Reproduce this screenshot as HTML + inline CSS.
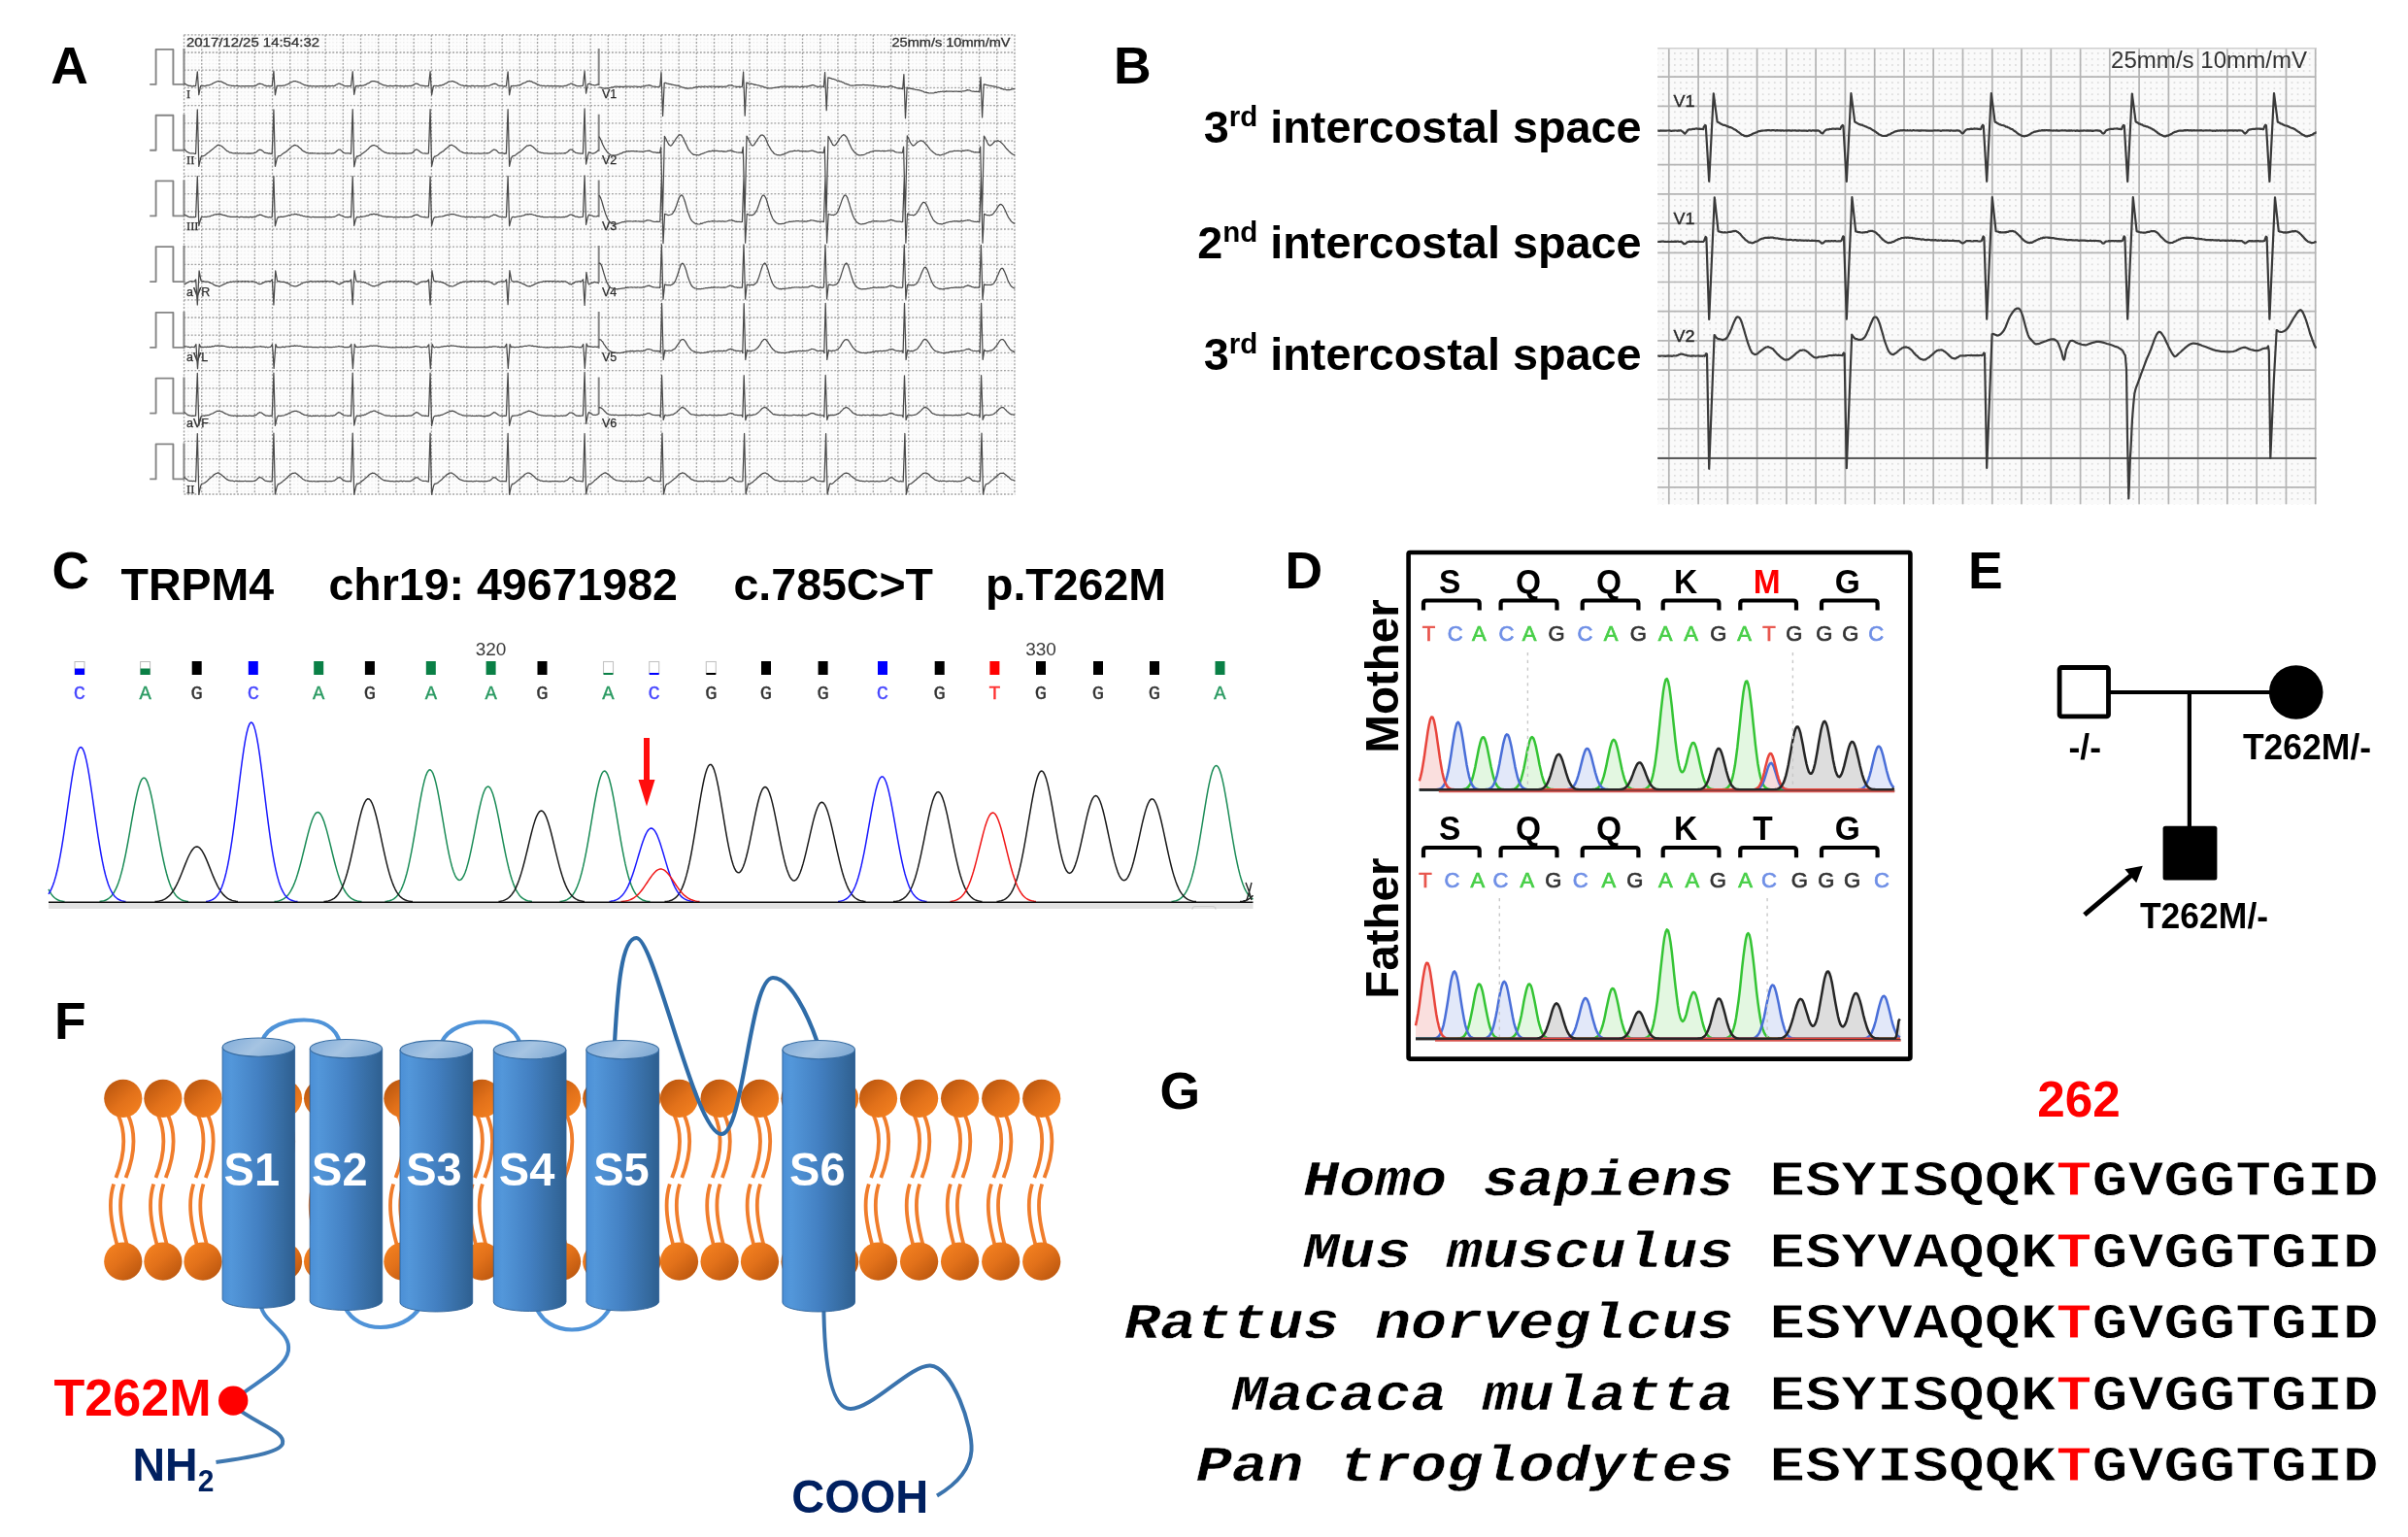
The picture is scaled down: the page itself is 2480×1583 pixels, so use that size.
<!DOCTYPE html>
<html><head><meta charset="utf-8"><title>Figure</title>
<style>
html,body{margin:0;padding:0;background:#fff;}
body{width:2480px;height:1583px;overflow:hidden;font-family:"Liberation Sans",sans-serif;}
svg{display:block;}
text{white-space:pre;}
</style></head><body>
<svg width="2480" height="1583" viewBox="0 0 2480 1583">
<rect width="2480" height="1583" fill="#fff"/>
<defs><filter id="nf" filterUnits="userSpaceOnUse" x="0" y="0" width="2480" height="1583" color-interpolation-filters="sRGB"><feOffset dx="0" dy="0"/></filter></defs>
<g filter="url(#nf)">
<defs>
<pattern id="gAd" x="189.5" y="35.8" width="3.6399999999999997" height="3.6399999999999997" patternUnits="userSpaceOnUse">
<rect x="0" y="0" width="1.3" height="1.3" fill="#ebebeb"/></pattern>
</defs>
<g id="panelA">
<rect x="188.5" y="34.8" width="857.8" height="474.7" fill="#fdfdfd"/>
<rect x="189.5" y="35.8" width="856.8" height="473.7" fill="url(#gAd)"/>
<path d="M189.5 35.8V508.5M207.7 35.8V508.5M225.9 35.8V508.5M244.1 35.8V508.5M262.3 35.8V508.5M280.5 35.8V508.5M298.7 35.8V508.5M316.9 35.8V508.5M335.1 35.8V508.5M353.3 35.8V508.5M371.5 35.8V508.5M389.7 35.8V508.5M407.9 35.8V508.5M426.1 35.8V508.5M444.3 35.8V508.5M462.5 35.8V508.5M480.7 35.8V508.5M498.9 35.8V508.5M517.1 35.8V508.5M535.3 35.8V508.5M553.5 35.8V508.5M571.7 35.8V508.5M589.9 35.8V508.5M608.1 35.8V508.5M626.3 35.8V508.5M644.5 35.8V508.5M662.7 35.8V508.5M680.9 35.8V508.5M699.1 35.8V508.5M717.3 35.8V508.5M735.5 35.8V508.5M753.7 35.8V508.5M771.9 35.8V508.5M790.1 35.8V508.5M808.3 35.8V508.5M826.5 35.8V508.5M844.7 35.8V508.5M862.9 35.8V508.5M881.1 35.8V508.5M899.3 35.8V508.5M917.5 35.8V508.5M935.7 35.8V508.5M953.9 35.8V508.5M972.1 35.8V508.5M990.3 35.8V508.5M1008.5 35.8V508.5M1026.7 35.8V508.5M1044.9 35.8V508.5M189.5 35.8H1045.3M189.5 54H1045.3M189.5 72.2H1045.3M189.5 90.4H1045.3M189.5 108.6H1045.3M189.5 126.8H1045.3M189.5 145H1045.3M189.5 163.2H1045.3M189.5 181.4H1045.3M189.5 199.6H1045.3M189.5 217.8H1045.3M189.5 236H1045.3M189.5 254.2H1045.3M189.5 272.4H1045.3M189.5 290.6H1045.3M189.5 308.8H1045.3M189.5 327H1045.3M189.5 345.2H1045.3M189.5 363.4H1045.3M189.5 381.6H1045.3M189.5 399.8H1045.3M189.5 418H1045.3M189.5 436.2H1045.3M189.5 454.4H1045.3M189.5 472.6H1045.3M189.5 490.8H1045.3M189.5 509H1045.3" stroke="#777" stroke-width="1.3" stroke-dasharray="1.9 1.74" fill="none" opacity="0.66"/>
<path d="M154.2 86.9H160.6V50.9H178.4V86.9H189.5M154.2 154.7H160.6V118.7H178.4V154.7H189.5M154.2 222.4H160.6V186.4H178.4V222.4H189.5M154.2 290.1H160.6V254.1H178.4V290.1H189.5M154.2 357.9H160.6V321.9H178.4V357.9H189.5M154.2 425.6H160.6V389.6H178.4V425.6H189.5M154.2 493.4H160.6V457.4H178.4V493.4H189.5" stroke="#858585" stroke-width="1.9" fill="none" stroke-linejoin="round"/>
<path d="M189.5 49.9V87.9M189.5 117.7V155.7M189.5 185.4V223.4M189.5 253.1V291.1M189.5 320.9V358.9M189.5 388.6V426.6M189.5 456.4V494.4M616.7 49.9V87.9M616.7 117.7V155.7M616.7 185.4V223.4M616.7 253.1V291.1M616.7 320.9V358.9M616.7 388.6V426.6" stroke="#858585" stroke-width="2" fill="none"/>
<text x="192" y="47.6" font-family='"Liberation Sans", sans-serif' font-size="12.5" font-weight="normal" fill="#303030" text-anchor="start" textLength="137" lengthAdjust="spacingAndGlyphs" stroke="#303030" stroke-width="0.3">2017/12/25 14:54:32</text>
<text x="1040.5" y="48.4" font-family='"Liberation Sans", sans-serif' font-size="12.5" font-weight="normal" fill="#303030" text-anchor="end" textLength="122" lengthAdjust="spacingAndGlyphs" stroke="#303030" stroke-width="0.3">25mm/s 10mm/mV</text>
<text x="192" y="101.4" font-family='"Liberation Serif", serif' font-size="12.5" font-weight="normal" fill="#2a2a2a" text-anchor="start" stroke="#2a2a2a" stroke-width="0.25">I</text>
<text x="192" y="169.2" font-family='"Liberation Serif", serif' font-size="12.5" font-weight="normal" fill="#2a2a2a" text-anchor="start" stroke="#2a2a2a" stroke-width="0.25">II</text>
<text x="192" y="236.9" font-family='"Liberation Serif", serif' font-size="12.5" font-weight="normal" fill="#2a2a2a" text-anchor="start" stroke="#2a2a2a" stroke-width="0.25">III</text>
<text x="192" y="304.6" font-family='"Liberation Sans", sans-serif' font-size="12.5" font-weight="normal" fill="#2a2a2a" text-anchor="start" stroke="#2a2a2a" stroke-width="0.25">aVR</text>
<text x="192" y="372.4" font-family='"Liberation Sans", sans-serif' font-size="12.5" font-weight="normal" fill="#2a2a2a" text-anchor="start" stroke="#2a2a2a" stroke-width="0.25">aVL</text>
<text x="192" y="440.1" font-family='"Liberation Sans", sans-serif' font-size="12.5" font-weight="normal" fill="#2a2a2a" text-anchor="start" stroke="#2a2a2a" stroke-width="0.25">aVF</text>
<text x="192" y="507.9" font-family='"Liberation Serif", serif' font-size="12.5" font-weight="normal" fill="#2a2a2a" text-anchor="start" stroke="#2a2a2a" stroke-width="0.25">II</text>
<text x="620" y="101.4" font-family='"Liberation Sans", sans-serif' font-size="12.5" font-weight="normal" fill="#2a2a2a" text-anchor="start" stroke="#2a2a2a" stroke-width="0.25">V1</text>
<text x="620" y="169.2" font-family='"Liberation Sans", sans-serif' font-size="12.5" font-weight="normal" fill="#2a2a2a" text-anchor="start" stroke="#2a2a2a" stroke-width="0.25">V2</text>
<text x="620" y="236.9" font-family='"Liberation Sans", sans-serif' font-size="12.5" font-weight="normal" fill="#2a2a2a" text-anchor="start" stroke="#2a2a2a" stroke-width="0.25">V3</text>
<text x="620" y="304.6" font-family='"Liberation Sans", sans-serif' font-size="12.5" font-weight="normal" fill="#2a2a2a" text-anchor="start" stroke="#2a2a2a" stroke-width="0.25">V4</text>
<text x="620" y="372.4" font-family='"Liberation Sans", sans-serif' font-size="12.5" font-weight="normal" fill="#2a2a2a" text-anchor="start" stroke="#2a2a2a" stroke-width="0.25">V5</text>
<text x="620" y="440.1" font-family='"Liberation Sans", sans-serif' font-size="12.5" font-weight="normal" fill="#2a2a2a" text-anchor="start" stroke="#2a2a2a" stroke-width="0.25">V6</text>
<path d="M189.5 86.3l1 -0.1 1 0.5 1 0.9 1 0.3 1 0.4 1 0.1 1 0 1 0.4 1 0 1 -0.4 1 0.2 1.1 -0.1 1.7 -14.7 1.5 23.8 1.8 -9.1 0.9 0.2 1 -0.4 1 0 1 0.4 1 -0.1 1 -0.4 1 -0.3 1 0 1 -0.2 1 -0.5 1 -0.2 1 -0.6 1 -0.6 1 -0.6 1 -0.4 1 -0.5 1 -0.3 1 -0.3 1 0 1 0.3 1 -0.2 1 0.6 1 0.4 1 0.8 1 0.1 1 0.6 1 0.8 1 0.3 1 0.2 1 0.3 1 0.1 1 0.4 1 -0.1 1 0.1 1 0.2 1 -0.1 1 -0.1 1 0 1 0.2 1 0 1 0.2 1 -0.1 1 -0.2 1 0.1 1 0.2 1 -0.2 1 -0.1 1 0 1 0.2 1 -0.1 1 0 1 -0.1 1 0.1 1 0 1 -0.1 1 0 1 -0.3 1 -0.8 1 -0.7 1 -0.3 1 -0.2 1 0.1 1 0.2 1 0.3 1 0.7 1 0.6 1 0.1 1 0.4 1 0 1 -0.2 1 0.2 1 0 1 0.1 0.7 -0.1 1.7 -15.2 1.5 24.4 1.8 -9.4 1.3 0 1 -0.1 1 0.1 1 -0.1 1 0 1 -0.1 1 -0.1 1 -0.1 1 -0.7 1 -0.3 1 -0.3 1 -0.6 1 -0.6 1 -0.5 1 -0.5 1 -0.5 1 -0.3 1 -0.1 1 0.1 1 0.3 1 0.3 1 0.4 1 0.3 1 0.4 1 0.6 1 0.5 1 0.5 1 0.6 1 0 1 0.4 1 0.4 1 0.2 1 0.1 1 -0.3 1 0.3 1 0.1 1 -0.3 1 0.2 1 0.1 1 0 1 -0.2 1 0.2 1 -0.1 1 -0.2 1 0.1 1 0.1 1 -0.1 1 0.2 1 -0.1 1 -0.1 1 0.2 1 0 1 -0.4 1 0.2 1 0.1 1 -0.2 1 -0.1 1 0.2 1 -0.2 1 -0.5 1 -0.9 1 -0.2 1 -0.7 1 -0.1 1 0.4 1 0.6 1 0.2 1 0.6 1 0.5 1 0.3 1 -0.1 1 0.1 1 0 1 0.1 1 -0.2 1 0.3 1.7 -15.1 1.5 23.7 1.8 -9 1 0.3 1 -0.3 1 0.2 1 -0.4 1 0.1 1 0 1 -0.1 1 -0.1 1 -0.7 1 0 1 -0.8 1 -0.6 1 -0.4 1 -0.3 1 -0.9 1 -0.5 1 -0.2 1 -0.1 1 0.1 1 0.1 1 0.4 1 0.1 1 0.7 1 0.6 1 0.6 1 0.2 1 0.7 1 0.3 1 0.4 1 0 1 0.2 1 0.6 1 0 1 0 1 -0.3 1 0.1 1 0.3 1 0 1 -0.2 1 -0.1 1 0 1 0.3 1 -0.3 1 0.1 1 0.1 1 -0.2 1 0.3 1 -0.2 1 0.3 1 0 1 -0.4 1 0.3 1 -0.2 1 0 1 -0.1 1 0.2 1 -0.2 1 -0.2 1 -0.7 1 -0.5 1 -0.7 1 -0.3 1 0.3 1 0.1 1 0.8 1 0.6 1 0.4 1 -0.1 1 0.2 1 0.1 1 0.3 1 -0.2 1 0 1 0.2 0.9 -0.1 1.7 -14.9 1.5 24.1 1.8 -9.1 1.1 -0.3 1 0.1 1 -0.2 1 0.2 1 0 1 -0.4 1 -0.2 1 0.2 1 -0.7 1 -0.1 1 -0.4 1 -0.9 1 -0.1 1 -0.7 1 -0.9 1 -0.1 1 -0.2 1 -0.2 1 -0.1 1 -0.1 1 0.7 1 0 1 0.7 1 0.3 1 0.6 1 0.8 1 0.5 1 0.3 1 0.5 1 -0.1 1 0.5 1 0.2 1 -0.4 1 0.4 1 -0.1 1 0.1 1 0.1 1 0.1 1 -0.4 1 0 1 0 1 0.4 1 -0.1 1 -0.2 1 -0.1 1 0.2 1 -0.1 1 0 1 0.2 1 -0.1 1 0.1 1 0 1 0.1 1 -0.1 1 -0.4 1 0.2 1 -0.2 1 -0.3 1 -0.6 1 -0.3 1 -0.5 1 -0.3 1 -0.1 1 0.1 1 0.5 1 0.8 1 0.5 1 0.2 1 0.1 1 0.1 1 0.2 1 0.1 1 -0.1 1 0.1 0.9 -0.2 1.7 -14.8 1.5 24 1.8 -9.3 1.1 0.2 1 -0.3 1 0.1 1 -0.2 1 0.2 1 -0.3 1 -0.3 1 0.1 1 -0.7 1 0 1 -0.8 1 -0.6 1 -0.4 1 -0.3 1 -0.4 1 -0.7 1 -0.5 1 0.1 1 -0.3 1 0.5 1 -0.1 1 0.9 1 0.4 1 0.2 1 0.6 1 0.5 1 0.5 1 0.4 1 0.4 1 0.5 1 0 1 0.3 1 -0.2 1 0.1 1 0.3 1 0.1 1 -0.5 1 0.1 1 0.2 1 0 1 -0.2 1 0.2 1 0.1 1 0 1 0 1 0.1 1 -0.3 1 0.1 1 0 1 0.2 1 -0.1 1 0.1 1 0 1 -0.1 1 -0.4 1 0.1 1 -0.3 1 -0.5 1 -0.4 1 -0.4 1 -0.6 1 -0.1 1 0.3 1 0.6 1 0.4 1 0.5 1 0.5 1 0.1 1 0.1 1 0.1 1 -0.1 1 -0.1 1 -0.2 0.9 -0.1 1.7 -15.1 1.5 23.1 1.8 -9.7 1.1 -0.2 1 -0.1 1 0.3 1 0.8 1 0.2 1 0.2 1 0.3 1 -0.3 1 -0.4 1 -0.1 1 -0.6 0.2 -0.1 M189.5 153.8l1 0.4 1 1.2 1 0.9 1 0.4 1 0.6 1 0.4 1 0.3 1 -0.1 1 0.1 1 0 1 0.3 1.1 0 1.7 -45.5 1.5 58.6 1.8 -8.1 0.9 -2.7 1 0.3 1 -0.2 1 -0.5 1 -0.6 1 -0.8 1 -1 1 -0.6 1 -0.7 1 -1 1 -0.6 1 -0.9 1 -0.7 1 -0.9 1 -1 1 -0.7 1 -0.8 1 -0.6 1 0.1 1 0.5 1 0.1 1 0.7 1 0.8 1 0.9 1 1 1 0.8 1 1.1 1 0.4 1 0.5 1 0.9 1 0 1 0.3 1 0.3 1 0.1 1 0.1 1 -0.2 1 0.3 1 -0.2 1 0.3 1 -0.3 1 0 1 0.2 1 0 1 -0.2 1 0.1 1 0.1 1 0.1 1 0 1 -0.2 1 0.3 1 -0.4 1 0.3 1 -0.3 1 0.2 1 -0.4 1 -0.2 1 -0.4 1 -0.7 1 -1 1 -0.8 1 -0.4 1 0.2 1 0.4 1 0.7 1 1 1 1 1 0 1 0.3 1 0 1 0.4 1 -0.2 1 0.4 1 -0.2 0.7 0.3 1.7 -45.5 1.5 58.4 1.8 -7.6 1.3 -2.8 1 -0.2 1 -0.1 1 -0.7 1 -1.1 1 -0.5 1 -0.9 1 -0.3 1 -0.9 1 -0.6 1 -1.1 1 -0.6 1 -1.4 1 -0.4 1 -1.2 1 -0.4 1 -0.6 1 -0.5 1 0.3 1 0.3 1 0.3 1 0.9 1 1 1 0.5 1 1.3 1 1 1 0.6 1 0.5 1 0.5 1 0.7 1 0.2 1 0.3 1 0 1 -0.1 1 0.1 1 -0.1 1 0.1 1 0 1 0.1 1 0.1 1 0.1 1 -0.2 1 0.2 1 0.1 1 -0.2 1 -0.2 1 0.4 1 -0.2 1 0.1 1 -0.1 1 0.2 1 -0.4 1 0.3 1 -0.2 1 0.1 1 0.2 1 -0.4 1 0 1 -0.4 1 -0.6 1 -1 1 -0.8 1 -0.9 1 -0.1 1 0.2 1 0.9 1 0.9 1 1.1 1 0.4 1 0.4 1 0 1 0 1 0 1 0 1 0.3 1 0.1 1.7 -45.6 1.5 59.1 1.8 -8 1 -2.9 1 0.2 1 -0.6 1 -0.4 1 -0.6 1 -0.9 1 -0.7 1 -0.7 1 -0.8 1 -0.7 1 -0.8 1 -1 1 -0.7 1 -1.3 1 -0.9 1 -0.6 1 -0.5 1 -0.3 1 -0.1 1 0.5 1 0.3 1 0.6 1 1 1 1 1 0.5 1 1.1 1 0.8 1 0.5 1 0.7 1 0.6 1 0 1 0.5 1 0.4 1 -0.3 1 0.4 1 -0.1 1 -0.2 1 0.1 1 0.3 1 -0.2 1 0 1 0 1 0.1 1 -0.1 1 0.2 1 -0.1 1 0 1 -0.3 1 0.4 1 -0.3 1 0.3 1 -0.2 1 0 1 0 1 -0.2 1 0.1 1 -0.1 1 -0.4 1 -0.7 1 -1.3 1 -0.8 1 -0.7 1 0.1 1 0.8 1 0.5 1 0.9 1 0.7 1 0.6 1 0.4 1 0.1 1 -0.2 1 0.3 1 -0.1 1 0.1 0.9 -0.1 1.7 -45.4 1.5 58.7 1.8 -7.9 1.1 -2.4 1 0 1 -0.5 1 -0.5 1 -0.8 1 -0.9 1 -0.8 1 -0.6 1 -0.8 1 -0.3 1 -1 1 -1.2 1 -0.5 1 -1 1 -0.7 1 -0.8 1 -0.9 1 -0.4 1 0.1 1 0.6 1 0.4 1 0.7 1 0.6 1 1 1 1 1 0.8 1 1 1 0.5 1 0.4 1 0.5 1 0.6 1 0.1 1 0 1 0.4 1 -0.3 1 0.3 1 -0.1 1 0.1 1 -0.3 1 0.2 1 0.1 1 0.2 1 -0.2 1 0.2 1 -0.2 1 -0.2 1 0.4 1 -0.2 1 0 1 0 1 -0.1 1 -0.1 1 0.1 1 0.1 1 -0.3 1 0.2 1 -0.4 1 -0.4 1 -0.8 1 -0.9 1 -0.6 1 -0.8 1 0.1 1 0.4 1 0.6 1 1.1 1 1.1 1 0.3 1 0.1 1 0 1 0.2 1 0 1 0.4 1 -0.4 0.9 0.2 1.7 -45.4 1.5 58.6 1.8 -8 1.1 -2.2 1 -0.4 1 -0.3 1 -0.3 1 -1 1 -0.7 1 -0.6 1 -1 1 -0.3 1 -1 1 -0.7 1 -0.8 1 -1.1 1 -0.9 1 -0.7 1 -1.1 1 -0.1 1 -0.3 1 -0.3 1 0.1 1 0.6 1 0.7 1 0.9 1 0.9 1 1.1 1 0.9 1 0.7 1 0.9 1 0.5 1 0.1 1 0.6 1 -0.1 1 0.2 1 0.3 1 -0.1 1 0 1 0 1 0.4 1 0 1 -0.1 1 -0.1 1 0.1 1 0.1 1 -0.2 1 -0.2 1 0.3 1 -0.1 1 0.1 1 -0.1 1 -0.2 1 0.3 1 -0.2 1 0.1 1 -0.1 1 -0.3 1 0.2 1 -0.8 1 -0.4 1 -1.1 1 -1 1 -0.5 1 0.1 1 0.3 1 1.2 1 0.6 1 0.9 1 0.4 1 0.1 1 0.2 1 0.1 1 0.2 1 0 1 -0.1 0.9 0.1 1.7 -46.2 1.5 57.2 1.8 -9 1.1 -3.4 1 0.5 1 0.4 1 0.4 1 0.2 1 -0.4 1 -0.2 1 -0.7 1 -0.5 1 -1 1 -0.8 0.2 0 M189.5 221.2l1 0.1 1 0.6 1 0.5 1 0.5 1 0.6 1 0.2 1 -0.3 1 0.3 1 0 1 -0.3 1 0.2 1.1 -0.2 1.7 -41.8 1.5 50.9 1.8 -6.7 0.9 -2.3 1 -0.1 1 0.1 1 -0.2 1 0 1 0.2 1 -0.5 1 0 1 -0.1 1 -0.1 1 -0.7 1 -0.1 1 -0.4 1 -0.4 1 -0.2 1 -0.3 1 0.1 1 -0.3 1 0.1 1 -0.2 1 0.2 1 0.6 1 0.2 1 0.3 1 -0.1 1 0.6 1 0.2 1 0.4 1 0.1 1 0.2 1 0.2 1 0 1 0.1 1 -0.1 1 0.1 1 -0.1 1 0.1 1 -0.1 1 0.2 1 0.3 1 -0.4 1 0 1 0 1 0.2 1 -0.1 1 0.2 1 -0.3 1 0.2 1 0.1 1 0.1 1 -0.4 1 0 1 0.4 1 -0.4 1 0.1 1 0 1 -0.4 1 -0.7 1 -0.6 1 -0.1 1 -0.6 1 0.3 1 0 1 0.8 1 0.3 1 0.3 1 0.6 1 -0.1 1 0.4 1 0.1 1 -0.3 1 0.3 1 0 0.7 -0.2 1.7 -42.1 1.5 51.3 1.8 -7 1.3 -2.4 1 0.2 1 -0.3 1 -0.1 1 0.2 1 -0.1 1 -0.2 1 -0.2 1 -0.2 1 -0.3 1 -0.3 1 -0.4 1 -0.1 1 -0.3 1 -0.4 1 0.1 1 -0.2 1 -0.4 1 0.2 1 0.1 1 0.4 1 0 1 0.2 1 0.6 1 0 1 0.3 1 0.5 1 0 1 0.3 1 0 1 0.3 1 0 1 0 1 0.4 1 0.1 1 -0.3 1 -0.2 1 0.4 1 -0.1 1 -0.1 1 0.2 1 0 1 0 1 0 1 -0.1 1 0.1 1 0 1 -0.2 1 0.3 1 -0.2 1 -0.1 1 0.2 1 0 1 -0.3 1 0.3 1 0 1 -0.2 1 -0.2 1 0 1 -0.5 1 -0.6 1 -0.8 1 -0.2 1 -0.3 1 0.7 1 0.4 1 0.4 1 0.4 1 0.5 1 0.3 1 0.1 1 -0.1 1 0.2 1 -0.4 1 0 1 0.4 1.7 -42.1 1.5 50.7 1.8 -6.9 1 -2.1 1 0.2 1 0.1 1 -0.1 1 -0.4 1 0.2 1 -0.2 1 -0.2 1 -0.2 1 -0.2 1 -0.5 1 0.1 1 -0.3 1 -0.7 1 -0.3 1 -0.3 1 0.2 1 -0.4 1 0 1 0.4 1 -0.1 1 0.2 1 0.3 1 0.4 1 0.4 1 0.2 1 0.4 1 0.3 1 0 1 0.3 1 -0.1 1 0.5 1 -0.4 1 0.2 1 -0.1 1 0.1 1 0 1 0.1 1 0.3 1 -0.3 1 0.3 1 -0.1 1 -0.2 1 0.1 1 0 1 -0.2 1 0.1 1 0.2 1 0 1 -0.3 1 0.2 1 -0.1 1 0.2 1 0 1 -0.2 1 -0.2 1 0.2 1 -0.6 1 -0.5 1 -0.5 1 -0.5 1 0 1 -0.3 1 0.2 1 0.9 1 0.5 1 0.4 1 0.2 1 0.2 1 0.1 1 -0.2 1 0.4 1 0 1 0 0.9 0 1.7 -42 1.5 50.6 1.8 -7 1.1 -1.6 1 -0.3 1 0.1 1 -0.1 1 -0.1 1 -0.2 1 -0.1 1 -0.1 1 -0.1 1 -0.3 1 -0.2 1 -0.5 1 -0.3 1 -0.2 1 -0.1 1 -0.3 1 -0.2 1 -0.2 1 -0.1 1 0.2 1 0 1 0.3 1 0.3 1 0.4 1 0.2 1 0.2 1 0.4 1 0.1 1 0.4 1 0.2 1 0 1 0.1 1 0.3 1 -0.1 1 0.1 1 -0.2 1 0 1 0.2 1 -0.2 1 0 1 0.3 1 -0.1 1 0.2 1 -0.4 1 0.1 1 -0.1 1 0.1 1 0 1 0 1 0.1 1 0.2 1 -0.2 1 0.2 1 0 1 -0.4 1 0.3 1 -0.1 1 -0.3 1 -0.8 1 -0.3 1 -0.4 1 -0.8 1 0.3 1 0 1 0.6 1 0.5 1 0.4 1 0.5 1 0 1 0.5 1 -0.3 1 0.1 1 -0.1 1 0.3 0.9 -0.3 1.7 -42.1 1.5 51.4 1.8 -7.1 1.1 -2.2 1 -0.1 1 0.2 1 0 1 -0.1 1 -0.3 1 -0.2 1 0 1 -0.2 1 -0.2 1 -0.3 1 -0.3 1 -0.1 1 -0.5 1 -0.5 1 0 1 -0.3 1 0.2 1 -0.3 1 0.1 1 0.1 1 0.3 1 0.3 1 0.2 1 0.2 1 0.7 1 0.3 1 -0.1 1 0.1 1 0.4 1 0.2 1 -0.1 1 0.4 1 0 1 0.1 1 -0.2 1 0.2 1 0 1 -0.2 1 -0.1 1 0.3 1 -0.2 1 0.1 1 -0.2 1 0.2 1 0.1 1 0 1 0.1 1 -0.2 1 0.1 1 0.1 1 -0.1 1 0 1 -0.3 1 0.3 1 -0.6 1 0 1 -0.5 1 -0.5 1 -0.7 1 -0.4 1 0.1 1 0.3 1 0.5 1 0.5 1 0.7 1 0.1 1 0 1 0.4 1 0.1 1 0 1 -0.2 1 -0.1 0.9 -0.2 1.7 -42.4 1.5 50.6 1.8 -8 1.1 -2.2 1 0.2 1 0.1 1 0.5 1 0.4 1 0.6 1 -0.2 1 0.2 1 -0.2 1 -0.4 1 0.1 0.2 -0.1 M189.5 292.9l1 -0.2 1 -0.8 1 -0.5 1 -0.6 1 -0.5 1 -0.5 1 -0.1 1 0 1 0.2 1 -0.1 0.6 0.1 1.6 -1.9 1.6 26 1.8 -35.1 1.8 9.7 0.6 1.1 1 0 1 0 1 0.4 1 0 1 0 1 0.1 1 0.1 1 0.3 1 0.8 1 0.2 1 0.4 1 0.7 1 0.7 1 0.4 1 0.6 1 -0.1 1 0.3 1 0.2 1 0 1 -0.6 1 -0.2 1 -0.7 1 -0.5 1 -0.4 1 -0.4 1 -0.6 1 -0.3 1 -0.2 1 -0.4 1 -0.4 1 0.2 1 -0.1 1 -0.4 1 0.2 1 -0.2 1 0 1 0.1 1 -0.3 1 0.4 1 -0.2 1 0.1 1 -0.2 1 0.2 1 0 1 -0.2 1 0.2 1 -0.1 1 -0.2 1 0.4 1 0 1 -0.1 1 -0.2 1 0.1 1 0.3 1 0.1 1 0.5 1 0.4 1 0.9 1 0.3 1 0.3 1 -0.1 1 -0.3 1 -0.8 1 -0.2 1 -0.7 1 -0.6 1 -0.1 1 0.1 1 -0.3 1 0.1 1.2 -0.1 1.6 -1.7 1.6 26.1 1.8 -35.2 1.8 10.2 1 0.9 1 -0.3 1 0.4 1 0.2 1 0.1 1 0.1 1 -0.2 1 0.5 1 0.4 1 0.5 1 0 1 0.8 1 0.6 1 0.7 1 0.5 1 0.3 1 0.1 1 0.4 1 0 1 -0.4 1 -0.2 1 -0.8 1 -0.1 1 -0.7 1 -0.7 1 -0.3 1 -0.8 1 -0.1 1 -0.2 1 -0.3 1 0 1 -0.3 1 0 1 -0.4 1 0 1 0.1 1 0.3 1 -0.2 1 0 1 0 1 0 1 -0.3 1 0.4 1 0 1 -0.4 1 0.2 1 -0.2 1 0.2 1 -0.2 1 0.1 1 0 1 0 1 0.1 1 0.2 1 0 1 -0.3 1 0 1 0.2 1 0.6 1 0.3 1 0.6 1 0.8 1 0.3 1 0.3 1 -0.4 1 -0.7 1 -0.4 1 -0.9 1 -0.5 1 0.3 1 -0.6 1 0 1 0.1 1 0.3 0.5 -0.4 1.6 -1.6 1.6 25.6 1.8 -34.9 1.8 10.3 0.7 1 1 -0.2 1 0.1 1 -0.1 1 0 1 0.5 1 0.3 1 -0.3 1 0.8 1 -0.1 1 0.9 1 0.1 1 0.6 1 0.5 1 0.7 1 0.2 1 0.7 1 0 1 0.2 1 -0.4 1 -0.3 1 -0.2 1 -0.5 1 -0.3 1 -0.6 1 -0.8 1 -0.4 1 -0.6 1 -0.2 1 0 1 -0.3 1 -0.4 1 0.1 1 0.1 1 -0.4 1 0 1 0.3 1 -0.2 1 0.1 1 -0.2 1 0.2 1 0 1 -0.1 1 -0.2 1 0.4 1 0 1 -0.3 1 -0.1 1 0.2 1 0 1 -0.2 1 0.1 1 0.3 1 -0.4 1 0.4 1 0 1 -0.1 1 0.6 1 0.3 1 1 1 0.3 1 0.8 1 0 1 -0.5 1 -0.6 1 -0.7 1 -0.8 1 -0.3 1 0.2 1 -0.3 1 -0.1 1 0 1 -0.1 0.4 0.1 1.6 -1.8 1.6 25.9 1.8 -35.3 1.8 10.3 0.8 0.8 1 -0.1 1 0.2 1 0.1 1 0.1 1 0.3 1 -0.2 1 0.5 1 0.1 1 0.7 1 0.1 1 0.6 1 0.6 1 0.7 1 0.6 1 0.1 1 0.6 1 0 1 0.3 1 -0.2 1 -0.3 1 -0.7 1 -0.2 1 -0.9 1 -0.3 1 -0.6 1 -0.4 1 -0.5 1 -0.1 1 -0.4 1 -0.4 1 0.2 1 -0.3 1 0.1 1 0 1 0.1 1 0 1 -0.5 1 0 1 0.1 1 -0.1 1 0 1 0.4 1 -0.2 1 0 1 0 1 -0.2 1 0.1 1 -0.1 1 0.4 1 -0.3 1 0 1 0 1 0.1 1 -0.1 1 0.3 1 -0.1 1 0.6 1 0.4 1 0.5 1 0.8 1 0.6 1 0.1 1 -0.4 1 -0.8 1 -0.9 1 -0.5 1 -0.1 1 -0.2 1 -0.3 1 0.2 1 -0.1 1 0.2 0.4 0 1.6 -2.2 1.6 25.9 1.8 -35 1.8 10.2 0.8 0.7 1 0.2 1 0.3 1 0.1 1 -0.4 1 0.1 1 0.2 1 0.4 1 0.5 1 0.5 1 0.3 1 0.6 1 0.2 1 0.5 1 0.6 1 0.7 1 0.3 1 0.2 1 -0.3 1 0.2 1 -0.6 1 -0.4 1 -0.4 1 -0.7 1 -0.2 1 -0.7 1 -0.3 1 -0.3 1 -0.3 1 -0.4 1 -0.1 1 -0.1 1 -0.6 1 0.3 1 -0.3 1 0 1 0 1 0 1 -0.1 1 0 1 0.1 1 0.1 1 -0.1 1 0 1 0.1 1 0 1 0.2 1 -0.4 1 0.2 1 0.2 1 0 1 -0.4 1 0.3 1 0 1 -0.1 1 0.1 1 0.6 1 0.5 1 0.7 1 0.8 1 0 1 0.5 1 -0.8 1 -0.3 1 -0.7 1 -0.9 1 -0.3 1 0.1 1 -0.3 1 0 1 -0.1 1 0.3 0.4 -0.3 1.6 -1.9 1.6 26.6 1.8 -34 1.8 11.1 0.8 1.4 1 -0.4 1 -0.5 1 -0.6 1 -0.2 1 -0.6 1 -0.3 1 0.5 1 0 1 0.3 1 0.6 0.2 0.4 M189.5 356.7l1 0.1 1 0.1 1 0.1 1 0.3 1 0 1 0.5 1 -0.2 1 -0.2 1 0.1 1 -0.1 0.6 0.4 1.8 -3.2 1.6 25.1 1.8 -25.1 1.4 3 0.8 0.2 1 -0.1 1 0 1 -0.4 1 0.1 1 0.2 1 -0.4 1 0.3 1 -0.4 1 0.2 1 -0.1 1 -0.6 1 0.2 1 -0.1 1 -0.6 1 0 1 0.2 1 -0.4 1 0.2 1 -0.1 1 0.3 1 -0.2 1 0.2 1 0 1 0.2 1 0.5 1 0.1 1 0.2 1 0.1 1 0.2 1 -0.1 1 -0.1 1 0.4 1 -0.3 1 0.1 1 0.1 1 -0.3 1 0.2 1 0.1 1 -0.1 1 -0.1 1 0.3 1 -0.4 1 0.4 1 -0.3 1 -0.1 1 0.4 1 -0.3 1 0.2 1 -0.1 1 0.2 1 0 1 0 1 -0.4 1 0.3 1 -0.3 1 -0.2 1 -0.2 1 0.2 1 -0.2 1 -0.2 1 -0.1 1 0.4 1 -0.1 1 0.1 1 0.2 1 0.5 1 -0.5 1 0.5 1 -0.1 1 -0.2 1.2 -0.1 1.8 -2.7 1.6 24.7 1.8 -24.8 1.4 3.1 1.2 0 1 0 1 0.1 1 -0.1 1 -0.3 1 -0.2 1 0.3 1 0 1 -0.6 1 0.1 1 -0.1 1 0 1 -0.3 1 -0.3 1 0 1 0 1 0.1 1 -0.5 1 0.4 1 -0.1 1 -0.1 1 0.4 1 -0.1 1 0 1 0.3 1 0.1 1 0.5 1 -0.1 1 0.3 1 -0.3 1 0.3 1 0 1 -0.2 1 0.1 1 -0.1 1 0.3 1 0 1 -0.1 1 0.1 1 0.1 1 -0.1 1 0.2 1 -0.1 1 -0.3 1 0 1 0.1 1 0.1 1 0.1 1 0.1 1 -0.1 1 -0.2 1 -0.1 1 0.3 1 -0.2 1 0 1 0 1 0 1 -0.1 1 0.1 1 -0.3 1 0 1 -0.2 1 -0.3 1 0 1 0.3 1 -0.2 1 0.4 1 0.2 1 0.3 1 -0.2 1 0.2 1 -0.2 1 0.1 1 -0.2 0.5 0.1 1.8 -3 1.6 25.2 1.8 -25.2 1.4 3 0.9 -0.1 1 0.2 1 -0.2 1 -0.1 1 0.1 1 -0.2 1 -0.1 1 0.2 1 -0.1 1 0 1 -0.4 1 -0.2 1 0.1 1 -0.3 1 -0.2 1 -0.1 1 0.2 1 -0.3 1 0.1 1 0 1 0.1 1 0 1 0.1 1 0.2 1 0.1 1 0.5 1 0.1 1 0 1 0 1 0.3 1 -0.2 1 0.1 1 0.3 1 -0.1 1 0.1 1 0.1 1 0 1 -0.1 1 0.1 1 0 1 0 1 -0.2 1 0.1 1 -0.2 1 0.1 1 0.1 1 -0.3 1 0.4 1 -0.2 1 0.1 1 -0.1 1 0.2 1 -0.4 1 0.3 1 0.1 1 -0.3 1 0.2 1 -0.3 1 0 1 -0.3 1 -0.4 1 0 1 0.1 1 0 1 0.2 1 0.3 1 0.3 1 -0.1 1 0 1 -0.1 1 0 1 0.1 1 0.2 0.4 -0.3 1.8 -2.6 1.6 25 1.8 -25.2 1.4 2.9 1 0.3 1 -0.3 1 -0.1 1 0.2 1 -0.1 1 0.1 1 -0.1 1 -0.5 1 0.2 1 -0.4 1 -0.1 1 0 1 0 1 -0.5 1 0.1 1 0 1 -0.1 1 -0.3 1 0.2 1 0.1 1 0 1 0.3 1 -0.1 1 0.2 1 0.3 1 -0.1 1 0.1 1 0.5 1 -0.2 1 0.3 1 -0.3 1 0.1 1 0.3 1 0.1 1 0 1 -0.4 1 0.4 1 -0.2 1 0.1 1 -0.1 1 0 1 0 1 0.3 1 -0.3 1 0.2 1 -0.1 1 0.1 1 0 1 -0.1 1 0 1 0.1 1 -0.2 1 0.1 1 0.2 1 -0.1 1 -0.1 1 -0.3 1 -0.1 1 0.1 1 0.1 1 -0.6 1 0.1 1 -0.1 1 0 1 0.2 1 0.3 1 -0.1 1 0.4 1 0 1 -0.2 1 0.3 1 0 1 -0.3 0.4 0.4 1.8 -3.4 1.6 25.1 1.8 -24.9 1.4 3.1 1 -0.3 1 0 1 0.3 1 -0.2 1 0 1 -0.1 1 0.1 1 0 1 -0.4 1 -0.2 1 0.2 1 -0.2 1 -0.4 1 -0.2 1 0 1 0.2 1 -0.5 1 -0.1 1 0 1 0.1 1 0.4 1 -0.2 1 0.4 1 -0.1 1 0 1 0.3 1 0.4 1 0.1 1 -0.2 1 0.4 1 -0.1 1 0.1 1 0.2 1 -0.2 1 0.3 1 0 1 -0.2 1 0.2 1 0 1 -0.2 1 -0.1 1 -0.1 1 0.4 1 -0.2 1 0.1 1 -0.2 1 0.1 1 -0.2 1 0.3 1 0.1 1 -0.3 1 0.3 1 -0.3 1 0.1 1 -0.2 1 0.1 1 -0.1 1 0 1 -0.3 1 0 1 -0.4 1 0.1 1 0.3 1 0.1 1 0.1 1 0 1 0.4 1 -0.2 1 0 1 0.3 1 -0.3 1 0.3 0.4 0 1.8 -3.3 1.6 25 1.8 -25.6 1.4 3 1 0 1 -0.2 1 0.5 1 -0.2 1 0.5 1 0 1 -0.4 1 0.1 1 0.1 1 0 1 -0.6 0.2 0.1 M189.5 424.7l1 0.3 1 0.9 1 0.9 1 0.8 1 0.1 1 0.4 1 0 1 0.2 1 -0.1 1 0.2 1 -0.3 1.1 0.1 1.7 -43.9 1.5 54 1.8 -8.1 0.9 -1.8 1 -0.2 1 -0.1 1 0.2 1 -0.4 1 0 1 -0.3 1 0.1 1 -0.2 1 -0.7 1 -0.5 1 -0.3 1 -0.4 1 -0.6 1 -0.7 1 -0.3 1 -0.7 1 0 1 0.2 1 -0.2 1 0.5 1 0.1 1 0.5 1 0.7 1 0.5 1 0.5 1 0.4 1 0.3 1 0.8 1 0.1 1 0.1 1 0.3 1 0 1 0.3 1 -0.4 1 0.2 1 0.3 1 -0.3 1 0.2 1 0 1 -0.1 1 0.2 1 -0.1 1 -0.3 1 0.1 1 0.3 1 -0.3 1 0.3 1 -0.1 1 -0.3 1 0.1 1 0.2 1 -0.1 1 0 1 0 1 -0.7 1 0.1 1 -0.8 1 -1 1 -0.6 1 -0.7 1 0.4 1 0.2 1 0.8 1 0.9 1 0.5 1 0.6 1 0 1 0.1 1 0.2 1 0 1 -0.1 1 0.1 0.7 0.2 1.7 -44.3 1.5 54.2 1.8 -8.1 1.3 -2.2 1 0.3 1 0 1 -0.1 1 -0.3 1 0 1 -0.2 1 -0.3 1 -0.6 1 0 1 -0.6 1 -0.7 1 -0.4 1 -0.4 1 -0.6 1 -0.4 1 -0.2 1 -0.2 1 0 1 0 1 0.5 1 0.3 1 0.3 1 0.6 1 0.8 1 0.4 1 0.6 1 0.4 1 0.2 1 0.1 1 0.1 1 0.5 1 0.2 1 -0.2 1 0.3 1 0 1 -0.4 1 0.4 1 -0.3 1 0.2 1 -0.3 1 0 1 0.4 1 0 1 -0.4 1 0.1 1 0.1 1 -0.1 1 -0.1 1 0.2 1 0 1 0.2 1 -0.1 1 0.1 1 -0.3 1 0 1 0.2 1 -0.5 1 -0.1 1 -0.6 1 -1 1 -0.7 1 -0.8 1 0.1 1 0.3 1 1 1 0.5 1 1 1 0.2 1 0.1 1 0.1 1 0.1 1 0.2 1 -0.1 1 0 1 0.3 1.7 -44.4 1.5 54 1.8 -7.8 1 -2.2 1 0.2 1 0 1 -0.2 1 0.2 1 -0.5 1 -0.3 1 0.2 1 -0.7 1 0.1 1 -0.9 1 -0.2 1 -0.9 1 -0.2 1 -0.8 1 0 1 -0.4 1 -0.5 1 0 1 0.2 1 0.6 1 0.3 1 0.4 1 0.7 1 0.1 1 0.6 1 0.4 1 0.5 1 0.5 1 0.4 1 -0.1 1 0.4 1 -0.1 1 0.1 1 0 1 0.3 1 0 1 -0.2 1 0.2 1 -0.2 1 0.2 1 -0.1 1 0.1 1 -0.2 1 0.1 1 0 1 0 1 -0.1 1 -0.2 1 0.2 1 0.2 1 -0.1 1 0 1 -0.2 1 -0.1 1 0 1 0 1 -0.4 1 -0.7 1 -0.8 1 -0.7 1 -0.9 1 0.2 1 0.4 1 0.7 1 0.8 1 0.6 1 0.7 1 0 1 0 1 0.4 1 -0.2 1 0.2 1 0.1 0.9 0 1.7 -44.3 1.5 54.3 1.8 -8.3 1.1 -1.7 1 -0.2 1 0.1 1 -0.3 1 -0.2 1 0.2 1 -0.4 1 -0.4 1 0 1 -0.5 1 -0.5 1 -0.6 1 -0.2 1 -0.8 1 -0.2 1 -0.5 1 -0.7 1 0.3 1 -0.5 1 0.2 1 0.4 1 0.4 1 0.5 1 0.7 1 0.5 1 0.6 1 0.2 1 0.4 1 0.3 1 0.6 1 0 1 0.3 1 -0.2 1 0.1 1 -0.1 1 0.2 1 0 1 0 1 0.3 1 -0.3 1 0.3 1 -0.1 1 0.1 1 -0.4 1 0.4 1 -0.4 1 0 1 0.2 1 -0.2 1 0.4 1 0 1 0 1 0 1 0 1 -0.4 1 0.3 1 -0.5 1 -0.2 1 -0.6 1 -0.9 1 -0.6 1 -0.9 1 0.2 1 0.3 1 0.8 1 0.7 1 0.8 1 0.5 1 0.3 1 -0.3 1 0.4 1 -0.1 1 -0.2 1 0.2 0.9 -0.2 1.7 -44 1.5 54.2 1.8 -7.8 1.1 -2.3 1 0.1 1 -0.3 1 0.1 1 -0.1 1 -0.2 1 0 1 -0.5 1 -0.3 1 0 1 -0.8 1 -0.5 1 -0.6 1 -0.2 1 -0.5 1 -0.4 1 -0.4 1 -0.4 1 0.2 1 0.3 1 0.2 1 0.5 1 0.2 1 0.5 1 0.4 1 1 1 0.3 1 0.5 1 0 1 0.2 1 0.4 1 -0.1 1 0.3 1 0 1 0.1 1 0.1 1 -0.3 1 0.1 1 0.1 1 -0.1 1 0.1 1 0 1 0.3 1 0 1 0 1 -0.3 1 0 1 0.3 1 -0.2 1 0.2 1 -0.3 1 0 1 0.3 1 -0.5 1 0.1 1 0 1 -0.5 1 -0.5 1 -1 1 -0.9 1 -0.1 1 -0.1 1 0.2 1 0.6 1 0.9 1 0.8 1 0.6 1 0 1 0.2 1 -0.2 1 0.2 1 -0.1 1 -0.2 0.9 0 1.7 -44.7 1.5 53.2 1.8 -9.2 1.1 -2.7 1 0.6 1 0.2 1 1 1 0.8 1 0.3 1 -0.1 1 0.1 1 -0.4 1 -0.1 1 -0.8 0.2 0.1 M616.7 89.8l1 0.2 1 0.1 1 0.5 1 0.2 1 0.1 1 0.3 1 -0.1 1 -0.2 1 -0.2 1 0.2 1 -0.3 1 -0.1 1 -0.6 1 -0.1 1 0.1 1 -0.6 1 -0.1 1 0 1 0 1 0.2 1 0 1 -0.3 1 0.2 1 0 1 0 1 0.1 1 -0.2 1 0 1 -0.2 1 0.2 1 -0.1 1 0.1 1 -0.1 1 0.1 1 0.1 1 -0.3 1 0 1 0.1 1 0 1 0.2 1 0.1 1 -0.1 1 0.2 1 -0.4 1 0.1 1 -0.3 1 0 1 -0.5 1 -0.3 1 0.1 1 -0.3 1 -0.3 1 0.5 1 0.1 1 0.6 1 0.4 1 -0.1 1 0 1 0.3 1 0.1 1 -0.1 1 -0.3 1.1 0.1 1.2 -14.7 1.6 44.9 1.6 -33.9 0.5 0 1 -0.1 1 0.6 1 0.1 1 0.2 1 0.4 1 -0.1 1 0.5 1 0 1 0.4 1 0.1 1 0.3 1 0.3 1 -0.1 1 0.3 1 0.6 1 0 1 0.7 1 0.2 1 0.1 1 0.4 1 0.5 1 -0.2 1 0.5 1 0 1 -0.3 1 0.1 1 -0.1 1 -0.1 1 -0.2 1 -0.5 1 0 1 -0.4 1 0 1 -0.2 1 -0.4 1 0.2 1 -0.1 1 -0.2 1 0.3 1 0 1 -0.4 1 0.1 1 0.3 1 0 1 -0.3 1 -0.1 1 0.4 1 -0.4 1 0.1 1 0.1 1 0.1 1 0.2 1 0 1 -0.4 1 0.4 1 -0.3 1 0.3 1 -0.3 1 0.1 1 0.1 1 0.1 1 -0.4 1 0.2 1 -0.3 1 -0.5 1 -0.5 1 -0.1 1 0.1 1 -0.2 1 0.6 1 0.5 1 0.2 1 0.1 1 0.3 1 0 1 -0.1 1 -0.1 1 0.3 1 -0.1 0.7 -0.3 1.2 -15.1 1.6 45.2 1.6 -34 0.9 0.2 1 0.5 1 0.3 1 0.2 1 -0.2 1 0.3 1 0.1 1 0.7 1 -0.1 1 0.2 1 0.1 1 0.5 1 -0.1 1 0.7 1 0.1 1 0.2 1 0.3 1 0.4 1 0.3 1 0.3 1 0.2 1 0.5 1 0 1 0 1 0 1 0.1 1 -0.3 1 -0.2 1 0 1 -0.3 1 -0.1 1 -0.3 1 -0.2 1 0.1 1 -0.4 1 -0.2 1 -0.1 1 0.1 1 0.1 1 -0.2 1 0.1 1 0 1 -0.1 1 0.3 1 -0.3 1 0.4 1 -0.3 1 0.1 1 0.1 1 -0.2 1 0.1 1 -0.1 1 -0.1 1 0.3 1 0.2 1 -0.2 1 -0.2 1 0.3 1 0 1 -0.4 1 0.1 1 0.1 1 -0.4 1 0.1 1 -0.5 1 -0.1 1 -0.4 1 -0.3 1 0.1 1 0.3 1 0.6 1 0.2 1 0.4 1 0.2 1 -0.2 1 -0.1 1 0 1 0.1 1 -0.1 0.7 0.3 1.2 -14.9 1.6 39.1 1.6 -33.7 0.9 0.2 1 0.3 1 0.3 1 0.4 1 0.4 1 0 1 0.3 1 0.5 1 0.5 1 0.3 1 -0.1 1 0.8 1 0 1 0.4 1 0.6 1 0.1 1 0.9 1 0.3 1 0.3 1 0.6 1 0 1 0.6 1 0.3 1 0.2 1 -0.1 1 0.1 1 -0.1 1 -0.1 1 -0.2 1 -0.2 1 0.1 1 0.1 1 -0.2 1 0.1 1 0 1 -0.2 1 -0.1 1 0.3 1 0 1 0.1 1 -0.1 1 0.2 1 0 1 0.1 1 0.3 1 -0.1 1 0 1 0.5 1 -0.3 1 0.2 1 0.4 1 0 1 0 1 0 1 0.3 1 0.1 1 -0.1 1 0.1 1 0 1 0.2 1 -0.2 1 0.1 1 -0.5 1 -0.3 1 0.1 1 0.1 1 0.6 1 0.1 1 0.4 1 0.3 1 0.5 1 0.1 1 0.3 1 -0.2 1 0.2 1 0.3 1 0.3 1.2 -15.1 1.6 45.1 1.6 -31.5 0.6 0.2 1 0.5 1 -0.2 1 0.6 1 -0.1 1 0.5 1 0.1 1 0 1 0.5 1 0.2 1 0.1 1 0.1 1 0.2 1 0.3 1 0.2 1 0.5 1 0.1 1 0.8 1 0.3 1 0.1 1 0.4 1 0 1 0.3 1 0.1 1 -0.1 1 0.1 1 0 1 -0.2 1 -0.4 1 -0.2 1 0.1 1 -0.5 1 -0.3 1 0.1 1 -0.2 1 0.1 1 -0.3 1 0 1 -0.1 1 0.3 1 -0.5 1 0.2 1 0.1 1 -0.2 1 0.1 1 0 1 0 1 0.3 1 -0.2 1 0 1 -0.2 1 0 1 0.3 1 -0.1 1 0.2 1 -0.2 1 -0.2 1 -0.2 1 0.1 1 -0.2 1 -0.3 1 -0.5 1 -0.3 1 0.4 1 -0.1 1 0.7 1 0.3 1 0.2 1 -0.1 1 0.3 1 0 1 -0.1 1 0.3 1 -0.3 1.1 0.3 1.2 -15.2 1.6 41.6 1.6 -34 0.5 -0.1 1 0.3 1 0.3 1 0.2 1 0.2 1 0.4 1 0.2 1 0 1 0.2 1 0.2 1 0.1 1 0.3 1 0.2 1 0.5 1 0.1 1 0.2 1 0.3 1 0.6 1 0.4 1 0 1 0.6 1 -0.1 1 0.2 1 0.5 1 0 1 -0.3 1 0.2 1 -0.1 1 -0.6 1 0 1 -0.4 1 0.1 0.6 -0.2 M616.7 140.6l1 1.3 1 1.9 1 2.5 1 2.4 1 2 1 2.1 1 1.4 1 1.5 1 1.3 1 0.9 1 0.7 1 0.9 1 0.3 1 0.4 1 -0.3 1 0.5 1 -0.5 1 0.1 1 -0.6 1 -0.2 1 -0.4 1 -0.7 1 0 1 -0.4 1 -0.9 1 -0.1 1 -0.1 1 -0.7 1 -0.2 1 0.3 1 -0.3 1 0.1 1 -0.2 1 -0.1 1 0.2 1 -0.2 1 0.4 1 0 1 -0.3 1 0.3 1 0.1 1 0 1 0.1 1 0.1 1 0.2 1 -0.4 1 -0.2 1 -0.2 1 -0.1 1 -0.1 1 -0.1 1 -0.1 1 0.3 1 0.7 1 0.3 1 0.3 1 0.1 1 0 1 0.2 1 0.3 1 -0.3 1 0.2 0.9 0 1.1 -5.7 1.7 72.3 2 -83.6 1.3 2.2 1 2.4 1 1.8 1 2 1 0.8 1 0.7 1 -0.7 1 -1.2 1 -1.7 1 -1.3 1 -1.8 1 -1.4 1 -1.3 1 -1.1 1 -0.9 1 0.1 1 0.3 1 1.6 1 1.3 1 2.4 1 2.4 1 2 1 2.1 1 2.3 1 1.5 1 1 1 1.3 1 1 1 0.8 1 0.5 1 0 1 0.1 1 0 1 0.2 1 0.1 1 -0.4 1 -0.5 1 -0.4 1 -0.4 1 -0.2 1 -0.6 1 -0.3 1 -0.5 1 -0.1 1 -0.6 1 -0.2 1 0.2 1 -0.2 1 -0.4 1 0.3 1 -0.4 1 0.3 1 -0.1 1 0.1 1 0.3 1 0 1 0.1 1 -0.1 1 0 1 0.4 1 -0.3 1 0.3 1 0.1 1 -0.3 1 -0.5 1 -0.1 1 -0.2 1 -0.2 1 0.2 1 0.5 1 0.5 1 0.3 1 0.1 1 0.3 1 0.2 1 0.2 1 0 1 -0.1 1 0.1 0.5 0.4 1.1 -6.3 1.7 72.4 2 -83.6 0.7 1.1 1 2 1 2.3 1 1.8 1 1.8 1 0.9 1 -0.1 1 -0.8 1 -1.7 1 -1.5 1 -1.5 1 -1.6 1 -1.2 1 -1.4 1 -1 1 -0.2 1 0.2 1 0.7 1 1.4 1 1.7 1 2.5 1 2.4 1 2.1 1 1.8 1 1.8 1 1.5 1 1.1 1 1.3 1 1 1 0.3 1 0.5 1 0.4 1 0 1 0.2 1 -0.1 1 -0.2 1 -0.6 1 0.1 1 -0.6 1 -0.4 1 -0.3 1 -0.6 1 -0.3 1 -0.7 1 0 1 -0.4 1 0.1 1 -0.3 1 -0.2 1 -0.2 1 0.3 1 -0.1 1 -0.2 1 0 1 0.4 1 -0.1 1 0 1 0.2 1 0 1 0.1 1 -0.1 1 0.2 1 -0.1 1 0.1 1 -0.4 1 -0.1 1 -0.3 1 0.1 1 0.2 1 0.4 1 0.4 1 0.2 1 0.4 1 0.3 1 -0.3 1 0.4 1 -0.3 1 0.2 1 0.2 0.5 -0.2 1.1 -5.9 1.7 72.7 2 -83.5 0.7 0.9 1 1.9 1 2.2 1 1.9 1 1.8 1 0.6 1 0.2 1 -0.9 1 -1.3 1 -1.6 1 -1.7 1 -1.8 1 -1 1 -1.3 1 -0.9 1 -0.7 1 0.3 1 1 1 1 1 1.9 1 2.3 1 2.5 1 2.1 1 2.2 1 1.9 1 1.1 1 1.3 1 1.3 1 0.4 1 1.1 1 0.3 1 0.4 1 0.1 1 0 1 -0.3 1 0 1 -0.2 1 -0.4 1 -0.5 1 -0.7 1 -0.3 1 -0.1 1 -0.7 1 -0.3 1 -0.2 1 -0.3 1 -0.3 1 -0.2 1 0 1 -0.1 1 0.1 1 -0.1 1 0.1 1 0.1 1 0 1 -0.1 1 0.3 1 -0.3 1 0.3 1 -0.2 1 -0.1 1 -0.3 1 -0.1 1 0 1 0 1 0 1 0.2 1 0.4 1 0.7 1 0.4 1 0.2 1 0.1 1 0.1 1 0.1 1 0 1 0.1 0.8 -0.2 1.1 -5.9 1.7 72.3 2 -83.7 0.4 0.8 1 1.8 1 2.6 1 2 1 1.4 1 1.3 1 0.4 1 -0.7 1 -0.7 1 -1.2 1 -0.9 1 -0.7 1 -0.4 1 -0.5 1 -0.1 1 0.3 1 0.5 1 0.6 1 1.2 1 1.1 1 0.8 1 1.4 1 1.3 1 1.5 1 1 1 1 1 0.8 1 0.8 1 0.7 1 0.9 1 0.4 1 0.1 1 0.1 1 0.4 1 0 1 -0.3 1 -0.3 1 -0.2 1 -0.3 1 -0.5 1 -0.6 1 -0.1 1 -0.6 1 -0.6 1 -0.2 1 0 1 -0.3 1 0 1 -0.5 1 0 1 0.2 1 -0.2 1 0 1 0 1 0.2 1 0.1 1 0 1 -0.4 1 0.2 1 -0.3 1 -0.2 1 -0.1 1 -0.2 1 0.3 1 0.2 1 0.4 1 0.6 1 0 1 0.5 1 0.2 1 -0.1 1 0.2 1 0 1 0 0.9 0.4 1.1 -6.2 1.7 72.7 2 -83.7 1.3 2.1 1 2 1 2.3 1 2 1 1 1 0.5 1 -0.6 1 -0.6 1 -1.1 1 -1.2 1 -0.8 1 -0.5 1 -0.1 1 -0.3 1 0.5 1 0.2 1 1 1 0.8 1 1.1 1 1 1 1.2 1 1.5 1 1.1 1 1 1 1.2 1 0.9 1 0.9 1 0.7 1 0.8 1 0.5 1 0.5 0.6 -0.3 M616.7 201.3l1 0.8 1 2 1 2.8 1 3.6 1 3.5 1 3.4 1 3 1 2.4 1 2.5 1 1.5 1 1.4 1 1 1 0.6 1 0.3 1 0.5 1 0.5 1 -0.1 1 -0.1 1 -0.5 1 -0.3 1 -0.3 1 -0.3 1 -0.3 1 -0.5 1 -0.2 1 0.1 1 -0.5 1 0 1 -0.2 1 0 1 0 1 0 1 0 1 0.1 1 0.1 1 -0.3 1 0 1 -0.1 1 0.2 1 0.1 1 -0.1 1 0.3 1 -0.2 1 0.1 1 0.1 1 -0.1 1 -0.3 1 -0.2 1 -0.4 1 -0.3 1 -0.1 1 0.2 1 0.1 1 0.4 1 0.4 1 0.3 1 0.1 1 0.2 1 -0.2 1 -0.2 1 0.3 1 -0.1 1.1 -0.1 1.6 -45.6 1.6 68 1.6 -30.3 1.1 0.3 1 0.4 1 0.5 1 0 1 -0.2 1 -0.3 1 -0.4 1 -0.6 1 -1.7 1 -1.6 1 -2.5 1 -2.5 1 -3.3 1 -2.7 1 -2.5 1 -1.4 1 -0.9 1 0.5 1 1.5 1 2.6 1 3 1 3.6 1 3.5 1 3.3 1 2.6 1 2.7 1 1.9 1 1.5 1 0.9 1 0.9 1 0.6 1 0.7 1 0 1 0.2 1 0.1 1 -0.1 1 -0.8 1 0.2 1 -0.4 1 -0.4 1 -0.5 1 0 1 -0.5 1 -0.1 1 -0.4 1 0.3 1 -0.3 1 -0.1 1 -0.3 1 0.2 1 0.1 1 -0.1 1 0.2 1 0.1 1 -0.2 1 -0.1 1 0.1 1 0.2 1 -0.2 1 0 1 0.3 1 -0.2 1 0 1 -0.2 1 -0.3 1 -0.3 1 -0.3 1 0.1 1 -0.1 1 0.5 1 0 1 0.4 1 0.5 1 -0.2 1 0.4 1 -0.2 1 0 1 0.2 1 0 0.7 -0.1 1.6 -45.8 1.6 67.6 1.6 -29.6 0.5 -0.2 1 0.6 1 0.3 1 0.1 1 0.3 1 -0.1 1 -0.5 1 -0.6 1 -1.3 1 -1.6 1 -1.6 1 -2.8 1 -2.6 1 -3.3 1 -2.5 1 -2.4 1 -1.2 1 0 1 1 1 1.8 1 2.5 1 3.6 1 3.4 1 3.4 1 3.1 1 2.5 1 2.5 1 1.5 1 1.3 1 0.9 1 1 1 0.3 1 0.6 1 0.1 1 0 1 -0.1 1 -0.3 1 0.2 1 -0.4 1 -0.5 1 -0.5 1 -0.1 1 -0.2 1 -0.6 1 0.1 1 0 1 -0.1 1 -0.1 1 -0.3 1 0.2 1 -0.3 1 0 1 -0.1 1 0.1 1 0.3 1 -0.1 1 -0.1 1 0.1 1 0.2 1 -0.2 1 0.3 1 -0.1 1 -0.5 1 0.1 1 -0.2 1 -0.6 1 -0.1 1 0.2 1 0.1 1 0.2 1 0.3 1 0 1 0.6 1 -0.2 1 0.1 1 0.3 1 -0.3 1 0.1 1 0.2 0.7 0.1 1.6 -46.1 1.6 67.8 1.6 -29.8 0.5 0.3 1 0.3 1 0.2 1 0.3 1 -0.1 1 0.2 1 -0.7 1 -0.3 1 -1 1 -1.8 1 -2 1 -2.8 1 -2.6 1 -3 1 -2.8 1 -1.9 1 -1.6 1 -0.1 1 1 1 1.6 1 3.3 1 2.9 1 3.8 1 3.1 1 3.4 1 2.7 1 2 1 1.6 1 1.6 1 1 1 0.6 1 0.8 1 0.2 1 0.4 1 -0.2 1 -0.2 1 0 1 -0.2 1 -0.2 1 -0.7 1 -0.2 1 -0.5 1 -0.2 1 0 1 -0.6 1 -0.1 1 -0.1 1 -0.1 1 0.1 1 -0.1 1 0.1 1 0 1 0.2 1 0.1 1 -0.3 1 0.1 1 0.3 1 -0.3 1 0 1 -0.1 1 -0.3 1 -0.3 1 -0.1 1 -0.5 1 0.1 1 0 1 0.4 1 0.1 1 0.6 1 0 1 0.4 1 0 1 -0.1 1 0.1 1 0.2 1 0.2 1 -0.2 1.6 -46 1.6 67.8 1.6 -30 1.2 0.4 1 0.5 1 0.3 1 0.1 1 0 1 0.3 1 -0.4 1 -0.5 1 -1 1 -1.3 1 -1.9 1 -1.5 1 -2.4 1 -1.6 1 -1.5 1 -1.4 1 0.1 1 0.4 1 1.2 1 1.9 1 2.2 1 2.6 1 2.6 1 2.4 1 1.8 1 2.1 1 1.4 1 1 1 0.7 1 0.9 1 0.5 1 0.3 1 0.2 1 0 1 0.3 1 -0.1 1 -0.5 1 -0.2 1 -0.4 1 -0.5 1 0 1 -0.5 1 -0.2 1 -0.2 1 0 1 -0.2 1 -0.2 1 -0.1 1 -0.2 1 0.4 1 -0.3 1 0.4 1 -0.3 1 0.3 1 -0.4 1 0 1 0.2 1 -0.4 1 0 1 -0.3 1 -0.2 1 -0.3 1 0.2 1 -0.1 1 0.5 1 0.4 1 0.1 1 0.4 1 0.1 1 0 1 0.2 1 -0.4 1 0.4 1.1 0 1.6 -46.3 1.6 68 1.6 -29.8 1.1 0.4 1 0.5 1 0.3 1 -0.1 1 0.3 1 0 1 -0.5 1 0 1 -0.9 1 -1.2 1 -1.3 1 -1.3 1 -1.9 1 -1.6 1 -1.4 1 -1 1 -0.3 1 0.5 1 0.9 1 1.7 1 2 1 2.1 1 2.3 1 2.2 1 2.1 1 1.2 1 1.6 1 1.1 1 0.9 1 0.6 1 0.6 0.6 0 M616.7 271.6l1 -0.6 1 1 1 1.9 1 3.3 1 3.5 1 3.2 1 3.3 1 2.9 1 2 1 1.8 1 1.1 1 1.2 1 0.5 1 0.1 1 0.6 1 0.2 1 -0.1 1 0.1 1 0.3 1 -0.3 1 -0.2 1 0.1 1 -0.4 1 0.1 1 -0.3 1 0 1 -0.3 1 -0.5 1 0.2 1 -0.4 1 0.2 1 -0.1 1 -0.1 1 0 1 0.3 1 -0.2 1 -0.1 1 0.3 1 0 1 -0.4 1 0.2 1 0.2 1 -0.1 1 0.1 1 -0.4 1 0 1 0 1 -0.8 1 -0.1 1 -0.5 1 0 1 -0.3 1 0.6 1 0.2 1 0.7 1 0.1 1 0.2 1 0.1 1 0.1 1 0 1 0.1 1 -0.1 1.1 0.2 1.6 -44.1 1.6 56.1 1.6 -15.3 1.1 0.1 1 0.6 1 0 1 -0.2 1 0.1 1 0.2 1 -0.6 1 -0.6 1 -0.6 1 -1.3 1 -2 1 -2.6 1 -2.6 1 -3.3 1 -3.1 1 -3.1 1 -2 1 -0.8 1 0.3 1 1.7 1 2.4 1 2.9 1 3.7 1 3.6 1 2.6 1 2.8 1 2 1 1.6 1 0.9 1 0.7 1 0.5 1 0.1 1 0.5 1 0.2 1 -0.1 1 -0.1 1 0.2 1 -0.3 1 0.1 1 -0.3 1 -0.2 1 -0.3 1 -0.1 1 0 1 -0.3 1 0.1 1 -0.1 1 -0.4 1 0.2 1 -0.2 1 0.2 1 -0.3 1 0.2 1 0.1 1 -0.3 1 0.2 1 0.1 1 0.1 1 0 1 0 1 -0.3 1 0.2 1 -0.2 1 -0.4 1 -0.5 1 -0.4 1 -0.5 1 0.1 1 0.1 1 0.4 1 0.6 1 0.4 1 0.3 1 -0.1 1 0.4 1 -0.3 1 0.3 1 -0.2 1 0 0.7 0.1 1.6 -44.3 1.6 56.2 1.6 -15 0.5 0.4 1 -0.1 1 0.2 1 0 1 -0.2 1 0 1 0.3 1 -0.6 1 -0.8 1 -0.8 1 -1.3 1 -2.5 1 -2.5 1 -3.3 1 -3.3 1 -3.1 1 -2.6 1 -1.2 1 -0.8 1 1.1 1 2.1 1 2.8 1 3.2 1 3.8 1 3 1 2.7 1 2.4 1 1.7 1 1.4 1 0.5 1 1 1 0.3 1 0.3 1 0.5 1 -0.3 1 0.4 1 -0.4 1 0 1 -0.1 1 -0.1 1 0 1 -0.2 1 -0.1 1 -0.5 1 0.3 1 -0.1 1 -0.6 1 0 1 0 1 -0.2 1 0.2 1 -0.1 1 0.1 1 -0.2 1 0.4 1 -0.2 1 0 1 -0.1 1 0.2 1 -0.2 1 -0.1 1 0.1 1 0 1 -0.2 1 -0.9 1 -0.2 1 -0.3 1 -0.2 1 0.4 1 0.3 1 0.5 1 0.4 1 -0.1 1 0.5 1 0.2 1 -0.4 1 0.2 1 0.3 1 -0.3 0.7 -0.1 1.6 -43.9 1.6 55.9 1.6 -14.8 0.5 0.2 1 -0.2 1 0.2 1 0.1 1 0.3 1 -0.1 1 -0.3 1 -0.2 1 -0.7 1 -1 1 -1.7 1 -1.9 1 -2.7 1 -3.3 1 -3 1 -3.1 1 -2.8 1 -1.3 1 -0.8 1 1.1 1 1.7 1 3.1 1 3.5 1 3.4 1 3.1 1 2.9 1 2.2 1 1.9 1 0.9 1 1.3 1 0.4 1 0.8 1 0.1 1 0.4 1 0.1 1 -0.2 1 -0.1 1 0.2 1 -0.1 1 -0.2 1 -0.3 1 0 1 -0.2 1 -0.4 1 0 1 -0.1 1 -0.3 1 -0.2 1 0.2 1 0.2 1 -0.2 1 -0.3 1 0.4 1 0 1 -0.3 1 0.3 1 -0.4 1 0.3 1 -0.1 1 -0.3 1 0 1 -0.7 1 -0.3 1 -0.6 1 -0.1 1 0.4 1 0 1 0.4 1 0.7 1 0.2 1 0.4 1 -0.1 1 0 1 0.2 1 -0.1 1 0.2 1 -0.3 1.6 -43.9 1.6 55.9 1.6 -14.6 1.2 -0.2 1 0.5 1 -0.2 1 0.3 1 -0.3 1 0.3 1 -0.4 1 -0.4 1 -0.7 1 -0.9 1 -1.9 1 -2.2 1 -2.1 1 -2.9 1 -2.4 1 -2.2 1 -1.7 1 -0.9 1 0.5 1 1.5 1 2.5 1 2.5 1 3.1 1 2.7 1 2.3 1 2.1 1 1.7 1 1 1 0.7 1 0.5 1 0.5 1 0.5 1 0.4 1 -0.2 1 0.3 1 0.1 1 -0.3 1 0 1 -0.3 1 -0.1 1 -0.3 1 0.3 1 -0.6 1 0 1 -0.2 1 0.1 1 -0.1 1 -0.1 1 0 1 -0.4 1 0.4 1 -0.1 1 -0.2 1 0.2 1 0 1 -0.1 1 -0.1 1 -0.1 1 -0.8 1 -0.4 1 -0.2 1 -0.5 1 0.2 1 0.5 1 0.1 1 0.8 1 0.1 1 0.2 1 0.5 1 -0.4 1 0.2 1 0 1 -0.2 1.1 0.3 1.6 -43.9 1.6 56.1 1.6 -15.5 1.1 0.4 1 0 1 0.2 1 -0.1 1 0.1 1 -0.1 1 0.1 1 -0.6 1 -0.3 1 -1 1 -1.7 1 -1.5 1 -2.8 1 -2.2 1 -2.5 1 -2.2 1 -1.6 1 -0.8 1 0.1 1 1.7 1 1.9 1 2.6 1 2.4 1 2.9 1 2.4 1 1.7 1 1.8 1 1.2 1 0.8 1 0.7 1 0.3 0.6 0.4 M616.7 349.5l1 0.3 1 0 1 1.3 1 0.9 1 2.1 1 1.2 1 1.7 1 1.3 1 1.1 1 1.3 1 0.6 1 0.4 1 0.7 1 0.3 1 0.3 1 -0.1 1 0.2 1 0.2 1 0.3 1 -0.3 1 0.2 1 0 1 -0.2 1 -0.2 1 0 1 -0.5 1 -0.1 1 -0.2 1 -0.4 1 0 1 0 1 -0.3 1 -0.2 1 0.2 1 -0.2 1 0.4 1 -0.1 1 0 1 -0.4 1 0.1 1 0 1 0.2 1 -0.1 1 -0.2 1 0.3 1 -0.2 1 -0.2 1 -0.6 1 -0.6 1 -0.3 1 -0.1 1 0 1 0.4 1 0.1 1 0.7 1 0.4 1 0.2 1 -0.1 1 0.3 1 -0.3 1 0.3 1 -0.1 0.7 0.2 0.8 1.6 1.4 -50.9 1.6 58.1 1.6 -9.8 0.9 0.8 1 0 1 -0.2 1 -0.1 1 0 1 0.1 1 -0.1 1 -0.8 1 -0.5 1 -0.4 1 -1.2 1 -1.3 1 -1.7 1 -1.2 1 -1.5 1 -1.8 1 -0.8 1 -0.4 1 -0.1 1 0.8 1 1.1 1 1.7 1 1.8 1 1.6 1 1.4 1 1.1 1 1.2 1 0.8 1 0.5 1 0.4 1 0.5 1 0.4 1 0 1 0.2 1 0.1 1 0.2 1 0.4 1 -0.3 1 0.1 1 -0.1 1 -0.3 1 0 1 -0.2 1 -0.6 1 0.2 1 -0.5 1 -0.1 1 0.1 1 -0.1 1 -0.2 1 -0.2 1 0.2 1 0.1 1 -0.1 1 -0.4 1 0.1 1 0.3 1 -0.4 1 0.2 1 0.1 1 -0.4 1 0.3 1 -0.1 1 -0.5 1 -0.6 1 -0.4 1 -0.3 1 -0.3 1 0.4 1 0.2 1 0.9 1 0 1 0.6 1 -0.1 1 0 1 0.1 1 0.1 1 0 1.3 -0.1 0.8 2.2 1.4 -51 1.6 57.9 1.6 -10 1.3 1.2 1 -0.2 1 0 1 0.1 1 -0.4 1 -0.2 1 -0.1 1 -0.6 1 -0.7 1 -0.8 1 -1 1 -1.3 1 -1.4 1 -1.7 1 -1.9 1 -0.8 1 -1.2 1 -0.1 1 0.3 1 1.3 1 1 1 1.8 1 1.4 1 1.6 1 1.4 1 1.3 1 0.8 1 1 1 0.6 1 0.1 1 0.8 1 0.1 1 0.2 1 0 1 0.4 1 -0.1 1 0.1 1 0 1 -0.1 1 -0.1 1 -0.3 1 -0.1 1 -0.2 1 -0.4 1 -0.2 1 0.2 1 -0.5 1 0.3 1 -0.3 1 -0.3 1 0.3 1 -0.3 1 -0.2 1 0.2 1 0 1 0.2 1 -0.2 1 0 1 -0.2 1 0.2 1 -0.3 1 0 1 -0.4 1 -0.5 1 -0.2 1 -0.7 1 0.1 1 0.2 1 0.1 1 0.7 1 0.4 1 0.5 1 0.1 1 -0.2 1 0.2 1 -0.1 1 0 1.3 0 0.8 2.2 1.4 -51.3 1.6 58.2 1.6 -9.8 1.3 0.6 1 0 1 0.3 1 -0.4 1 0 1 0.1 1 -0.5 1 -0.6 1 -0.2 1 -1.1 1 -1 1 -1.3 1 -2 1 -1.6 1 -1.3 1 -1.3 1 -0.6 1 -0.2 1 0.2 1 0.8 1 1.4 1 1.7 1 1.6 1 1.7 1 1.2 1 1.1 1 1 1 1 1 0.5 1 0.2 1 0.6 1 0.2 1 0.5 1 0.1 1 0.1 1 -0.1 1 0.2 1 -0.2 1 0.2 1 -0.4 1 -0.2 1 0 1 -0.2 1 -0.2 1 -0.3 1 0 1 -0.2 1 -0.4 1 -0.2 1 0.4 1 -0.3 1 -0.1 1 -0.2 1 0.2 1 0 1 -0.1 1 -0.1 1 0 1 -0.1 1 -0.4 1 0 1 -0.8 1 -0.2 1 -0.2 1 0 1 0.3 1 0.4 1 0.5 1 0.4 1 0.2 1 0 1 -0.1 1 0.3 1 0.1 1 -0.4 0.6 0 0.8 2 1.4 -50.9 1.6 58.1 1.6 -9.8 1 0.6 1 0.2 1 0.1 1 -0.2 1 0.2 1 -0.3 1 -0.4 1 -0.5 1 -0.3 1 -0.7 1 -1.2 1 -1.5 1 -1.1 1 -1.7 1 -1.6 1 -1.7 1 -0.9 1 -0.4 1 0.6 1 0.6 1 1.3 1 1.3 1 1.6 1 1.8 1 1.3 1 1.3 1 1.1 1 0.9 1 0.6 1 0.3 1 0.2 1 0.3 1 0.3 1 0.2 1 0.3 1 0.2 1 0.2 1 -0.4 1 0.3 1 -0.5 1 -0.1 1 0.1 1 -0.5 1 -0.2 1 -0.2 1 0.2 1 -0.3 1 0 1 -0.5 1 0.2 1 -0.1 1 -0.2 1 0.1 1 -0.1 1 -0.1 1 0.1 1 -0.5 1 -0.1 1 -0.4 1 -0.5 1 -0.3 1 0 1 -0.3 1 0.3 1 0.8 1 0.3 1 0.5 1 0.2 1 -0.1 1 0.1 1 0.2 1 -0.2 1 -0.1 0.7 0.3 0.8 1.7 1.4 -51 1.6 57.9 1.6 -10.1 0.9 1.1 1 0.2 1 0.2 1 -0.2 1 0 1 -0.5 1 0.1 1 -0.5 1 -0.6 1 -0.7 1 -1.3 1 -1.1 1 -1.4 1 -1.4 1 -1.6 1 -1.6 1 -0.9 1 -0.5 1 0 1 0.8 1 1.1 1 1.7 1 1.8 1 1.5 1 1.2 1 1.6 1 1.1 1 0.8 1 0.2 1 0.9 1 0.4 0.6 0.1 M616.7 419.8l1 -0.2 1 0.3 1 0.6 1 0.9 1 0.9 1 1.3 1 0.8 1 1.2 1 0.6 1 0.5 1 0.5 1 -0.1 1 0.4 1 -0.2 1 0 1 0.4 1 -0.3 1 0 1 0.1 1 0.3 1 -0.2 1 -0.1 1 0.2 1 0 1 0 1 0 1 -0.2 1 0.2 1 -0.1 1 -0.1 1 -0.1 1 0.3 1 0.1 1 -0.4 1 0 1 0.1 1 0.1 1 0.1 1 0.1 1 -0.1 1 -0.1 1 0.2 1 -0.3 1 -0.1 1 0.3 1 -0.5 1 -0.1 1 -0.6 1 -0.2 1 -0.6 1 -0.1 1 0 1 0.4 1 0.7 1 0.4 1 0.2 1 0.2 1 0.1 1 0 1 -0.1 1 0.1 1 0.1 0.7 -0.1 0.8 1.8 1.4 -42.9 1.6 46 1.6 -5.1 0.9 0.3 1 0.1 1 0 1 -0.1 1 0 1 -0.4 1 -0.3 1 0.2 1 -0.6 1 -0.7 1 -0.6 1 -0.5 1 -1.3 1 -0.8 1 -1.1 1 -0.8 1 -0.9 1 -0.5 1 0.5 1 0.4 1 0.7 1 1.1 1 0.9 1 0.9 1 1.1 1 1 1 0.6 1 0.4 1 0 1 0.1 1 0.3 1 0.3 1 0 1 -0.1 1 0.2 1 0 1 -0.2 1 -0.2 1 0.3 1 -0.3 1 0 1 0.2 1 0.1 1 0.1 1 -0.3 1 -0.1 1 0 1 0.3 1 -0.1 1 0.2 1 -0.1 1 0 1 0.1 1 0 1 -0.4 1 0.3 1 -0.1 1 0 1 0 1 -0.1 1 0 1 0 1 0 1 -0.6 1 -0.5 1 -0.4 1 -0.2 1 -0.2 1 0 1 0.4 1 0.8 1 0.3 1 0.4 1 -0.1 1 0.2 1 0 1 0.1 1 -0.1 1.3 -0.1 0.8 2 1.4 -42.8 1.6 46 1.6 -5.2 1.3 0.3 1 -0.4 1 0.4 1 -0.3 1 0.1 1 -0.5 1 0 1 -0.1 1 -0.5 1 -0.8 1 -0.7 1 -0.9 1 -1 1 -1.1 1 -1.1 1 -0.6 1 -0.6 1 -0.2 1 0.3 1 0.8 1 0.6 1 1.2 1 0.9 1 1 1 0.8 1 1.1 1 0.6 1 -0.1 1 0.4 1 0 1 0.2 1 0 1 0.4 1 0 1 -0.2 1 0 1 0.3 1 -0.4 1 0.3 1 0 1 -0.1 1 0.2 1 0 1 0 1 0 1 0 1 -0.3 1 0 1 0 1 0.1 1 -0.1 1 0.3 1 -0.4 1 0.2 1 0.2 1 -0.1 1 0.1 1 -0.3 1 0.1 1 0.2 1 -0.2 1 -0.1 1 -0.8 1 -0.1 1 -0.7 1 -0.2 1 -0.1 1 0.1 1 0.4 1 0.7 1 0 1 0.6 1 0 1 0.2 1 -0.2 1 0.4 1 0 1.3 0 0.8 1.8 1.4 -43.2 1.6 46.2 1.6 -5.2 1.3 0.4 1 -0.4 1 0.3 1 -0.4 1 0.3 1 -0.3 1 -0.2 1 -0.4 1 -0.2 1 -0.8 1 -0.3 1 -1.4 1 -0.8 1 -1.1 1 -1.2 1 -0.5 1 -0.7 1 -0.1 1 0.3 1 0.7 1 0.7 1 1.1 1 0.9 1 1.2 1 1 1 0.4 1 0.5 1 0.5 1 0.4 1 0.2 1 -0.2 1 0.3 1 -0.1 1 0.3 1 -0.4 1 0 1 0.3 1 0 1 -0.2 1 -0.1 1 0.1 1 0.3 1 0 1 -0.4 1 0.2 1 -0.2 1 0.2 1 -0.2 1 0.3 1 -0.3 1 0.2 1 0.2 1 0 1 0 1 -0.2 1 -0.2 1 -0.1 1 0 1 0.1 1 -0.5 1 -0.4 1 -0.5 1 -0.4 1 -0.2 1 0.2 1 0.5 1 0.5 1 0.4 1 0.3 1 0 1 0.4 1 0 1 -0.2 1 0.3 1 0 0.6 0 0.8 2 1.4 -43 1.6 45.7 1.6 -4.8 1 0.1 1 -0.2 1 0 1 0.2 1 -0.1 1 -0.2 1 -0.2 1 -0.1 1 -0.5 1 -0.6 1 -0.9 1 -0.8 1 -0.8 1 -1 1 -1.1 1 -0.9 1 -0.9 1 -0.3 1 0.5 1 0.2 1 0.8 1 0.9 1 1.1 1 1.1 1 1.3 1 0.6 1 0.3 1 0.4 1 0.4 1 0.4 1 -0.1 1 0.1 1 0.2 1 0.1 1 -0.1 1 0 1 0.2 1 0 1 -0.4 1 0.2 1 0 1 0 1 0 1 -0.1 1 0.1 1 0.2 1 0 1 -0.1 1 0 1 -0.3 1 0.2 1 0.2 1 -0.4 1 0.3 1 -0.1 1 -0.2 1 -0.2 1 0 1 -0.5 1 -0.2 1 -0.9 1 -0.2 1 0.1 1 0.6 1 0.3 1 0.5 1 0.5 1 0.2 1 -0.3 1 0.2 1 0 1 0.3 1 -0.2 0.7 -0.2 0.8 2.3 1.4 -43 1.6 45.7 1.6 -4.7 0.9 -0.1 1 -0.2 1 0.1 1 0.1 1 0 1 -0.1 1 0 1 -0.5 1 -0.2 1 -0.5 1 -1 1 -0.5 1 -1 1 -1 1 -1.4 1 -0.7 1 -0.7 1 -0.4 1 0 1 0.3 1 1.2 1 0.9 1 1.2 1 0.9 1 0.8 1 0.9 1 0.6 1 0.5 1 0 1 0.3 1 0.1 0.6 0.1 M189.5 491.6l1 0.5 1 0.9 1 0.6 1 1.1 1 0.5 1 0.2 1 0 1 -0.1 1 0.3 1 -0.2 1 0.1 1.1 0.5 1.7 -49.4 1.5 62.7 1.8 -8.4 0.9 -2.5 1 -0.2 1 -0.3 1 -0.4 1 -0.8 1 -0.6 1 -0.8 1 -1.2 1 -0.8 1 -0.9 1 -0.8 1 -1 1 -0.9 1 -1 1 -0.4 1 -0.8 1 -0.2 1 -0.4 1 0.2 1 0.8 1 0.7 1 0.8 1 0.9 1 0.7 1 1 1 0.7 1 0.9 1 0.5 1 0.6 1 0.1 1 0.3 1 0 1 0.1 1 0.3 1 0.3 1 -0.5 1 0.1 1 0.2 1 0 1 -0.2 1 0.3 1 0 1 -0.2 1 0 1 0 1 -0.1 1 0.2 1 0 1 0.1 1 0 1 0 1 -0.1 1 -0.1 1 0 1 -0.1 1 -0.2 1 -0.6 1 -0.6 1 -1.2 1 -0.7 1 -0.6 1 0.3 1 0.5 1 0.8 1 0.7 1 0.9 1 0.6 1 0 1 0.4 1 0 1 0.2 1 -0.3 1 0.3 0.7 0 1.7 -49.7 1.5 62.8 1.8 -7.7 1.3 -2.8 1 0.1 1 -0.8 1 -0.6 1 -1 1 -0.5 1 -1.2 1 -0.4 1 -1.2 1 -0.6 1 -0.8 1 -1.4 1 -0.8 1 -0.6 1 -0.9 1 -0.4 1 -0.1 1 -0.1 1 0 1 0.9 1 0.5 1 0.9 1 0.9 1 1 1 0.7 1 1.1 1 0.6 1 0.5 1 0.6 1 0.1 1 0.1 1 0.2 1 0.3 1 0 1 0 1 0.2 1 -0.1 1 -0.2 1 0.3 1 0 1 0 1 -0.2 1 0.2 1 -0.3 1 0.1 1 -0.1 1 0 1 0 1 0.1 1 0.1 1 -0.1 1 0.2 1 -0.1 1 -0.2 1 0 1 0.2 1 -0.2 1 -0.3 1 -0.2 1 -0.9 1 -0.7 1 -0.9 1 -0.7 1 -0.1 1 0.3 1 0.9 1 1 1 0.5 1 0.5 1 0.4 1 0.4 1 0 1 0.1 1 -0.3 1 0.2 1 0.3 1.7 -49.9 1.5 63.2 1.8 -8 1 -3.1 1 0.3 1 -0.6 1 -0.5 1 -0.6 1 -1 1 -1 1 -0.4 1 -1.2 1 -0.7 1 -0.9 1 -0.9 1 -1.1 1 -0.8 1 -0.7 1 -0.4 1 -0.6 1 0.2 1 0 1 0.8 1 0.6 1 0.6 1 1.1 1 0.7 1 0.9 1 1 1 0.5 1 0.7 1 0.6 1 -0.1 1 0.4 1 0 1 0.3 1 0 1 0.3 1 -0.2 1 0.1 1 0.1 1 0.1 1 0 1 0 1 -0.3 1 0.1 1 0.2 1 -0.2 1 -0.2 1 0 1 0.4 1 -0.3 1 0 1 0.1 1 0.1 1 -0.1 1 0.1 1 -0.1 1 0 1 -0.5 1 -0.5 1 -0.8 1 -0.6 1 -0.8 1 -0.6 1 0.1 1 0.2 1 1.1 1 0.7 1 0.6 1 0.5 1 0.3 1 0.1 1 0.1 1 -0.1 1 0.2 1 0.3 0.9 0.2 1.7 -50 1.5 63.2 1.8 -8.2 1.1 -2.8 1 0 1 -0.4 1 -0.3 1 -0.8 1 -1.1 1 -0.6 1 -0.9 1 -0.8 1 -1.2 1 -0.9 1 -0.9 1 -1 1 -0.8 1 -0.4 1 -1 1 0 1 -0.2 1 0.2 1 0.8 1 0.4 1 1 1 0.9 1 1 1 0.7 1 1.1 1 0.6 1 0.4 1 0.3 1 0.5 1 0.2 1 0.4 1 -0.1 1 0.2 1 0 1 0 1 0 1 0.1 1 -0.2 1 0.3 1 0 1 -0.3 1 0.1 1 -0.2 1 0.1 1 0.1 1 0 1 0.2 1 -0.3 1 0.1 1 0.2 1 0 1 0 1 -0.1 1 -0.1 1 -0.2 1 -0.4 1 0 1 -0.8 1 -0.8 1 -1.1 1 -0.6 1 0.2 1 0.3 1 0.9 1 1 1 0.6 1 0.6 1 0.3 1 0 1 0.1 1 -0.1 1 0.1 1 -0.1 0.9 0.3 1.7 -49.5 1.5 62.9 1.8 -8.4 1.1 -2.6 1 0.3 1 -0.7 1 -0.6 1 -0.9 1 -0.9 1 -0.8 1 -0.8 1 -0.6 1 -0.9 1 -0.9 1 -1 1 -0.8 1 -1.2 1 -0.5 1 -0.5 1 -0.5 1 0.1 1 0.3 1 0.5 1 0.6 1 1.1 1 0.6 1 1.2 1 1 1 0.7 1 0.6 1 0.4 1 0.3 1 0.8 1 -0.2 1 0.3 1 0.3 1 -0.1 1 0.2 1 -0.4 1 0.3 1 0.2 1 0 1 -0.1 1 0.1 1 -0.2 1 0 1 -0.1 1 0.1 1 0.1 1 -0.1 1 0 1 0.2 1 0 1 0 1 -0.3 1 0 1 0.3 1 -0.2 1 -0.6 1 -0.4 1 -0.3 1 -1.1 1 -1.1 1 -0.5 1 0.1 1 0.3 1 0.9 1 0.8 1 0.8 1 0.8 1 0.1 1 0 1 0 1 0.1 1 0 1 0.4 0.9 0 1.7 -49.4 1.5 62.4 1.8 -8 1.1 -2.4 1 0 1 -0.3 1 -0.6 1 -0.8 1 -0.9 1 -1.3 1 -0.6 1 -0.6 1 -1.2 1 -0.5 1 -1.4 1 -0.5 1 -1 1 -0.6 1 -0.7 1 -0.4 1 -0.2 1 0.4 1 0.8 1 0.5 1 0.6 1 1.1 1 1.2 1 0.4 1 1.3 1 0.2 1 0.7 1 0.6 1 0.1 1 0.2 1 0.2 1 0 1 0.2 1 -0.1 1 0.4 1 0.1 1 -0.3 1 0 1 -0.1 1 0.3 1 -0.3 1 0.1 1 0.3 1 -0.4 1 0.2 1 0 1 -0.1 1 0.3 1 -0.2 1 0.1 1 -0.3 1 0 1 0.2 1 -0.2 1 0.1 1 -0.2 1 -0.6 1 -0.6 1 -1.2 1 -0.8 1 -0.6 1 0 1 0.5 1 1.3 1 0.7 1 0.8 1 0.6 1 -0.1 1 0.2 1 -0.1 1 0.3 1 -0.2 1 0.2 0.8 0 1.7 -49.6 1.5 62.9 1.8 -8 1.2 -2.4 1 -0.3 1 -0.4 1 -0.8 1 -0.7 1 -0.8 1 -1 1 -0.6 1 -1.1 1 -0.4 1 -0.9 1 -1.1 1 -1.1 1 -0.6 1 -1.1 1 0 1 -0.8 1 0.2 1 0.3 1 0.5 1 0.7 1 1.2 1 0.6 1 0.8 1 1 1 1 1 0.7 1 0.3 1 0.4 1 0.5 1 0 1 0.3 1 0.3 1 -0.1 1 0 1 0.1 1 0 1 0 1 0.1 1 -0.4 1 0.1 1 -0.1 1 0.2 1 -0.2 1 0 1 0.1 1 0.3 1 -0.2 1 0.2 1 0 1 0 1 -0.1 1 -0.3 1 0.4 1 -0.4 1 0.4 1 -0.3 1 0.2 1 -0.4 1 0.4 1 -0.4 1 -0.2 1 -0.6 1 -1 1 -0.9 1 -0.8 1 -0.2 1 0.3 1 0.5 1 0.9 1 1.2 1 0.6 1 0.3 1 0.2 1 0.2 1 0 1 0 1 0.1 1 -0.3 0.4 0 1.7 -49.1 1.5 62.4 1.8 -8 0.6 -2.7 1 0.5 1 -0.6 1 -0.5 1 -0.6 1 -0.6 1 -1.1 1 -0.9 1 -0.7 1 -1 1 -0.9 1 -0.6 1 -1.2 1 -1 1 -0.6 1 -0.8 1 -0.3 1 -0.3 1 0 1 0.8 1 0.2 1 0.9 1 1.2 1 0.7 1 0.8 1 0.9 1 0.7 1 0.7 1 0.7 1 0 1 0.3 1 0.2 1 0.5 1 -0.1 1 0 1 0 1 -0.1 1 0.3 1 0.1 1 -0.1 1 0 1 -0.3 1 0.1 1 0.1 1 -0.1 1 0.2 1 -0.2 1 0.1 1 -0.2 1 0.1 1 0.1 1 0.2 1 0 1 -0.1 1 -0.1 1 0.2 1 -0.1 1 0 1 0 1 -0.3 1 0 1 -0.6 1 -0.5 1 -0.6 1 -0.9 1 -0.8 1 -0.5 1 0.2 1 0.7 1 0.9 1 0.9 1 0.8 1 0.3 1 0.1 1 0.1 1 0.1 1 0.2 1 -0.2 1 0.3 0.4 0.1 1.7 -49.4 1.5 62.5 1.8 -7.8 0.6 -2.9 1 -0.2 1 0.3 1 -0.5 1 -0.9 1 -1 1 -0.8 1 -1.1 1 -0.5 1 -0.9 1 -0.7 1 -1.2 1 -0.9 1 -0.7 1 -1.1 1 -0.5 1 -0.4 1 -0.2 1 0.2 1 0.3 1 0.7 1 0.8 1 1 1 0.9 1 0.7 1 0.7 1 0.7 1 0.9 1 0.3 1 0.3 1 0.3 1 0.4 1 0 1 0 1 0.3 1 -0.1 1 0.3 1 -0.1 1 -0.3 1 0.1 1 0.3 1 0 1 -0.1 1 -0.1 1 0.1 1 -0.2 1 0.3 1 0 1 -0.2 1 0.1 1 0.1 1 0 1 0 1 -0.1 1 -0.3 1 0 1 0.1 1 0.1 1 -0.5 1 -0.5 1 -0.5 1 -1.3 1 -0.6 1 -0.5 1 0.2 1 0.3 1 1.1 1 0.6 1 0.8 1 0.4 1 0.3 1 0.4 1 0 1 -0.4 1 0.4 1 0 0.7 0.2 1.7 -49.5 1.5 62.7 1.8 -8.3 1.3 -2.4 1 -0.1 1 -0.3 1 -0.8 1 -0.7 1 -1.1 1 -0.8 1 -0.6 1 -1.1 1 -0.9 1 -0.6 1 -1.1 1 -0.9 1 -0.9 1 -0.9 1 -0.4 1 -0.1 1 -0.2 1 0.4 1 0.4 1 0.7 1 1 1 1.1 1 0.9 1 0.6 1 0.8 1 0.9 1 0.7 1 0.1 1 0.4 1 0.4 1 0.2 1 -0.4 1 0.5 1 -0.3 1 0 1 0 1 0.1 1 0.3 1 -0.1 1 0 1 -0.3 1 0.1 1 0.2 1 -0.2 1 -0.1 1 0.4 1 -0.1 1 0 1 0.1 1 0 1 -0.1 1 -0.1 1 0.1 1 -0.4 1 -0.3 1 -0.3 1 -0.6 1 -1 1 -0.8 1 -0.5 1 0 1 0.6 1 0.5 1 1.1 1 0.9 1 0.5 1 -0.2 1 0.2 1 0.1 1 0.3 1 0.1 1 -0.2 0.8 0 1.7 -49.5 1.5 63 1.8 -8 1.2 -2.7 1 -0.1 1 -0.2 1 -1 1 -0.5 1 -1.3 1 -0.6 1 -0.7 1 -1 1 -0.8 1 -0.8 1 -1.3 1 -0.8 1 -0.6 1 -0.9 1 -0.6 1 0.1 1 0 1 -0.2 1 0.8 1 0.9 1 0.6 1 1.1 1 0.5 1 0.9 1 1.2 1 0.6 1 0.4 1 0.3 1 0.3 0.8 0.1" stroke="#4a4a4a" stroke-width="1.25" fill="none" stroke-linejoin="round"/>
</g>
<defs>
<pattern id="gBd" x="1717.9" y="78.2" width="6.054" height="6.04" patternUnits="userSpaceOnUse">
<rect x="0" y="0" width="1.8" height="1.8" fill="#dedede"/></pattern>
</defs>
<g id="panelB">
<rect x="1707.2" y="49.2" width="678.4" height="470.1" fill="#fafafa"/>
<rect x="1707.2" y="49.2" width="678.4" height="470.1" fill="url(#gBd)"/>
<path d="M1718.8 49.2V519.3M1749.1 49.2V519.3M1779.3 49.2V519.3M1809.6 49.2V519.3M1839.9 49.2V519.3M1870.1 49.2V519.3M1900.4 49.2V519.3M1930.7 49.2V519.3M1961 49.2V519.3M1991.2 49.2V519.3M2021.5 49.2V519.3M2051.8 49.2V519.3M2082 49.2V519.3M2112.3 49.2V519.3M2142.6 49.2V519.3M2172.8 49.2V519.3M2203.1 49.2V519.3M2233.4 49.2V519.3M2263.7 49.2V519.3M2293.9 49.2V519.3M2324.2 49.2V519.3M2354.5 49.2V519.3M2384.7 49.2V519.3M1707.2 79.1H2385.6M1707.2 109.3H2385.6M1707.2 139.5H2385.6M1707.2 169.7H2385.6M1707.2 199.9H2385.6M1707.2 230.1H2385.6M1707.2 260.3H2385.6M1707.2 290.5H2385.6M1707.2 320.7H2385.6M1707.2 350.9H2385.6M1707.2 381.1H2385.6M1707.2 411.3H2385.6M1707.2 441.5H2385.6M1707.2 471.7H2385.6M1707.2 501.9H2385.6" stroke="#b4b4b4" stroke-width="1.7" fill="none"/>
<path d="M1707.2 49.7H2385.6" stroke="#cfcfcf" stroke-width="1.4" fill="none"/>
<path d="M1707.2 472H2385.6" stroke="#5a5a5a" stroke-width="2"/>
<text x="2376" y="69.8" font-family='"Liberation Sans", sans-serif' font-size="23" font-weight="normal" fill="#333" text-anchor="end" textLength="202" lengthAdjust="spacingAndGlyphs">25mm/s 10mm/mV</text>
<text x="1723.5" y="109.5" font-family='"Liberation Sans", sans-serif' font-size="16.5" font-weight="normal" fill="#2a2a2a" text-anchor="start" textLength="22" lengthAdjust="spacingAndGlyphs" stroke="#2a2a2a" stroke-width="0.4">V1</text>
<text x="1723.5" y="230.5" font-family='"Liberation Sans", sans-serif' font-size="16.5" font-weight="normal" fill="#2a2a2a" text-anchor="start" textLength="22" lengthAdjust="spacingAndGlyphs" stroke="#2a2a2a" stroke-width="0.4">V1</text>
<text x="1723.5" y="351.5" font-family='"Liberation Sans", sans-serif' font-size="16.5" font-weight="normal" fill="#2a2a2a" text-anchor="start" textLength="22" lengthAdjust="spacingAndGlyphs" stroke="#2a2a2a" stroke-width="0.4">V2</text>
<path d="M1707.2 134.7l1 0 1 0.1 1 -0.4 1 0.2 1 -0.1 1 0.1 1 0.1 1 -0.2 1 0.1 1 -0.1 1 0 1 -0.1 1 0.2 1 0.2 1 0 1 -0.3 1 0.2 1 -0.2 1 0 1 0.3 1 -0.4 1 0.3 1 -0.4 1 0.1 1 0.7 1 0.6 1 1.2 1 0.9 1 -1.1 1 -1.1 1 -1.5 1 -0.5 1 -0.4 1 0.3 1 -0.3 1 -0.3 1 -0.1 1 0.1 1 -0.4 1 -0.1 1 0.3 1 0.1 1 -0.2 1 0.2 1 0 1 0.2 1 0.1 0.5 -2.2 1.3 -1.9 0.8 0.5 3.4 57.3 4.6 -90.4 3.8 29 0.6 0.4 1 0.4 1 0.6 1 0.7 1 0.5 1 0.5 1 0.4 1 0 1 0.3 1 0.5 1 0.6 1 0.1 1 0.7 1 0 1 0.5 1 0.4 1 0.6 1 0.7 1 0.3 1 0.6 1 1.1 1 0.6 1 0.6 1 0.8 1 0.8 1 0.7 1 0.2 1 0.8 1 0.4 1 -0.1 1 0.2 1 -0.4 1 0 1 -0.7 1 -0.2 1 -0.7 1 -0.5 1 -0.5 1 -0.3 1 -0.5 1 -0.3 1 -0.5 1 -0.6 1 0.1 1 -0.3 1 -0.3 1 0.1 1 -0.2 1 0 1 -0.3 1 0.3 1 -0.5 1 0.2 1 0 1 0.1 1 0 1 -0.2 1 0.1 1 0 1 0.4 1 -0.2 1 -0.2 1 0.2 1 0 1 0 1 0.2 1 -0.3 1 0 1 0.4 1 -0.2 1 -0.1 1 0.2 1 -0.2 1 -0.1 1 0 1 0.3 1 0.1 1 -0.3 1 0.1 1 -0.1 1 0 1 0.3 1 -0.2 1 0.1 1 -0.2 1 0.1 1 0.2 1 -0.1 1 -0.1 1 0.2 1 0 1 -0.1 1 0.2 1 -0.2 1 -0.3 1 0.1 1 0.4 1 -0.4 1 0 1 0 1 0.3 1 -0.3 1 0.2 1 -0.3 1 0.4 1 0.6 1 1.2 1 0.7 1 0.3 1 -1.4 1 -1.2 1 -0.7 1 -0.7 1 -0.2 1 0.1 1 -0.5 1 0.1 1 0 1 -0.4 1 -0.1 1 0.2 1 0.1 1 -0.2 1 0 1 0.1 1 0.2 1 0.1 1.1 -2.5 1.3 -1.5 0.8 0.6 3.4 57.4 4.6 -90.8 3.8 29.2 1 0.5 1 0.8 1 0.3 1 0.8 1 0.3 1 0.5 1 0.1 1 0.2 1 0.6 1 0.3 1 0.5 1 0.2 1 0.7 1 0.3 1 0.4 1 0.3 1 0.8 1 0.6 1 0.7 1 0.3 1 1 1 0.4 1 1 1 0.5 1 1 1 0.3 1 0.4 1 0.5 1 0.3 1 0 1 0 1 -0.2 1 0 1 -0.7 1 -0.5 1 -0.3 1 -0.4 1 -0.9 1 -0.3 1 -0.5 1 -0.6 1 -0.2 1 -0.2 1 -0.4 1 -0.1 1 0 1 -0.4 1 -0.1 1 0.3 1 -0.4 1 0.1 1 0.1 1 0.2 1 -0.3 1 0.2 1 0.1 1 -0.3 1 0.3 1 0.1 1 -0.4 1 0 1 0.3 1 0 1 -0.1 1 -0.1 1 0.4 1 -0.3 1 0.2 1 -0.3 1 0.2 1 -0.2 1 0.2 1 -0.1 1 0.3 1 0 1 -0.1 1 0 1 0.1 1 -0.1 1 0.1 1 -0.2 1 -0.2 1 0.1 1 0.1 1 -0.2 1 0.1 1 0.1 1 0.1 1 0.2 1 -0.4 1 0 1 0 1 0.1 1 -0.1 1 -0.1 1 0 1 0.1 1 0.4 1 -0.5 1 0.2 1 0.1 1 0 1 0 1 0.1 1 -0.3 1 0 1 0.3 1 0 1 0.9 1 1.3 1 0.6 1 -0.6 1 -1.5 1 -1.1 1 -0.8 1 -0.3 1 -0.2 1 0.1 1 -0.2 1 -0.2 1 0.1 1 0 1 -0.4 1 0.3 1 0 1 0 1 0.2 1 -0.1 1 0.3 1 -0.2 0.5 -2 1.3 -2.2 0.8 0.9 3.4 57.2 4.6 -90.6 3.8 29.1 0.6 0.7 1 0.2 1 0.9 1 0.4 1 0.6 1 0.2 1 0.6 1 0.1 1 0.2 1 0.4 1 0.5 1 0.6 1 -0.1 1 0.7 1 0.2 1 0.8 1 0.5 1 0.2 1 0.7 1 0.9 1 0.6 1 0.7 1 0.9 1 0.7 1 0.8 1 0.4 1 0.6 1 0.5 1 0.2 1 0.3 1 0 1 -0.4 1 0.1 1 -0.4 1 -0.6 1 -0.4 1 -0.7 1 -0.7 1 -0.6 1 -0.4 1 -0.5 1 0 1 -0.4 1 -0.1 1 -0.3 1 -0.2 1 -0.1 1 -0.1 1 -0.4 1 0.2 1 -0.2 1 0.2 1 -0.1 1 0 1 0.1 1 -0.2 1 0.2 1 0.1 1 0.1 1 0.1 1 -0.2 1 0.1 1 0.1 1 -0.4 1 0.5 1 -0.2 1 0.1 1 -0.1 1 -0.2 1 0 1 0.2 1 -0.1 1 -0.1 1 0.3 1 0 1 0 1 -0.2 1 0.2 1 -0.3 1 0.4 1 -0.2 1 0 1 0.3 1 -0.2 1 -0.2 1 0.2 1 0.2 1 -0.2 1 -0.1 1 0.1 1 0 1 -0.2 1 0.1 1 0.1 1 0 1 -0.2 1 0.3 1 -0.1 1 -0.2 1 0.4 1 -0.1 1 0.1 1 -0.3 1 -0.1 1 0 1 0 1 0.3 1 -0.1 1 0.3 1 1 1 1.3 1 0.4 1 -0.6 1 -1.4 1 -1.4 1 -0.3 1 -0.5 1 -0.1 1 -0.4 1 -0.1 1 0.1 1 0.1 1 -0.4 1 -0.1 1 0 1 -0.1 1 0.3 1 0.1 1 0 1 0.3 1 -0.1 0.5 -2.2 1.3 -2 0.8 0.6 3.4 57.5 4.6 -90.4 3.8 28.9 0.6 0.2 1 0.6 1 0.6 1 0.8 1 0.1 1 0.7 1 0 1 0.9 1 0.4 1 0.1 1 0.5 1 0 1 0.4 1 0.7 1 0.1 1 0.7 1 0.3 1 0.9 1 0.2 1 0.9 1 0.8 1 0.6 1 1 1 0.7 1 0.5 1 0.6 1 0.3 1 0.7 1 0.4 1 0.2 1 0.1 1 -0.5 1 -0.2 1 -0.1 1 -0.7 1 -0.5 1 -0.5 1 -0.5 1 -0.7 1 -0.5 1 -0.4 1 -0.1 1 -0.5 1 -0.3 1 -0.4 1 0.1 1 -0.1 1 0.1 1 0 1 -0.2 1 -0.2 1 0.2 1 -0.2 1 0 1 0.2 1 -0.1 1 -0.1 1 0.4 1 -0.3 1 0 1 -0.1 1 0.3 1 -0.1 1 -0.1 1 0.2 1 -0.2 1 0 1 -0.1 1 0.3 1 0.2 1 -0.2 1 -0.1 1 -0.1 1 0.1 1 0.1 1 -0.2 1 0 1 0.2 1 0.1 1 0.2 1 -0.3 1 0.3 1 -0.2 1 -0.3 1 0.4 1 -0.2 1 -0.1 1 0.3 1 -0.2 1 -0.1 1 0.1 1 0.2 1 -0.4 1 0.2 1 0.2 1 -0.3 1 0 1 0 1 0 1 0 1 0.2 1 -0.2 1 0 1 0 1 0.3 1 -0.4 1 0.1 1 -0.1 1 0.2 1 0.2 1 0.9 1 1.3 1 0.7 1 -0.7 1 -1.1 1 -1.5 1 -0.6 1 -0.4 1 0 1 -0.3 1 -0.1 1 0 1 0.1 1 -0.4 1 -0.1 1 0.1 1 0.1 1 -0.1 1 0.3 1 -0.2 1 0.4 1 0.1 0.7 -2.3 1.3 -2.3 0.8 0.7 3.4 57.6 4.6 -90.8 3.8 29.6 1.4 0.5 1 0.6 1 0.7 1 0.2 1 0.7 1 0.3 1 0.5 1 0.3 1 0 1 0.6 1 0.3 1 0.6 1 0.4 1 0.4 1 0.2 1 0.5 1 0.5 1 0.7 1 0.8 1 0.6 1 0.7 1 0.5 1 0.8 1 0.7 1 0.7 1 0.4 1 0.6 1 0.7 1 0.2 1 0 1 -0.5 1 0.1 1 -0.5 1 -0.5 1 -0.3 1 -0.5 1 -0.9 1 -0.2 1 -0.8 0.4 0 M1707.2 248.7l1 0.3 1 -0.1 1 0 1 -0.2 1 0 1 -0.1 1 0.4 1 -0.2 1 0.2 1 -0.1 1 -0.1 1 0.2 1 0 1 -0.3 1 0.1 1 0.1 1 -0.1 1 -0.2 1 0.4 1 -0.4 1 0.1 1 0.2 1 0.1 1 -0.3 1 0.6 1 0.8 1 1 1 0 1 -0.3 1 -1 1 -0.7 1 -0.2 1 -0.3 1 0.3 1 -0.1 1 -0.2 1 0.1 1 -0.1 1 0.2 1 -0.1 1 0.3 1 -0.1 1 0 1 0.1 1 -0.1 1 0.1 1 -0.1 0.8 -0.7 1.6 -4.3 0.8 1 2.8 84 5.6 -125.5 3.8 34.7 0.6 0.3 1 0.2 1 0.5 1 -0.1 1 0.4 1 0.1 1 -0.3 1 0.2 1 0.1 1 -0.2 1 -0.3 1 -0.2 1 0.1 1 -0.2 1 -0.4 1 -0.2 1 0 1 -0.3 1 0.3 1 0.7 1 0.5 1 0.9 1 0.7 1 1.3 1 1.2 1 1.1 1 0.9 1 1.2 1 0.8 1 0.6 1 0.9 1 0.7 1 -0.1 1 0.5 1 0.3 1 -0.1 1 -0.3 1 -0.6 1 -0.5 1 -0.2 1 -0.4 1 -0.6 1 -0.9 1 -0.2 1 -0.6 1 -0.4 1 0.1 1 -0.6 1 -0.2 1 0 1 0 1 -0.2 1 0.2 1 -0.1 1 0 1 -0.1 1 0.1 1 0.5 1 0 1 0.3 1 -0.2 1 0.2 1 0.4 1 0 1 0.1 1 0.4 1 -0.2 1 0.3 1 0 1 0.2 1 0.3 1 0 1 0.2 1 -0.4 1 0.1 1 0.1 1 0.3 1 0.2 1 -0.4 1 0 1 0.5 1 -0.2 1 0.3 1 -0.3 1 0 1 0.3 1 -0.1 1 0 1 0.2 1 -0.3 1 0.2 1 0.2 1 -0.2 1 0 1 0.3 1 -0.1 1 -0.3 1 0.2 1 0.1 1 0 1 0.2 1 0 1 0 1 0.1 1 0.6 1 0.9 1 0.9 1 -0.2 1 -0.5 1 -1.2 1 -0.5 1 0.2 1 -0.1 1 -0.2 1 0.2 1 0.1 1 -0.4 1 0.2 1 0.1 1 -0.2 1 0 1 0.4 1 0 1 -0.1 1 0 1 0 1.4 -0.7 1.6 -4.4 0.8 0.8 2.8 84.5 5.6 -125.6 3.8 35.4 1 0 1 0.5 1 0.2 1 0.1 1 0.2 1 0.1 1 0.1 1 -0.3 1 0.2 1 -0.4 1 0 1 0 1 -0.7 1 -0.2 1 -0.3 1 -0.1 1 0 1 0.5 1 0.2 1 0.6 1 0.6 1 1.1 1 0.8 1 0.7 1 1.5 1 0.9 1 1.2 1 1 1 0.6 1 0.8 1 0.8 1 0.4 1 0.6 1 0 1 -0.3 1 0 1 -0.2 1 -0.5 1 -0.1 1 -0.7 1 -0.5 1 -0.7 1 -0.1 1 -0.9 1 0 1 -0.4 1 -0.5 1 -0.2 1 0 1 -0.1 1 -0.4 1 0.3 1 -0.2 1 0 1 0.2 1 0 1 0.2 1 -0.1 1 0.5 1 -0.1 1 0.4 1 0.1 1 0 1 0.3 1 0.1 1 0 1 0.4 1 0 1 -0.2 1 0.1 1 0.5 1 0.1 1 0 1 -0.3 1 0.1 1 0.1 1 0.3 1 0.1 1 -0.2 1 0.1 1 0 1 -0.1 1 0.2 1 0.4 1 -0.4 1 0.3 1 -0.2 1 -0.1 1 0.4 1 0.1 1 0 1 -0.2 1 0.2 1 -0.2 1 0 1 0.3 1 -0.2 1 0.2 1 -0.1 1 -0.2 1 0.1 1 0.4 1 -0.2 1 0.1 1 0.2 1 -0.3 1 0.4 1 1 1 0.6 1 0.6 1 -0.4 1 -0.6 1 -0.8 1 -0.7 1 -0.1 1 0.2 1 -0.1 1 0.1 1 0.2 1 0.1 1 -0.1 1 -0.3 1 0.1 1 -0.1 1 0 1 0.4 1 0 1 0.1 1 -0.4 0.8 -0.5 1.6 -4.2 0.8 0.9 2.8 84.2 5.6 -125.5 3.8 35 0.6 0.1 1 0.3 1 0.2 1 0.6 1 -0.2 1 0.4 1 -0.2 1 0.1 1 -0.1 1 -0.1 1 0.1 1 -0.5 1 0.1 1 -0.6 1 -0.3 1 0.2 1 -0.4 1 0.3 1 0.3 1 0.2 1 0.9 1 0.9 1 0.9 1 0.9 1 0.9 1 1 1 1.5 1 0.8 1 1.1 1 0.5 1 0.9 1 0.3 1 0.8 1 -0.2 1 0.4 1 -0.5 1 0.2 1 -0.3 1 -0.6 1 -0.6 1 -0.3 1 -0.7 1 -0.4 1 -0.4 1 -0.5 1 -0.3 1 -0.5 1 0.1 1 -0.7 1 0.1 1 -0.2 1 -0.1 1 0 1 0.2 1 0.2 1 -0.2 1 0.3 1 0.1 1 -0.1 1 0.2 1 0.4 1 0.1 1 0.1 1 0.2 1 0.2 1 0.2 1 0 1 -0.1 1 0.2 1 0 1 0.2 1 0.3 1 -0.1 1 0.4 1 -0.1 1 0 1 0 1 0 1 0.1 1 0.1 1 0.1 1 -0.1 1 -0.1 1 0 1 0.4 1 0.1 1 -0.2 1 0 1 0.1 1 -0.2 1 0.1 1 0.1 1 0.2 1 0 1 0.2 1 -0.1 1 -0.1 1 -0.2 1 0.4 1 -0.1 1 -0.1 1 0.2 1 -0.2 1 0.1 1 0.2 1 -0.2 1 0.4 1 0 1 0.7 1 1.3 1 0.3 1 -0.3 1 -1.3 1 -0.5 1 -0.1 1 -0.1 1 -0.3 1 0.2 1 -0.2 1 0.1 1 -0.2 1 0.3 1 -0.2 1 0 1 0.2 1 -0.1 1 0.2 1 -0.2 1 0.2 1 -0.2 0.8 -0.4 1.6 -4.4 0.8 1.1 2.8 84.1 5.6 -125.4 3.8 35 0.6 0.2 1 0.2 1 0.4 1 0.3 1 0.1 1 0.1 1 0.1 1 -0.1 1 0.2 1 -0.2 1 -0.4 1 -0.2 1 0 1 -0.4 1 -0.3 1 -0.1 1 0 1 0 1 0 1 0.6 1 0.6 1 0.7 1 1 1 1.2 1 1.3 1 0.9 1 0.9 1 1 1 0.9 1 1.1 1 0.5 1 0.6 1 0.3 1 0.4 1 0.1 1 -0.2 1 0 1 -0.5 1 -0.6 1 -0.3 1 -0.4 1 -0.7 1 -0.3 1 -0.7 1 -0.2 1 -0.5 1 -0.4 1 0 1 -0.5 1 0.1 1 -0.3 1 0.2 1 -0.2 1 0.1 1 0 1 -0.1 1 0.3 1 -0.1 1 0.1 1 0.5 1 0.2 1 0.2 1 -0.1 1 -0.1 1 0.5 1 0 1 0 1 0.2 1 0.1 1 0 1 0.4 1 0.2 1 0 1 0.1 1 -0.2 1 0.1 1 0.3 1 -0.2 1 0 1 0.3 1 -0.2 1 0 1 0.4 1 -0.4 1 0 1 0.5 1 0 1 -0.1 1 -0.1 1 -0.1 1 0.3 1 -0.2 1 0.4 1 -0.3 1 0 1 0.3 1 -0.3 1 0 1 0.2 1 0.2 1 -0.4 1 0.1 1 0.3 1 -0.1 1 0.1 1 -0.1 1 0.2 1 -0.2 1 0.3 1 1 1 0.5 1 0.8 1 -0.4 1 -0.8 1 -0.6 1 -0.6 1 -0.2 1 0.4 1 -0.3 1 0.2 1 0 1 0 1 -0.1 1 0.2 1 -0.2 1 0 1 0.4 1 -0.4 1 0.3 1 -0.1 1 -0.1 1 -0.3 1.6 -4.3 0.8 0.6 2.8 84.3 5.6 -125.2 3.8 34.7 1.4 0.6 1 0 1 0.3 1 0.3 1 0.3 1 -0.4 1 0.5 1 -0.3 1 0 1 -0.3 1 -0.2 1 -0.2 1 -0.2 1 -0.4 1 0.2 1 -0.2 1 -0.2 1 0.4 1 0.3 1 0.7 1 0.7 1 1 1 0.8 1 1.3 1 0.9 1 1.4 1 1 1 1 1 0.8 1 0.8 1 0.3 1 0.3 1 0.5 1 0.1 1 -0.2 1 -0.3 1 -0.5 1 -0.1 0.4 -0.1 M1707.2 366.8l1 -0.3 1 0.3 1 -0.2 1 -0.1 1 0 1 0.1 1 0 1 0.2 1 -0.2 1 0.1 1 -0.3 1 0.2 1 -0.1 1 0.1 1 0.2 1 -0.4 1 0 1 0.1 1 0 1 -0.4 1 -0.3 1 -0.5 1 -0.4 1 -0.2 1 -0.1 1 0.2 1 0.4 1 0.4 1 0 1 0.3 1 0.5 1 -0.1 1 0.2 1 0.3 1 -0.4 1 0.2 1 -0.2 1 0.1 1 0.3 1 -0.3 1 0 1 -0.1 1 0.3 1 -0.1 1 -0.1 1 0.3 1 -0.4 1 0.1 0.5 0.3 1.5 -2.7 0.8 0.6 2.2 118.1 5.4 -137.8 2.1 2.8 0.5 0.5 1 0.6 1 0.2 1 0.2 1 0.2 1 0.3 1 0.4 1 -0.6 1 -0.2 1 -0.3 1 -1 1 -1.2 1 -1.9 1 -1.7 1 -2.5 1 -2.2 1 -2.8 1 -2.5 1 -2.2 1 -2 1 -2 1 -0.8 1 0.3 1 0.4 1 1.3 1 2.2 1 2.7 1 3.4 1 3.2 1 3.6 1 3.3 1 3.5 1 3.1 1 2.9 1 2.7 1 2 1 2 1 1.1 1 0.4 1 0.7 1 -0.2 1 -0.3 1 -0.4 1 -0.9 1 -1 1 -0.6 1 -0.9 1 -0.7 1 -0.7 1 -0.9 1 -0.5 1 -0.5 1 -0.1 1 -0.2 1 0.5 1 0.4 1 0.4 1 0.6 1 0.5 1 1.4 1 0.9 1 1.2 1 1.2 1 0.8 1 1 1 1.1 1 0.7 1 0.8 1 0.6 1 0.7 1 0.5 1 0.2 1 -0.4 1 0.1 1 -0.3 1 -0.9 1 -0.4 1 -1 1 -0.6 1 -1 1 -0.7 1 -1.1 1 -0.8 1 -0.8 1 -0.6 1 -0.8 1 -0.6 1 0 1 -0.1 1 -0.2 1 0 1 0.5 1 0.4 1 0.9 1 0.4 1 1.2 1 0.9 1 0.7 1 1 1 0.7 1 0.8 1 0.2 1 0.3 1 -0.2 1 -0.2 1 -0.5 1 -0.1 1 0 1 -0.2 1 0.1 1 -0.1 1 -0.1 1 -0.2 1 -0.1 1 -0.5 1 -0.1 1 -0.3 1 0 1 0.2 1 -0.1 1 -0.4 1 0.1 1 -0.1 1 0 1 0.3 1 -0.3 1 0.2 1 -0.1 1 0.2 1.1 0.1 1.5 -2.6 0.8 0.5 2.2 118.2 5.4 -137.5 2.1 2.9 0.9 1 1 0.5 1 0 1 0.5 1 0.3 1 -0.1 1 0 1 -0.1 1 -0.3 1 -1 1 -0.8 1 -1.5 1 -1.7 1 -2.3 1 -2 1 -2.7 1 -2.6 1 -2.3 1 -2.3 1 -2.2 1 -1.2 1 -0.3 1 0.2 1 0.7 1 1.9 1 2.3 1 2.8 1 3.5 1 3.4 1 3.3 1 3.9 1 3.2 1 2.8 1 2.7 1 2.6 1 2.1 1 1.1 1 1.3 1 0.4 1 0.5 1 -0.1 1 -0.8 1 -0.5 1 -0.7 1 -0.9 1 -0.9 1 -0.8 1 -0.9 1 -0.4 1 -0.9 1 -0.3 1 -0.5 1 0.1 1 -0.2 1 0.4 1 0.2 1 0.6 1 0.8 1 0.8 1 0.8 1 1.3 1 1.3 1 1 1 1.2 1 0.6 1 1 1 1.2 1 0.5 1 0.8 1 0.1 1 0.5 1 0.2 1 -0.4 1 0 1 -0.8 1 -0.6 1 -0.6 1 -0.6 1 -1.1 1 -0.6 1 -0.9 1 -1 1 -0.7 1 -1.2 1 -0.5 1 -0.7 1 -0.3 1 0 1 -0.2 1 -0.1 1 0.2 1 0.4 1 0.8 1 0.4 1 1 1 0.8 1 0.9 1 1 1 1 1 0.8 1 0.9 1 0.4 1 0.1 1 0.2 1 0 1 -0.9 1 -0.3 1 -0.6 1 -0.8 1 -0.4 1 0.2 1 -0.2 1 0 1 0.2 1 -0.3 1 0.1 1 -0.3 1 0 1 0 1 0.1 1 -0.3 1 0.3 1 -0.1 1 0.1 1 0 1 0.1 1 -0.3 1 0.3 1 0 1 -0.2 1 -0.1 1 0.3 0.5 -0.2 1.5 -2.5 0.8 0.4 2.2 118 5.4 -137.5 1.5 -0.5 1.2 0.5 1.3 0.6 1.2 0.6 1.2 -0.1 1.5 -0.7 1.5 -1.1 1.5 -1.6 1.5 -2.1 1.5 -3 1.5 -3.8 1.5 -3.9 1.5 -3.3 1.8 -2.8 1.7 -2.5 1.7 -1.9 1.8 -1.1 1.2 -0.2 1.3 0.4 1.3 1.5 1.2 2.6 1.6 4.7 1.6 6.3 1.7 6.4 1.6 4.9 1.1 2.8 1.2 1.7 1.1 1.1 1.1 1.1 1 1.2 1 1.1 1 0.7 1 0.4 2 -0.2 2 -0.6 2 -0.8 2 -0.8 2.2 -0.8 2.2 -0.9 2.2 -0.7 2.2 -0.3 1.3 0.1 1.3 0.5 1.3 0.8 1.3 1.3 1 2 1 2.6 1 2.8 1 2.6 0.7 2.7 0.6 2.8 0.7 2.2 0.7 0.8 0.6 -1.3 0.5 -2.9 0.6 -3.3 0.6 -3 1.1 -2.6 1.1 -2.7 1.1 -2.3 1.1 -1.4 1.9 -0.2 1.9 0.8 1.9 1.1 1.9 0.8 1.9 0.6 1.9 0.6 2 0.5 1.9 0.1 1.8 -0.3 1.8 -0.7 1.9 -0.7 1.8 -0.6 1.6 -0.4 1.5 -0.4 1.5 -0.3 1.6 0 2.2 0.3 2.2 0.4 2.2 0.7 2.2 0.7 2.9 0.8 2.9 1 2.8 1.1 2.9 0.9 1.1 0.8 1.2 0.7 1.1 0.8 1.1 0.9 0.7 1.2 0.7 1.5 0.7 1.4 0.7 0.9 1.2 14 1 70 1.3 63.4 1.7 -43.4 0.5 -7.1 0.5 -10.2 0.5 -11.1 0.5 -9.6 0.6 -7.9 0.6 -7.2 0.6 -6.4 0.6 -5.3 0.9 -3.9 0.9 -2.8 0.9 -2.2 0.9 -2.3 0.8 -2.3 0.8 -2.1 0.8 -2.2 0.8 -2.5 1.2 -3 1.2 -3.2 1.2 -3.4 1.2 -3.3 1.3 -3.2 1.4 -3.1 1.3 -3.1 1.3 -3.1 1.2 -3.3 1.2 -3.4 1.1 -3.2 1.2 -2.6 0.9 -2.1 1 -1.6 1 -1.1 0.9 -0.5 1.1 0.3 1 1 1 1.4 1.1 1.6 1.1 1.8 1 2.2 1 2.3 1.1 2.1 0.9 2 1 2 1 1.9 0.9 1.7 0.9 1.6 1 1.6 1 1.3 0.9 0.6 1.1 -0.2 1 -0.7 1 -1.1 1.1 -1.1 1.3 -1 1.3 -1.2 1.2 -1.2 1.3 -1.1 1.2 -1.1 1.3 -1.1 1.2 -1 1.2 -0.8 1.3 -0.7 1.4 -0.7 1.3 -0.4 1.3 -0.1 2.2 0.2 2.2 0.6 2.1 0.7 2.2 0.9 3.8 1.2 3.7 1.5 3.7 1.4 3.8 1.1 4.2 0.6 4.2 0.4 4.3 0.1 4.2 -0.3 2.8 -0.8 2.7 -1.4 2.8 -1.3 2.7 -0.7 1.8 0.1 1.7 0.7 1.8 0.8 1.8 0.6 1.8 0.4 1.8 0.5 1.8 0.3 1.8 0 1.4 -0.4 1.5 -0.6 1.5 -0.7 1.4 -0.5 0.9 -0.2 0.9 -0.1 0.9 -0.1 0.9 0 1.4 -2.1 0.8 5.5 1.5 110 3.5 -80 2.9 -52 0.6 0.3 0.5 0.4 0.6 0.5 0.6 0.3 0.9 0.2 0.9 0.2 0.9 0.1 0.9 -0.3 1.3 -0.5 1.4 -0.7 1.4 -1 1.3 -1.5 1.5 -2.1 1.5 -2.6 1.5 -2.7 1.5 -2.6 1.8 -2.7 1.8 -2.8 1.8 -2.3 1.8 -1 1.2 0.6 1.2 1.7 1.2 2.6 1.2 2.9 1.2 3.4 1.3 4.1 1.3 4.3 1.2 4.2 1.6 4.3 1.6 4.5 1.5 4 1.6 2.8" stroke="#3a3a3a" stroke-width="2.2" fill="none" stroke-linejoin="round"/>
<text x="1690.6" y="147.1" font-family='"Liberation Sans", sans-serif' font-size="46.8" font-weight="bold" text-anchor="end">3<tspan font-size="29.5" dy="-16.8">rd</tspan><tspan dy="16.8"> intercostal space</tspan></text>
<text x="1690.6" y="265.5" font-family='"Liberation Sans", sans-serif' font-size="46.8" font-weight="bold" text-anchor="end">2<tspan font-size="29.5" dy="-16.8">nd</tspan><tspan dy="16.8"> intercostal space</tspan></text>
<text x="1690.6" y="380.7" font-family='"Liberation Sans", sans-serif' font-size="46.8" font-weight="bold" text-anchor="end">3<tspan font-size="29.5" dy="-16.8">rd</tspan><tspan dy="16.8"> intercostal space</tspan></text>
</g>
<g id="panelC">
<text x="124.5" y="617.5" font-family='"Liberation Sans", sans-serif' font-size="46.5" font-weight="bold" fill="#000" text-anchor="start" >TRPM4</text>
<text x="338.5" y="617.5" font-family='"Liberation Sans", sans-serif' font-size="46.5" font-weight="bold" fill="#000" text-anchor="start" >chr19: 49671982</text>
<text x="755.5" y="617.5" font-family='"Liberation Sans", sans-serif' font-size="46.5" font-weight="bold" fill="#000" text-anchor="start" >c.785C&gt;T</text>
<text x="1015" y="617.5" font-family='"Liberation Sans", sans-serif' font-size="46.5" font-weight="bold" fill="#000" text-anchor="start" >p.T262M</text>
<rect x="50" y="930" width="1240.5" height="6" fill="#e2e2e2"/>
<path d="M50 915.8l1.5 2.9 1.5 2.4 1.5 1.9 1.5 1.5 1.5 1.1 1.5 0.9 1.5 0.7 1.5 0.5 1.5 0.4 1.5 0.3 1.5 0.2 M102.5 928.5l1.5 -0.2 1.5 -0.2 1.5 -0.4 1.5 -0.5 1.5 -0.7 1.5 -0.9 1.5 -1.1 1.5 -1.4 1.5 -1.9 1.5 -2.2 1.5 -2.8 1.5 -3.3 1.5 -3.9 1.5 -4.6 1.5 -5.3 1.5 -5.9 1.5 -6.7 1.5 -7.2 1.5 -7.8 1.5 -8.2 1.5 -8.5 1.5 -8.6 1.5 -8.4 1.5 -8.1 1.5 -7.4 1.5 -6.7 1.5 -5.6 1.5 -4.3 1.5 -3 1.5 -1.5 1.5 0 1.5 1.6 1.5 3.1 1.5 4.5 1.5 5.6 1.5 6.7 1.5 7.6 1.5 8.1 1.5 8.4 1.5 8.6 1.5 8.4 1.5 8.2 1.5 7.8 1.5 7.2 1.5 6.6 1.5 5.9 1.5 5.2 1.5 4.6 1.5 3.9 1.5 3.2 1.5 2.7 1.5 2.3 1.5 1.8 1.5 1.4 1.5 1.1 1.5 0.9 1.5 0.6 1.5 0.5 1.5 0.4 1.5 0.3 1.5 0.2 M282.5 928.6l1.5 -0.2 1.5 -0.2 1.5 -0.3 1.5 -0.5 1.5 -0.6 1.5 -0.7 1.5 -0.9 1.5 -1.2 1.5 -1.5 1.5 -1.9 1.5 -2.2 1.5 -2.7 1.5 -3.1 1.5 -3.6 1.5 -4.1 1.5 -4.6 1.5 -5.1 1.5 -5.5 1.5 -5.8 1.5 -6.1 1.5 -6.1 1.5 -6.2 1.5 -5.9 1.5 -5.6 1.5 -5.1 1.5 -4.4 1.5 -3.5 1.5 -2.6 1.5 -1.5 1.5 -0.4 1.5 0.7 1.5 1.8 1.5 2.9 1.5 3.7 1.5 4.6 1.5 5.2 1.5 5.7 1.5 6 1.5 6.2 1.5 6.2 1.5 6 1.5 5.7 1.5 5.4 1.5 5 1.5 4.4 1.5 4 1.5 3.5 1.5 3 1.5 2.5 1.5 2.1 1.5 1.8 1.5 1.4 1.5 1.1 1.5 0.9 1.5 0.7 1.5 0.5 1.5 0.4 1.5 0.3 1.5 0.3 1.5 0.1 M396.5 928.6l1.5 -0.2 1.5 -0.3 1.5 -0.3 1.5 -0.5 1.5 -0.7 1.5 -0.8 1.5 -1.1 1.5 -1.5 1.5 -1.8 1.5 -2.2 1.5 -2.7 1.5 -3.4 1.5 -3.9 1.5 -4.7 1.5 -5.3 1.5 -6.1 1.5 -6.9 1.5 -7.5 1.5 -8.1 1.5 -8.6 1.5 -8.9 1.5 -9.1 1.5 -9.1 1.5 -8.7 1.5 -8.2 1.5 -7.4 1.5 -6.3 1.5 -5.2 1.5 -3.6 1.5 -2.2 1.5 -0.5 1.5 1.2 1.5 2.7 1.5 4.3 1.5 5.6 1.5 6.8 1.5 7.7 1.5 8.4 1.5 8.8 1.5 8.9 1.5 8.9 1.5 8.6 1.5 8.1 1.5 7.5 1.5 6.6 1.5 5.8 1.5 4.8 1.5 3.8 1.5 2.8 1.5 1.7 1.5 0.7 1.5 -0.4 1.5 -1.5 1.5 -2.4 1.5 -3.5 1.5 -4.3 1.5 -5.3 1.5 -6 1.5 -6.7 1.5 -7.2 1.5 -7.6 1.5 -7.8 1.5 -7.8 1.5 -7.5 1.5 -7 1.5 -6.4 1.5 -5.5 1.5 -4.3 1.5 -3.2 1.5 -1.7 1.5 -0.3 1.5 1.1 1.5 2.5 1.5 3.8 1.5 5 1.5 6 1.5 6.8 1.5 7.4 1.5 7.8 1.5 7.9 1.5 7.9 1.5 7.7 1.5 7.3 1.5 6.9 1.5 6.3 1.5 5.7 1.5 5 1.5 4.4 1.5 3.8 1.5 3.2 1.5 2.6 1.5 2.2 1.5 1.8 1.5 1.4 1.5 1.1 1.5 0.8 1.5 0.7 1.5 0.5 1.5 0.4 1.5 0.2 1.5 0.2 M576.5 928.6l1.5 -0.2 1.5 -0.3 1.5 -0.4 1.5 -0.4 1.5 -0.7 1.5 -0.9 1.5 -1.1 1.5 -1.4 1.5 -1.8 1.5 -2.3 1.5 -2.7 1.5 -3.4 1.5 -3.9 1.5 -4.7 1.5 -5.4 1.5 -6.1 1.5 -6.8 1.5 -7.5 1.5 -8 1.5 -8.6 1.5 -8.9 1.5 -9 1.5 -8.9 1.5 -8.7 1.5 -8 1.5 -7.3 1.5 -6.2 1.5 -5 1.5 -3.6 1.5 -2 1.5 -0.3 1.5 1.2 1.5 2.9 1.5 4.3 1.5 5.7 1.5 6.8 1.5 7.7 1.5 8.4 1.5 8.8 1.5 9 1.5 9 1.5 8.7 1.5 8.3 1.5 7.8 1.5 7.2 1.5 6.4 1.5 5.7 1.5 5 1.5 4.3 1.5 3.6 1.5 3 1.5 2.5 1.5 2 1.5 1.6 1.5 1.2 1.5 1 1.5 0.8 1.5 0.5 1.5 0.5 1.5 0.3 1.5 0.2 1.5 0.1 M1206.5 928.6l1.5 -0.2 1.5 -0.3 1.5 -0.4 1.5 -0.5 1.5 -0.7 1.5 -0.9 1.5 -1.2 1.5 -1.5 1.5 -1.8 1.5 -2.4 1.5 -2.9 1.5 -3.4 1.5 -4.2 1.5 -4.8 1.5 -5.6 1.5 -6.3 1.5 -7.1 1.5 -7.8 1.5 -8.5 1.5 -8.9 1.5 -9.2 1.5 -9.4 1.5 -9.3 1.5 -9 1.5 -8.4 1.5 -7.6 1.5 -6.5 1.5 -5.2 1.5 -3.7 1.5 -2 1.5 -0.4 1.5 1.3 1.5 2.9 1.5 4.5 1.5 5.9 1.5 7.1 1.5 8.1 1.5 8.7 1.5 9.2 1.5 9.4 1.5 9.3 1.5 9.1 1.5 8.7 1.5 8.1 1.5 7.4 1.5 6.7 1.5 6 1.5 5.2 1.5 4.4 1.5 3.8 1.5 3.1 1.5 2.6 1.5 2.1 1.5 1.7 1.5 1.3 1.5 1" stroke="#1b8c57" stroke-width="1.5" fill="none" stroke-linejoin="round"/>
<path d="M159.5 928.6l1.5 -0.1 1.5 -0.2 1.5 -0.3 1.5 -0.4 1.5 -0.4 1.5 -0.6 1.5 -0.8 1.5 -0.9 1.5 -1.2 1.5 -1.3 1.5 -1.7 1.5 -1.9 1.5 -2.3 1.5 -2.5 1.5 -2.9 1.5 -3.1 1.5 -3.4 1.5 -3.6 1.5 -3.8 1.5 -3.8 1.5 -3.8 1.5 -3.6 1.5 -3.5 1.5 -3 1.5 -2.7 1.5 -2.1 1.5 -1.6 1.5 -0.9 1.5 -0.2 1.5 0.5 1.5 1.2 1.5 1.7 1.5 2.4 1.5 2.8 1.5 3.3 1.5 3.5 1.5 3.7 1.5 3.8 1.5 3.8 1.5 3.7 1.5 3.5 1.5 3.3 1.5 3.1 1.5 2.7 1.5 2.4 1.5 2.2 1.5 1.8 1.5 1.5 1.5 1.3 1.5 1.1 1.5 0.9 1.5 0.6 1.5 0.6 1.5 0.4 1.5 0.3 1.5 0.3 1.5 0.1 M333.5 928.6l1.5 -0.1 1.5 -0.3 1.5 -0.3 1.5 -0.4 1.5 -0.6 1.5 -0.7 1.5 -0.9 1.5 -1.2 1.5 -1.5 1.5 -1.9 1.5 -2.3 1.5 -2.8 1.5 -3.2 1.5 -3.8 1.5 -4.4 1.5 -5 1.5 -5.5 1.5 -6 1.5 -6.5 1.5 -6.8 1.5 -7 1.5 -7.1 1.5 -7 1.5 -6.7 1.5 -6.2 1.5 -5.6 1.5 -4.6 1.5 -3.6 1.5 -2.5 1.5 -1.3 1.5 0.1 1.5 1.3 1.5 2.6 1.5 3.7 1.5 4.7 1.5 5.6 1.5 6.2 1.5 6.7 1.5 7 1.5 7.1 1.5 7.1 1.5 6.8 1.5 6.4 1.5 6 1.5 5.5 1.5 4.9 1.5 4.3 1.5 3.8 1.5 3.2 1.5 2.8 1.5 2.2 1.5 1.9 1.5 1.5 1.5 1.1 1.5 1 1.5 0.7 1.5 0.5 1.5 0.4 1.5 0.3 1.5 0.3 1.5 0.1 M513.5 928.5l1.5 -0.2 1.5 -0.3 1.5 -0.4 1.5 -0.5 1.5 -0.7 1.5 -0.8 1.5 -1.1 1.5 -1.4 1.5 -1.7 1.5 -2.1 1.5 -2.5 1.5 -2.9 1.5 -3.5 1.5 -3.9 1.5 -4.4 1.5 -5 1.5 -5.4 1.5 -5.7 1.5 -6.1 1.5 -6.2 1.5 -6.3 1.5 -6.2 1.5 -5.8 1.5 -5.5 1.5 -4.8 1.5 -4 1.5 -3 1.5 -2.1 1.5 -0.9 1.5 0.2 1.5 1.3 1.5 2.4 1.5 3.4 1.5 4.3 1.5 5 1.5 5.6 1.5 6 1.5 6.2 1.5 6.3 1.5 6.1 1.5 6 1.5 5.7 1.5 5.2 1.5 4.8 1.5 4.3 1.5 3.7 1.5 3.3 1.5 2.8 1.5 2.4 1.5 1.9 1.5 1.6 1.5 1.3 1.5 1 1.5 0.8 1.5 0.6 1.5 0.5 1.5 0.3 1.5 0.3 1.5 0.2 M684.5 928.6l1.5 -0.1 1.5 -0.2 1.5 -0.3 1.5 -0.5 1.5 -0.5 1.5 -0.8 1.5 -1 1.5 -1.3 1.5 -1.6 1.5 -2 1.5 -2.6 1.5 -3.1 1.5 -3.7 1.5 -4.4 1.5 -5.1 1.5 -5.9 1.5 -6.6 1.5 -7.4 1.5 -8.1 1.5 -8.7 1.5 -9.1 1.5 -9.4 1.5 -9.5 1.5 -9.3 1.5 -8.9 1.5 -8.2 1.5 -7.3 1.5 -6.1 1.5 -4.7 1.5 -3.2 1.5 -1.6 1.5 0.2 1.5 1.8 1.5 3.5 1.5 5 1.5 6.4 1.5 7.4 1.5 8.2 1.5 8.9 1.5 9.1 1.5 9.2 1.5 9 1.5 8.5 1.5 7.8 1.5 7 1.5 6.1 1.5 5 1.5 3.9 1.5 2.7 1.5 1.4 1.5 0.3 1.5 -1 1.5 -2.1 1.5 -3.2 1.5 -4.3 1.5 -5.2 1.5 -6 1.5 -6.7 1.5 -7.2 1.5 -7.5 1.5 -7.6 1.5 -7.4 1.5 -7.1 1.5 -6.5 1.5 -5.7 1.5 -4.6 1.5 -3.4 1.5 -2.1 1.5 -0.7 1.5 0.7 1.5 2.1 1.5 3.5 1.5 4.6 1.5 5.7 1.5 6.6 1.5 7.1 1.5 7.6 1.5 7.8 1.5 7.7 1.5 7.4 1.5 7.1 1.5 6.5 1.5 5.8 1.5 5 1.5 4.1 1.5 3.3 1.5 2.2 1.5 1.4 1.5 0.3 1.5 -0.6 1.5 -1.6 1.5 -2.5 1.5 -3.3 1.5 -4.2 1.5 -4.9 1.5 -5.5 1.5 -6 1.5 -6.5 1.5 -6.6 1.5 -6.7 1.5 -6.5 1.5 -6.2 1.5 -5.6 1.5 -4.8 1.5 -4 1.5 -2.9 1.5 -1.8 1.5 -0.5 1.5 0.7 1.5 1.9 1.5 3.1 1.5 4.1 1.5 5 1.5 5.8 1.5 6.3 1.5 6.7 1.5 6.8 1.5 6.9 1.5 6.6 1.5 6.4 1.5 6 1.5 5.6 1.5 5 1.5 4.4 1.5 3.9 1.5 3.4 1.5 2.8 1.5 2.4 1.5 2 1.5 1.6 1.5 1.3 1.5 1 1.5 0.8 1.5 0.6 1.5 0.4 1.5 0.3 1.5 0.3 1.5 0.2 M920 928.6l1.5 -0.1 1.5 -0.2 1.5 -0.3 1.5 -0.4 1.5 -0.6 1.5 -0.7 1.5 -0.9 1.5 -1.2 1.5 -1.5 1.5 -1.9 1.5 -2.2 1.5 -2.8 1.5 -3.3 1.5 -3.9 1.5 -4.4 1.5 -5.1 1.5 -5.7 1.5 -6.3 1.5 -6.7 1.5 -7.2 1.5 -7.4 1.5 -7.6 1.5 -7.5 1.5 -7.3 1.5 -6.8 1.5 -6.2 1.5 -5.3 1.5 -4.2 1.5 -3.1 1.5 -1.8 1.5 -0.4 1.5 1 1.5 2.3 1.5 3.5 1.5 4.7 1.5 5.7 1.5 6.4 1.5 7.1 1.5 7.4 1.5 7.5 1.5 7.6 1.5 7.3 1.5 7 1.5 6.6 1.5 6 1.5 5.5 1.5 4.8 1.5 4.2 1.5 3.7 1.5 3.1 1.5 2.5 1.5 2.1 1.5 1.7 1.5 1.4 1.5 1.1 1.5 0.8 1.5 0.7 1.5 0.4 1.5 0.4 1.5 0.3 1.5 0.2 M1026.5 928.6l1.5 -0.2 1.5 -0.3 1.5 -0.3 1.5 -0.5 1.5 -0.7 1.5 -0.8 1.5 -1.1 1.5 -1.4 1.5 -1.8 1.5 -2.2 1.5 -2.7 1.5 -3.3 1.5 -4 1.5 -4.6 1.5 -5.3 1.5 -6 1.5 -6.8 1.5 -7.4 1.5 -8.1 1.5 -8.5 1.5 -8.9 1.5 -9 1.5 -8.9 1.5 -8.7 1.5 -8.1 1.5 -7.3 1.5 -6.3 1.5 -5.1 1.5 -3.7 1.5 -2.1 1.5 -0.5 1.5 1.1 1.5 2.8 1.5 4.2 1.5 5.5 1.5 6.7 1.5 7.5 1.5 8.2 1.5 8.7 1.5 8.7 1.5 8.6 1.5 8.3 1.5 7.7 1.5 6.9 1.5 6.1 1.5 5.1 1.5 4.1 1.5 2.9 1.5 1.7 1.5 0.6 1.5 -0.6 1.5 -1.6 1.5 -2.8 1.5 -3.8 1.5 -4.6 1.5 -5.4 1.5 -6.1 1.5 -6.6 1.5 -6.9 1.5 -6.9 1.5 -6.9 1.5 -6.5 1.5 -6 1.5 -5.2 1.5 -4.3 1.5 -3.1 1.5 -2 1.5 -0.6 1.5 0.6 1.5 2 1.5 3.2 1.5 4.3 1.5 5.2 1.5 6.1 1.5 6.6 1.5 7 1.5 7.1 1.5 7.1 1.5 6.8 1.5 6.5 1.5 5.9 1.5 5.2 1.5 4.5 1.5 3.7 1.5 2.7 1.5 1.8 1.5 0.9 1.5 -0.1 1.5 -1 1.5 -2 1.5 -2.9 1.5 -3.7 1.5 -4.5 1.5 -5.3 1.5 -5.9 1.5 -6.4 1.5 -6.7 1.5 -6.9 1.5 -6.9 1.5 -6.7 1.5 -6.2 1.5 -5.6 1.5 -4.8 1.5 -3.8 1.5 -2.7 1.5 -1.5 1.5 -0.2 1.5 1 1.5 2.4 1.5 3.4 1.5 4.6 1.5 5.4 1.5 6.1 1.5 6.6 1.5 7 1.5 7.1 1.5 7 1.5 6.9 1.5 6.5 1.5 6.1 1.5 5.6 1.5 5 1.5 4.4 1.5 3.9 1.5 3.4 1.5 2.8 1.5 2.3 1.5 1.9 1.5 1.6 1.5 1.2 1.5 1 1.5 0.8 1.5 0.5 1.5 0.5 1.5 0.3 1.5 0.2 1.5 0.2 M1277 928.6l1.5 -0.2 1.5 -0.2 1.5 -0.4 1.5 -0.4 1.5 -0.6 1.5 -0.8 1.5 -1 1.5 -1.3 1.5 -1.5" stroke="#1a1a1a" stroke-width="1.5" fill="none" stroke-linejoin="round"/>
<path d="M50 920.9l1.5 -2.4 1.5 -3.1 1.5 -3.6 1.5 -4.4 1.5 -5.2 1.5 -5.9 1.5 -6.9 1.5 -7.7 1.5 -8.6 1.5 -9.2 1.5 -9.9 1.5 -10.4 1.5 -10.6 1.5 -10.7 1.5 -10.3 1.5 -9.9 1.5 -9 1.5 -7.9 1.5 -6.5 1.5 -4.8 1.5 -3.2 1.5 -1.2 1.5 0.7 1.5 2.6 1.5 4.5 1.5 6.1 1.5 7.5 1.5 8.7 1.5 9.7 1.5 10.2 1.5 10.6 1.5 10.7 1.5 10.4 1.5 10.1 1.5 9.4 1.5 8.8 1.5 7.9 1.5 7.1 1.5 6.2 1.5 5.4 1.5 4.6 1.5 3.8 1.5 3.2 1.5 2.6 1.5 2.1 1.5 1.6 1.5 1.3 1.5 1 1.5 0.7 1.5 0.6 1.5 0.4 1.5 0.3 1.5 0.2 M212 928.5l1.5 -0.2 1.5 -0.3 1.5 -0.5 1.5 -0.6 1.5 -0.7 1.5 -1.1 1.5 -1.4 1.5 -1.7 1.5 -2.2 1.5 -2.8 1.5 -3.5 1.5 -4.2 1.5 -5 1.5 -5.9 1.5 -6.9 1.5 -7.9 1.5 -8.9 1.5 -9.8 1.5 -10.7 1.5 -11.5 1.5 -12 1.5 -12.3 1.5 -12.3 1.5 -12.1 1.5 -11.4 1.5 -10.5 1.5 -9.3 1.5 -7.6 1.5 -5.8 1.5 -3.8 1.5 -1.6 1.5 0.7 1.5 2.9 1.5 5 1.5 7 1.5 8.6 1.5 10 1.5 11.2 1.5 11.8 1.5 12.3 1.5 12.3 1.5 12.2 1.5 11.7 1.5 11 1.5 10.2 1.5 9.3 1.5 8.3 1.5 7.3 1.5 6.3 1.5 5.3 1.5 4.6 1.5 3.7 1.5 3 1.5 2.5 1.5 1.9 1.5 1.5 1.5 1.2 1.5 0.9 1.5 0.6 1.5 0.5 1.5 0.4 1.5 0.2 1.5 0.2 M627.5 928.5l1.5 -0.2 1.5 -0.3 1.5 -0.3 1.5 -0.5 1.5 -0.6 1.5 -0.8 1.5 -1 1.5 -1.3 1.5 -1.5 1.5 -1.9 1.5 -2.2 1.5 -2.6 1.5 -2.9 1.5 -3.5 1.5 -3.8 1.5 -4.2 1.5 -4.5 1.5 -4.8 1.5 -5 1.5 -5.1 1.5 -5 1.5 -4.9 1.5 -4.5 1.5 -4.2 1.5 -3.5 1.5 -2.9 1.5 -2 1.5 -1.2 1.5 -0.3 1.5 0.7 1.5 1.5 1.5 2.4 1.5 3.1 1.5 3.8 1.5 4.3 1.5 4.8 1.5 4.9 1.5 5.1 1.5 5 1.5 5 1.5 4.7 1.5 4.4 1.5 4 1.5 3.7 1.5 3.2 1.5 2.8 1.5 2.5 1.5 2 1.5 1.7 1.5 1.5 1.5 1.1 1.5 0.9 1.5 0.7 1.5 0.6 1.5 0.4 1.5 0.4 1.5 0.2 1.5 0.2 M863 928.5l1.5 -0.2 1.5 -0.3 1.5 -0.4 1.5 -0.5 1.5 -0.7 1.5 -0.9 1.5 -1.2 1.5 -1.5 1.5 -1.9 1.5 -2.4 1.5 -2.8 1.5 -3.4 1.5 -4.1 1.5 -4.7 1.5 -5.4 1.5 -6.1 1.5 -6.8 1.5 -7.4 1.5 -8 1.5 -8.3 1.5 -8.6 1.5 -8.6 1.5 -8.5 1.5 -8 1.5 -7.5 1.5 -6.6 1.5 -5.5 1.5 -4.2 1.5 -2.8 1.5 -1.3 1.5 0.2 1.5 1.9 1.5 3.3 1.5 4.6 1.5 5.9 1.5 6.9 1.5 7.7 1.5 8.2 1.5 8.6 1.5 8.6 1.5 8.5 1.5 8.2 1.5 7.8 1.5 7.2 1.5 6.6 1.5 5.9 1.5 5.1 1.5 4.5 1.5 3.9 1.5 3.2 1.5 2.7 1.5 2.2 1.5 1.7 1.5 1.4 1.5 1.1 1.5 0.9 1.5 0.6 1.5 0.5 1.5 0.3 1.5 0.3 1.5 0.2" stroke="#1a1aff" stroke-width="1.5" fill="none" stroke-linejoin="round"/>
<path d="M639.5 928.6l1.5 -0.1 1.5 -0.2 1.5 -0.2 1.5 -0.3 1.5 -0.4 1.5 -0.5 1.5 -0.7 1.5 -0.7 1.5 -0.9 1.5 -1.1 1.5 -1.2 1.5 -1.4 1.5 -1.6 1.5 -1.8 1.5 -2 1.5 -2.1 1.5 -2.2 1.5 -2.2 1.5 -2.3 1.5 -2.2 1.5 -2.1 1.5 -2 1.5 -1.7 1.5 -1.5 1.5 -1.1 1.5 -0.7 1.5 -0.4 1.5 0.1 1.5 0.5 1.5 0.8 1.5 1.3 1.5 1.5 1.5 1.8 1.5 2.1 1.5 2.1 1.5 2.3 1.5 2.2 1.5 2.3 1.5 2.1 1.5 2.1 1.5 1.9 1.5 1.7 1.5 1.6 1.5 1.3 1.5 1.2 1.5 1 1.5 0.9 1.5 0.7 1.5 0.5 1.5 0.5 1.5 0.4 1.5 0.3 1.5 0.2 1.5 0.2 M978.5 928.5l1.5 -0.2 1.5 -0.3 1.5 -0.4 1.5 -0.5 1.5 -0.6 1.5 -0.9 1.5 -1 1.5 -1.4 1.5 -1.6 1.5 -2.1 1.5 -2.4 1.5 -2.9 1.5 -3.4 1.5 -3.8 1.5 -4.4 1.5 -4.8 1.5 -5.3 1.5 -5.6 1.5 -6 1.5 -6.1 1.5 -6.1 1.5 -6 1.5 -5.8 1.5 -5.3 1.5 -4.7 1.5 -3.9 1.5 -3 1.5 -2 1.5 -0.9 1.5 0.1 1.5 1.3 1.5 2.4 1.5 3.3 1.5 4.2 1.5 4.9 1.5 5.5 1.5 5.9 1.5 6 1.5 6.2 1.5 6 1.5 5.9 1.5 5.5 1.5 5.2 1.5 4.6 1.5 4.2 1.5 3.7 1.5 3.2 1.5 2.8 1.5 2.2 1.5 2 1.5 1.5 1.5 1.3 1.5 1 1.5 0.7 1.5 0.6 1.5 0.5 1.5 0.3 1.5 0.3 1.5 0.2" stroke="#f01818" stroke-width="1.5" fill="none" stroke-linejoin="round"/>
<path d="M1281 929l3-2 3-10 2-8 M1283 909l3 8 3 10" stroke="#222" stroke-width="1.4" fill="none"/>
<path d="M50 929.3H1290.5" stroke="#111" stroke-width="1.6"/>
<path d="M1228 936.5q0 -3 3 -3h18q3 0 3 3" stroke="#ccc" stroke-width="1.2" fill="none"/>
<rect x="77" y="681.5" width="10" height="13" fill="#fff" stroke="#bbb" stroke-width="1"/>
<rect x="77" y="688.5" width="10" height="6.5" fill="#0000ff"/>
<text x="82" y="719.6" font-family='"Liberation Mono", monospace' font-size="20.5" font-weight="normal" fill="#4848ff" text-anchor="middle" stroke="#4848ff" stroke-width="0.35">C</text>
<rect x="144.6" y="681.5" width="10" height="13" fill="#fff" stroke="#bbb" stroke-width="1"/>
<rect x="144.6" y="688.5" width="10" height="6.5" fill="#0a8046"/>
<text x="149.6" y="719.6" font-family='"Liberation Mono", monospace' font-size="20.5" font-weight="normal" fill="#2a9a62" text-anchor="middle" stroke="#2a9a62" stroke-width="0.35">A</text>
<rect x="197.7" y="681" width="10" height="14" fill="#000"/>
<text x="202.7" y="719.6" font-family='"Liberation Mono", monospace' font-size="20.5" font-weight="normal" fill="#333" text-anchor="middle" stroke="#333" stroke-width="0.35">G</text>
<rect x="255.8" y="681" width="10" height="14" fill="#0000ff"/>
<text x="260.8" y="719.6" font-family='"Liberation Mono", monospace' font-size="20.5" font-weight="normal" fill="#4848ff" text-anchor="middle" stroke="#4848ff" stroke-width="0.35">C</text>
<rect x="323.2" y="681" width="10" height="14" fill="#0a8046"/>
<text x="328.2" y="719.6" font-family='"Liberation Mono", monospace' font-size="20.5" font-weight="normal" fill="#2a9a62" text-anchor="middle" stroke="#2a9a62" stroke-width="0.35">A</text>
<rect x="375.9" y="681" width="10" height="14" fill="#000"/>
<text x="380.9" y="719.6" font-family='"Liberation Mono", monospace' font-size="20.5" font-weight="normal" fill="#333" text-anchor="middle" stroke="#333" stroke-width="0.35">G</text>
<rect x="438.8" y="681" width="10" height="14" fill="#0a8046"/>
<text x="443.8" y="719.6" font-family='"Liberation Mono", monospace' font-size="20.5" font-weight="normal" fill="#2a9a62" text-anchor="middle" stroke="#2a9a62" stroke-width="0.35">A</text>
<rect x="500.6" y="681" width="10" height="14" fill="#0a8046"/>
<text x="505.6" y="719.6" font-family='"Liberation Mono", monospace' font-size="20.5" font-weight="normal" fill="#2a9a62" text-anchor="middle" stroke="#2a9a62" stroke-width="0.35">A</text>
<rect x="553.5" y="681" width="10" height="14" fill="#000"/>
<text x="558.5" y="719.6" font-family='"Liberation Mono", monospace' font-size="20.5" font-weight="normal" fill="#333" text-anchor="middle" stroke="#333" stroke-width="0.35">G</text>
<rect x="621.5" y="681.5" width="10" height="12" fill="#fff" stroke="#c4c4c4" stroke-width="1.1"/>
<rect x="621.5" y="693" width="10" height="2" fill="#0a8046"/>
<text x="626.5" y="719.6" font-family='"Liberation Mono", monospace' font-size="20.5" font-weight="normal" fill="#2a9a62" text-anchor="middle" stroke="#2a9a62" stroke-width="0.35">A</text>
<rect x="668.7" y="681.5" width="10" height="12" fill="#fff" stroke="#c4c4c4" stroke-width="1.1"/>
<rect x="668.7" y="693" width="10" height="2" fill="#0000ff"/>
<text x="673.7" y="719.6" font-family='"Liberation Mono", monospace' font-size="20.5" font-weight="normal" fill="#4848ff" text-anchor="middle" stroke="#4848ff" stroke-width="0.35">C</text>
<rect x="727.3" y="681.5" width="10" height="12" fill="#fff" stroke="#c4c4c4" stroke-width="1.1"/>
<rect x="727.3" y="693" width="10" height="2" fill="#000"/>
<text x="732.3" y="719.6" font-family='"Liberation Mono", monospace' font-size="20.5" font-weight="normal" fill="#333" text-anchor="middle" stroke="#333" stroke-width="0.35">G</text>
<rect x="784" y="681" width="10" height="14" fill="#000"/>
<text x="789" y="719.6" font-family='"Liberation Mono", monospace' font-size="20.5" font-weight="normal" fill="#333" text-anchor="middle" stroke="#333" stroke-width="0.35">G</text>
<rect x="842.6" y="681" width="10" height="14" fill="#000"/>
<text x="847.6" y="719.6" font-family='"Liberation Mono", monospace' font-size="20.5" font-weight="normal" fill="#333" text-anchor="middle" stroke="#333" stroke-width="0.35">G</text>
<rect x="904" y="681" width="10" height="14" fill="#0000ff"/>
<text x="909" y="719.6" font-family='"Liberation Mono", monospace' font-size="20.5" font-weight="normal" fill="#4848ff" text-anchor="middle" stroke="#4848ff" stroke-width="0.35">C</text>
<rect x="962.7" y="681" width="10" height="14" fill="#000"/>
<text x="967.7" y="719.6" font-family='"Liberation Mono", monospace' font-size="20.5" font-weight="normal" fill="#333" text-anchor="middle" stroke="#333" stroke-width="0.35">G</text>
<rect x="1019.4" y="681" width="10" height="14" fill="#ff0000"/>
<text x="1024.4" y="719.6" font-family='"Liberation Mono", monospace' font-size="20.5" font-weight="normal" fill="#ff3030" text-anchor="middle" stroke="#ff3030" stroke-width="0.35">T</text>
<rect x="1067" y="681" width="10" height="14" fill="#000"/>
<text x="1072" y="719.6" font-family='"Liberation Mono", monospace' font-size="20.5" font-weight="normal" fill="#333" text-anchor="middle" stroke="#333" stroke-width="0.35">G</text>
<rect x="1126" y="681" width="10" height="14" fill="#000"/>
<text x="1131" y="719.6" font-family='"Liberation Mono", monospace' font-size="20.5" font-weight="normal" fill="#333" text-anchor="middle" stroke="#333" stroke-width="0.35">G</text>
<rect x="1184" y="681" width="10" height="14" fill="#000"/>
<text x="1189" y="719.6" font-family='"Liberation Mono", monospace' font-size="20.5" font-weight="normal" fill="#333" text-anchor="middle" stroke="#333" stroke-width="0.35">G</text>
<rect x="1251.5" y="681" width="10" height="14" fill="#0a8046"/>
<text x="1256.5" y="719.6" font-family='"Liberation Mono", monospace' font-size="20.5" font-weight="normal" fill="#2a9a62" text-anchor="middle" stroke="#2a9a62" stroke-width="0.35">A</text>
<text x="505.6" y="674.8" font-family='"Liberation Sans", sans-serif' font-size="19" font-weight="normal" fill="#3a3a3a" text-anchor="middle" >320</text>
<text x="1072" y="674.8" font-family='"Liberation Sans", sans-serif' font-size="19" font-weight="normal" fill="#3a3a3a" text-anchor="middle" >330</text>
<path d="M663 760h6v43h5.5l-8.5 27.5-8.5-27.5h5.5z" fill="#ff0d0d"/>
</g>
<g id="panelD">
<rect x="1450.6" y="569" width="516.8" height="521.6" fill="#fff" stroke="#000" stroke-width="4.6" rx="1.5"/>
<path d="M1461.8 814.5l0 -1.2 1.2 0 1.3 0 1.2 0 1.3 0 1.2 0 1.3 0 1.2 0 1.3 0 1.2 0 1.3 0 1.2 0 1.3 0 1.2 0 1.3 0 1.2 0 1.3 0 1.2 0 1.3 0 1.2 0 1.3 0 1.2 0 1.3 0 1.2 0 1.3 0 1.2 0 1.3 0 1.2 0 1.3 0 1.2 0 1.3 0 1.2 0 1.3 0 1.2 0 1.3 -0.1 1.2 0 1.3 -0.1 1.2 -0.3 1.3 -0.3 1.2 -0.7 1.3 -0.9 1.2 -1.5 1.3 -2.1 1.2 -3 1.3 -3.8 1.2 -4.8 1.3 -5.6 1.2 -6.3 1.3 -6.5 1.2 -6.2 1.3 -5.4 1.2 -4.1 1.3 -2.2 1.2 -0.1 1.3 2 1.2 3.8 1.3 5.3 1.2 6.1 1.3 6.5 1.2 6.3 1.3 5.8 1.2 4.9 1.3 3.9 1.2 3.1 1.3 2.2 1.2 1.5 1.3 1.1 1.2 0.6 1.3 0.4 1.2 0.2 1.3 0.2 1.2 0 1.3 0.1 1.2 0 1.3 -0.1 1.2 0 1.3 -0.1 1.2 -0.2 1.3 -0.3 1.2 -0.5 1.3 -0.9 1.2 -1.3 1.3 -1.9 1.2 -2.6 1.3 -3.6 1.2 -4.5 1.3 -5.3 1.2 -6.1 1.3 -6.5 1.2 -6.4 1.3 -5.7 1.2 -4.6 1.3 -2.8 1.2 -0.8 1.3 1.3 1.2 3.3 1.3 4.9 1.2 5.9 1.3 6.4 1.2 6.5 1.3 5.9 1.2 5.2 1.3 4.3 1.2 3.3 1.3 2.4 1.2 1.8 1.3 1.2 1.2 0.7 1.3 0.5 1.2 0.3 1.3 0.1 1.2 0.1 1.3 0.1 1.2 0 1.3 0 1.2 0 1.3 0 1.2 0 1.3 0 1.2 0 1.3 0 1.2 0 1.3 0 1.2 0 1.3 0 1.2 0 1.3 0 1.2 0 1.3 0 1.2 0 1.3 0 1.2 0 1.3 0 1.2 0 1.3 0 1.2 0 1.3 0 1.2 0 1.3 0 1.2 0 1.3 0 1.2 0 1.3 -0.1 1.2 -0.1 1.3 -0.1 1.2 -0.3 1.3 -0.4 1.2 -0.7 1.3 -1.1 1.2 -1.6 1.3 -2.4 1.2 -3.1 1.3 -4 1.2 -4.9 1.3 -5.6 1.2 -6.1 1.3 -6.1 1.2 -5.7 1.3 -4.7 1.2 -3.2 1.3 -1.3 1.2 0.7 1.3 2.6 1.2 4.3 1.3 5.4 1.2 6 1.3 6.2 1.2 5.8 1.3 5.1 1.2 4.3 1.3 3.4 1.2 2.6 1.3 1.8 1.2 1.3 1.3 0.8 1.2 0.5 1.3 0.3 1.2 0.2 1.3 0.1 1.2 0 1.3 0.1 1.2 0 1.3 -0.1 1.2 0 1.3 -0.1 1.2 -0.2 1.3 -0.3 1.2 -0.6 1.3 -0.9 1.2 -1.3 1.3 -2.1 1.2 -2.9 1.3 -4.1 1.2 -5.4 1.3 -7 1.2 -8.6 1.3 -10.2 1.2 -11.4 1.3 -12.1 1.2 -12.3 1.3 -11.6 1.2 -10 1.3 -7.6 1.2 -4.5 1.3 -0.9 1.2 2.7 1.3 6 1.2 8.8 1.3 10.8 1.2 11.9 1.3 12.2 1.2 11.5 1.3 10.4 1.2 8.6 1.3 6.5 1.2 4.4 1.3 2.2 1.2 0.2 1.3 -1.7 1.2 -3.3 1.3 -4.4 1.2 -5.1 1.3 -5.2 1.2 -4.7 1.3 -3.6 1.2 -2.1 1.3 -0.3 1.2 1.5 1.3 3.3 1.2 4.6 1.3 5.4 1.2 5.8 1.3 5.7 1.2 5.2 1.3 4.5 1.2 3.6 1.3 2.8 1.2 2.1 1.3 1.5 1.2 0.9 1.3 0.6 1.2 0.4 1.3 0.2 1.2 0.2 1.3 0 1.2 0.1 1.3 0 1.2 0 1.3 -0.1 1.2 0 1.3 -0.1 1.2 -0.2 1.3 -0.3 1.2 -0.5 1.3 -0.9 1.2 -1.3 1.3 -2 1.2 -2.9 1.3 -4 1.2 -5.4 1.3 -7 1.2 -8.6 1.3 -10.1 1.2 -11.4 1.3 -12.2 1.2 -12.2 1.3 -11.4 1.2 -9.7 1.3 -7.2 1.2 -3.9 1.3 -0.4 1.2 3.2 1.3 6.6 1.2 9.3 1.3 11.1 1.2 12.1 1.3 12.3 1.2 11.6 1.3 10.4 1.2 8.9 1.3 7.3 1.2 5.7 1.3 4.3 1.2 3.1 1.3 2.2 1.2 1.4 1.3 0.9 1.2 0.6 1.3 0.4 1.2 0.2 1.3 0.1 1.2 0 1.3 0.1 1.2 0 1.3 0 1.2 0 1.3 0 1.2 0 1.3 0 1.2 0 1.3 0 1.2 0 1.3 0 1.2 0 1.3 0 1.2 0 1.3 0 1.2 0 1.3 0 1.2 0 1.3 0 1.2 0 1.3 0 1.2 0 1.3 0 1.2 0 1.3 0 1.2 0 1.3 0 1.2 0 1.3 0 1.2 0 1.3 0 1.2 0 1.3 0 1.2 0 1.3 0 1.2 0 1.3 0 1.2 0 1.3 0 1.2 0 1.3 0 1.2 0 1.3 0 1.2 0 1.3 0 1.2 0 1.3 0 1.2 0 1.3 0 1.2 0 1.3 0 1.2 0 1.3 0 1.2 0 1.3 0 1.2 0 1.3 0 1.2 0 1.3 0 1.2 0 1.3 0 1.2 0 1.3 0 1.2 0 1.3 0 1.2 0 1.3 0 1.2 0 1.3 0 1.2 0 1.3 0 1.2 0 1.3 0 1.2 0 1.3 0 1.2 0 1.3 0 1.2 0 1.3 0 1.2 0 1.3 0 1.2 0 1.3 0 1.2 0 1.3 0 1.2 0 1.3 0 1.2 0 1.3 0 1.2 0 1.3 0 1.2 0 1.3 0 1.2 0 1.3 0 1.2 0 1.3 0 1.2 0 1.3 0 1.2 0 0.8 1.2z" fill="#e0f6de" stroke="none" opacity="0.9"/>
<path d="M1461.8 814.5l0 -1.2 1.2 0 1.3 0 1.2 0 1.3 0 1.2 0 1.3 0 1.2 0 1.3 0 1.2 0 1.3 0 1.2 0 1.3 0 1.2 -0.1 1.3 0 1.2 -0.1 1.3 -0.3 1.2 -0.4 1.3 -0.6 1.2 -1.1 1.3 -1.6 1.2 -2.4 1.3 -3.4 1.2 -4.5 1.3 -5.7 1.2 -6.9 1.3 -7.8 1.2 -8.3 1.3 -8.2 1.2 -7.4 1.3 -5.8 1.2 -3.8 1.3 -1.1 1.2 1.6 1.3 4.1 1.2 6.1 1.3 7.6 1.2 8.3 1.3 8.2 1.2 7.7 1.3 6.7 1.2 5.5 1.3 4.3 1.2 3.2 1.3 2.3 1.2 1.5 1.3 1 1.2 0.6 1.3 0.4 1.2 0.2 1.3 0.1 1.2 0 1.3 0.1 1.2 -0.1 1.3 0 1.2 -0.1 1.3 -0.1 1.2 -0.3 1.3 -0.5 1.2 -0.7 1.3 -1.2 1.2 -1.7 1.3 -2.5 1.2 -3.4 1.3 -4.4 1.2 -5.3 1.3 -6.2 1.2 -6.8 1.3 -6.8 1.2 -6.3 1.3 -5.3 1.2 -3.7 1.3 -1.6 1.2 0.5 1.3 2.8 1.2 4.6 1.3 5.9 1.2 6.6 1.3 6.9 1.2 6.5 1.3 5.7 1.2 4.9 1.3 3.8 1.2 3 1.3 2 1.2 1.5 1.3 0.9 1.2 0.6 1.3 0.4 1.2 0.2 1.3 0.1 1.2 0 1.3 0.1 1.2 0 1.3 0 1.2 0 1.3 0 1.2 0 1.3 0 1.2 0 1.3 0 1.2 0 1.3 0 1.2 0 1.3 0 1.2 0 1.3 0 1.2 0 1.3 0 1.2 0 1.3 0 1.2 0 1.3 0 1.2 0 1.3 0 1.2 0 1.3 0 1.2 0 1.3 0 1.2 0 1.3 -0.1 1.2 0 1.3 -0.1 1.2 -0.2 1.3 -0.4 1.2 -0.5 1.3 -0.8 1.2 -1.3 1.3 -1.8 1.2 -2.5 1.3 -3.2 1.2 -3.9 1.3 -4.6 1.2 -4.9 1.3 -5.1 1.2 -4.8 1.3 -4 1.2 -2.9 1.3 -1.3 1.2 0.3 1.3 1.9 1.2 3.3 1.3 4.3 1.2 5 1.3 5.1 1.2 4.8 1.3 4.4 1.2 3.7 1.3 2.9 1.2 2.2 1.3 1.6 1.2 1.1 1.3 0.7 1.2 0.5 1.3 0.3 1.2 0.1 1.3 0.1 1.2 0.1 1.3 0 1.2 0 1.3 0 1.2 0 1.3 0 1.2 0 1.3 0 1.2 0 1.3 0 1.2 0 1.3 0 1.2 0 1.3 0 1.2 0 1.3 0 1.2 0 1.3 0 1.2 0 1.3 0 1.2 0 1.3 0 1.2 0 1.3 0 1.2 0 1.3 0 1.2 0 1.3 0 1.2 0 1.3 0 1.2 0 1.3 0 1.2 0 1.3 0 1.2 0 1.3 0 1.2 0 1.3 0 1.2 0 1.3 0 1.2 0 1.3 0 1.2 0 1.3 0 1.2 0 1.3 0 1.2 0 1.3 0 1.2 0 1.3 0 1.2 0 1.3 0 1.2 0 1.3 0 1.2 0 1.3 0 1.2 0 1.3 0 1.2 0 1.3 0 1.2 0 1.3 0 1.2 0 1.3 0 1.2 0 1.3 0 1.2 0 1.3 0 1.2 0 1.3 0 1.2 0 1.3 0 1.2 0 1.3 0 1.2 0 1.3 0 1.2 0 1.3 0 1.2 0 1.3 0 1.2 0 1.3 0 1.2 0 1.3 0 1.2 0 1.3 0 1.2 0 1.3 0 1.2 0 1.3 0 1.2 0 1.3 0 1.2 0 1.3 0 1.2 0 1.3 0 1.2 0 1.3 0 1.2 0 1.3 0 1.2 0 1.3 0 1.2 0 1.3 0 1.2 0 1.3 0 1.2 0 1.3 0 1.2 0 1.3 0 1.2 0 1.3 0 1.2 0 1.3 0 1.2 0 1.3 0 1.2 0 1.3 0 1.2 0 1.3 -0.1 1.2 -0.1 1.3 -0.2 1.2 -0.3 1.3 -0.7 1.2 -1.1 1.3 -1.7 1.2 -2.4 1.3 -3.2 1.2 -3.7 1.3 -4.2 1.2 -4 1.3 -3.3 1.2 -2 1.3 -0.5 1.2 1.3 1.3 2.7 1.2 3.7 1.3 4.1 1.2 4 1.3 3.6 1.2 2.8 1.3 2 1.2 1.4 1.3 0.9 1.2 0.5 1.3 0.2 1.2 0.2 1.3 0.1 1.2 0 1.3 0 1.2 0 1.3 0 1.2 0 1.3 0 1.2 0 1.3 0 1.2 0 1.3 0 1.2 0 1.3 0 1.2 0 1.3 0 1.2 0 1.3 0 1.2 0 1.3 0 1.2 0 1.3 0 1.2 0 1.3 0 1.2 0 1.3 0 1.2 0 1.3 0 1.2 0 1.3 0 1.2 0 1.3 0 1.2 0 1.3 0 1.2 0 1.3 0 1.2 0 1.3 0 1.2 0 1.3 0 1.2 0 1.3 0 1.2 0 1.3 0 1.2 0 1.3 0 1.2 0 1.3 0 1.2 0 1.3 0 1.2 0 1.3 0 1.2 0 1.3 0 1.2 0 1.3 0 1.2 0 1.3 -0.1 1.2 0 1.3 -0.1 1.2 -0.2 1.3 -0.3 1.2 -0.5 1.3 -0.8 1.2 -1.2 1.3 -1.8 1.2 -2.4 1.3 -3.2 1.2 -3.9 1.3 -4.7 1.2 -5.2 1.3 -5.4 1.2 -5.1 1.3 -4.5 1.2 -3.3 1.3 -1.8 1.2 -0.1 1.3 1.6 1.2 3.2 1.3 4.3 1.2 5.1 1.3 5.4 1.2 5.2 1.3 4.7 1.2 4.1 1.3 3.2 1.2 2.6 1.3 1.8 1.2 1.3 0.8 3.3z" fill="#dfe5f8" stroke="none" opacity="0.9"/>
<path d="M1461.8 814.5l0 -10.1 1.2 -4.3 1.3 -5.5 1.2 -6.9 1.3 -7.9 1.2 -8.8 1.3 -9 1.2 -8.5 1.3 -7.3 1.2 -5.2 1.3 -2.6 1.2 0.3 1.3 3.2 1.2 5.7 1.3 7.5 1.2 8.7 1.3 9 1.2 8.6 1.3 7.8 1.2 6.6 1.3 5.3 1.2 4 1.3 2.9 1.2 2 1.3 1.3 1.2 0.9 1.3 0.5 1.2 0.3 1.3 0.1 1.2 0.1 1.3 0.1 1.2 0 1.3 0 1.2 0 1.3 0 1.2 0 1.3 0 1.2 0 1.3 0 1.2 0 1.3 0 1.2 0 1.3 0 1.2 0 1.3 0 1.2 0 1.3 0 1.2 0 1.3 0 1.2 0 1.3 0 1.2 0 1.3 0 1.2 0 1.3 0 1.2 0 1.3 0 1.2 0 1.3 0 1.2 0 1.3 0 1.2 0 1.3 0 1.2 0 1.3 0 1.2 0 1.3 0 1.2 0 1.3 0 1.2 0 1.3 0 1.2 0 1.3 0 1.2 0 1.3 0 1.2 0 1.3 0 1.2 0 1.3 0 1.2 0 1.3 0 1.2 0 1.3 0 1.2 0 1.3 0 1.2 0 1.3 0 1.2 0 1.3 0 1.2 0 1.3 0 1.2 0 1.3 0 1.2 0 1.3 0 1.2 0 1.3 0 1.2 0 1.3 0 1.2 0 1.3 0 1.2 0 1.3 0 1.2 0 1.3 0 1.2 0 1.3 0 1.2 0 1.3 0 1.2 0 1.3 0 1.2 0 1.3 0 1.2 0 1.3 0 1.2 0 1.3 0 1.2 0 1.3 0 1.2 0 1.3 0 1.2 0 1.3 0 1.2 0 1.3 0 1.2 0 1.3 0 1.2 0 1.3 0 1.2 0 1.3 0 1.2 0 1.3 0 1.2 0 1.3 0 1.2 0 1.3 0 1.2 0 1.3 0 1.2 0 1.3 0 1.2 0 1.3 0 1.2 0 1.3 0 1.2 0 1.3 0 1.2 0 1.3 0 1.2 0 1.3 0 1.2 0 1.3 0 1.2 0 1.3 0 1.2 0 1.3 0 1.2 0 1.3 0 1.2 0 1.3 0 1.2 0 1.3 0 1.2 0 1.3 0 1.2 0 1.3 0 1.2 0 1.3 0 1.2 0 1.3 0 1.2 0 1.3 0 1.2 0 1.3 0 1.2 0 1.3 0 1.2 0 1.3 0 1.2 0 1.3 0 1.2 0 1.3 0 1.2 0 1.3 0 1.2 0 1.3 0 1.2 0 1.3 0 1.2 0 1.3 0 1.2 0 1.3 0 1.2 0 1.3 0 1.2 0 1.3 0 1.2 0 1.3 0 1.2 0 1.3 0 1.2 0 1.3 0 1.2 0 1.3 0 1.2 0 1.3 0 1.2 0 1.3 0 1.2 0 1.3 0 1.2 0 1.3 0 1.2 0 1.3 0 1.2 0 1.3 0 1.2 0 1.3 0 1.2 0 1.3 0 1.2 0 1.3 0 1.2 0 1.3 0 1.2 0 1.3 0 1.2 0 1.3 0 1.2 0 1.3 0 1.2 0 1.3 0 1.2 0 1.3 0 1.2 0 1.3 0 1.2 0 1.3 0 1.2 0 1.3 0 1.2 0 1.3 0 1.2 0 1.3 0 1.2 0 1.3 0 1.2 0 1.3 0 1.2 0 1.3 0 1.2 0 1.3 0 1.2 0 1.3 0 1.2 0 1.3 0 1.2 0 1.3 0 1.2 0 1.3 0 1.2 0 1.3 0 1.2 0 1.3 0 1.2 0 1.3 0 1.2 0 1.3 0 1.2 0 1.3 0 1.2 0 1.3 0 1.2 0 1.3 -0.1 1.2 0 1.3 -0.2 1.2 -0.3 1.3 -0.6 1.2 -0.9 1.3 -1.5 1.2 -2.1 1.3 -3.1 1.2 -3.9 1.3 -4.6 1.2 -5.2 1.3 -5.1 1.2 -4.6 1.3 -3.4 1.2 -1.7 1.3 0.3 1.2 2.2 1.3 3.8 1.2 4.8 1.3 5.2 1.2 5.1 1.3 4.4 1.2 3.7 1.3 2.7 1.2 2 1.3 1.3 1.2 0.8 1.3 0.5 1.2 0.2 1.3 0.2 1.2 0 1.3 0.1 1.2 0 1.3 0 1.2 0 1.3 0 1.2 0 1.3 0 1.2 0 1.3 0 1.2 0 1.3 0 1.2 0 1.3 0 1.2 0 1.3 0 1.2 0 1.3 0 1.2 0 1.3 0 1.2 0 1.3 0 1.2 0 1.3 0 1.2 0 1.3 0 1.2 0 1.3 0 1.2 0 1.3 0 1.2 0 1.3 0 1.2 0 1.3 0 1.2 0 1.3 0 1.2 0 1.3 0 1.2 0 1.3 0 1.2 0 1.3 0 1.2 0 1.3 0 1.2 0 1.3 0 1.2 0 1.3 0 1.2 0 1.3 0 1.2 0 1.3 0 1.2 0 1.3 0 1.2 0 1.3 0 1.2 0 1.3 0 1.2 0 1.3 0 1.2 0 1.3 0 1.2 0 1.3 0 1.2 0 1.3 0 1.2 0 1.3 0 1.2 0 1.3 0 1.2 0 1.3 0 1.2 0 1.3 0 1.2 0 1.3 0 1.2 0 1.3 0 1.2 0 1.3 0 1.2 0 1.3 0 1.2 0 1.3 0 1.2 0 1.3 0 1.2 0 0.8 1.2z" fill="#f9dcda" stroke="none" opacity="0.9"/>
<path d="M1461.8 814.5l0 -1.2 1.2 0 1.3 0 1.2 0 1.3 0 1.2 0 1.3 0 1.2 0 1.3 0 1.2 0 1.3 0 1.2 0 1.3 0 1.2 0 1.3 0 1.2 0 1.3 0 1.2 0 1.3 0 1.2 0 1.3 0 1.2 0 1.3 0 1.2 0 1.3 0 1.2 0 1.3 0 1.2 0 1.3 0 1.2 0 1.3 0 1.2 0 1.3 0 1.2 0 1.3 0 1.2 0 1.3 0 1.2 0 1.3 0 1.2 0 1.3 0 1.2 0 1.3 0 1.2 0 1.3 0 1.2 0 1.3 0 1.2 0 1.3 0 1.2 0 1.3 0 1.2 0 1.3 0 1.2 0 1.3 0 1.2 0 1.3 0 1.2 0 1.3 0 1.2 0 1.3 0 1.2 0 1.3 0 1.2 0 1.3 0 1.2 0 1.3 0 1.2 0 1.3 0 1.2 0 1.3 0 1.2 0 1.3 0 1.2 0 1.3 0 1.2 0 1.3 0 1.2 0 1.3 0 1.2 0 1.3 0 1.2 0 1.3 0 1.2 0 1.3 0 1.2 0 1.3 0 1.2 0 1.3 0 1.2 0 1.3 0 1.2 0 1.3 0 1.2 0 1.3 0 1.2 0 1.3 0 1.2 -0.1 1.3 0 1.2 -0.2 1.3 -0.2 1.2 -0.4 1.3 -0.6 1.2 -0.9 1.3 -1.3 1.2 -1.8 1.3 -2.4 1.2 -3.1 1.3 -3.7 1.2 -4.1 1.3 -4.4 1.2 -4.3 1.3 -3.8 1.2 -2.9 1.3 -1.8 1.2 -0.5 1.3 1 1.2 2.3 1.3 3.4 1.2 4 1.3 4.4 1.2 4.3 1.3 3.9 1.2 3.5 1.3 2.8 1.2 2.2 1.3 1.6 1.2 1.2 1.3 0.7 1.2 0.5 1.3 0.3 1.2 0.2 1.3 0.1 1.2 0 1.3 0.1 1.2 0 1.3 0 1.2 0 1.3 0 1.2 0 1.3 0 1.2 0 1.3 0 1.2 0 1.3 0 1.2 0 1.3 0 1.2 0 1.3 0 1.2 0 1.3 0 1.2 0 1.3 0 1.2 0 1.3 0 1.2 0 1.3 0 1.2 0 1.3 0 1.2 0 1.3 0 1.2 0 1.3 0 1.2 0 1.3 -0.1 1.2 0 1.3 -0.2 1.2 -0.2 1.3 -0.3 1.2 -0.6 1.3 -0.8 1.2 -1.2 1.3 -1.6 1.2 -2.1 1.3 -2.5 1.2 -3 1.3 -3.3 1.2 -3.4 1.3 -3.1 1.2 -2.7 1.3 -1.9 1.2 -0.9 1.3 0.1 1.2 1.2 1.3 2.2 1.2 2.8 1.3 3.3 1.2 3.3 1.3 3.2 1.2 2.9 1.3 2.5 1.2 1.9 1.3 1.5 1.2 1.1 1.3 0.7 1.2 0.5 1.3 0.3 1.2 0.2 1.3 0.1 1.2 0 1.3 0.1 1.2 0 1.3 0 1.2 0 1.3 0 1.2 0 1.3 0 1.2 0 1.3 0 1.2 0 1.3 0 1.2 0 1.3 0 1.2 0 1.3 0 1.2 0 1.3 0 1.2 0 1.3 0 1.2 0 1.3 0 1.2 0 1.3 0 1.2 0 1.3 0 1.2 0 1.3 0 1.2 0 1.3 0 1.2 -0.1 1.3 -0.1 1.2 -0.1 1.3 -0.3 1.2 -0.5 1.3 -0.7 1.2 -1.2 1.3 -1.6 1.2 -2.2 1.3 -3 1.2 -3.7 1.3 -4.3 1.2 -4.9 1.3 -5.1 1.2 -4.9 1.3 -4.4 1.2 -3.2 1.3 -1.9 1.2 -0.2 1.3 1.4 1.2 2.9 1.3 4.1 1.2 4.8 1.3 5.1 1.2 4.9 1.3 4.6 1.2 3.9 1.3 3.1 1.2 2.5 1.3 1.7 1.2 1.3 1.3 0.8 1.2 0.6 1.3 0.3 1.2 0.2 1.3 0.1 1.2 0 1.3 0.1 1.2 0 1.3 0 1.2 0 1.3 0 1.2 0 1.3 0 1.2 0 1.3 0 1.2 0 1.3 0 1.2 0 1.3 0 1.2 0 1.3 0 1.2 0 1.3 0 1.2 0 1.3 0 1.2 0 1.3 0 1.2 0 1.3 0 1.2 0 1.3 0 1.2 -0.1 1.3 0 1.2 -0.1 1.3 -0.2 1.2 -0.3 1.3 -0.5 1.2 -0.7 1.3 -1.2 1.2 -1.7 1.3 -2.3 1.2 -3.2 1.3 -4.1 1.2 -5.1 1.3 -6 1.2 -6.8 1.3 -7.1 1.2 -7.2 1.3 -6.6 1.2 -5.6 1.3 -4 1.2 -2 1.3 0.1 1.2 2.3 1.3 4.1 1.2 5.7 1.3 6.5 1.2 7 1.3 6.7 1.2 5.9 1.3 4.9 1.2 3.4 1.3 1.7 1.2 0 1.3 -1.8 1.2 -3.4 1.3 -5.1 1.2 -6.3 1.3 -7.2 1.2 -7.5 1.3 -7.3 1.2 -6.5 1.3 -5 1.2 -3.1 1.3 -0.8 1.2 1.6 1.3 3.7 1.2 5.6 1.3 6.8 1.2 7.6 1.3 7.6 1.2 7.2 1.3 6.2 1.2 5 1.3 3.5 1.2 2.1 1.3 0.5 1.2 -1 1.3 -2.3 1.2 -3.5 1.3 -4.5 1.2 -5 1.3 -5.3 1.2 -5 1.3 -4.4 1.2 -3.2 1.3 -1.9 1.2 -0.2 1.3 1.4 1.2 2.9 1.3 4.2 1.2 5 1.3 5.4 1.2 5.5 1.3 5.2 1.2 4.6 1.3 3.9 1.2 3.2 1.3 2.5 1.2 1.9 1.3 1.3 1.2 0.9 1.3 0.6 1.2 0.4 1.3 0.2 1.2 0.1 1.3 0.1 1.2 0.1 1.3 0 1.2 0 1.3 0 1.2 0 1.3 0 1.2 0 1.3 0 1.2 0 1.3 0 1.2 0 1.3 0 1.2 -0.1 1.3 -0.4 1.2 -1.3 0.8 3z" fill="#d9d9d9" stroke="none" opacity="0.9"/>
<path d="M1461.8 813.3l1.2 0 1.3 0 1.2 0 1.3 0 1.2 0 1.3 0 1.2 0 1.3 0 1.2 0 1.3 0 1.2 0 1.3 0 1.2 0 1.3 0 1.2 0 1.3 0 1.2 0 1.3 0 1.2 0 1.3 0 1.2 0 1.3 0 1.2 0 1.3 0 1.2 0 1.3 0 1.2 0 1.3 0 1.2 0 1.3 0 1.2 0 1.3 0 1.2 0 1.3 -0.1 1.2 0 1.3 -0.1 1.2 -0.3 1.3 -0.3 1.2 -0.7 1.3 -0.9 1.2 -1.5 1.3 -2.1 1.2 -3 1.3 -3.8 1.2 -4.8 1.3 -5.6 1.2 -6.3 1.3 -6.5 1.2 -6.2 1.3 -5.4 1.2 -4.1 1.3 -2.2 1.2 -0.1 1.3 2 1.2 3.8 1.3 5.3 1.2 6.1 1.3 6.5 1.2 6.3 1.3 5.8 1.2 4.9 1.3 3.9 1.2 3.1 1.3 2.2 1.2 1.5 1.3 1.1 1.2 0.6 1.3 0.4 1.2 0.2 1.3 0.2 1.2 0 1.3 0.1 1.2 0 1.3 -0.1 1.2 0 1.3 -0.1 1.2 -0.2 1.3 -0.3 1.2 -0.5 1.3 -0.9 1.2 -1.3 1.3 -1.9 1.2 -2.6 1.3 -3.6 1.2 -4.5 1.3 -5.3 1.2 -6.1 1.3 -6.5 1.2 -6.4 1.3 -5.7 1.2 -4.6 1.3 -2.8 1.2 -0.8 1.3 1.3 1.2 3.3 1.3 4.9 1.2 5.9 1.3 6.4 1.2 6.5 1.3 5.9 1.2 5.2 1.3 4.3 1.2 3.3 1.3 2.4 1.2 1.8 1.3 1.2 1.2 0.7 1.3 0.5 1.2 0.3 1.3 0.1 1.2 0.1 1.3 0.1 1.2 0 1.3 0 1.2 0 1.3 0 1.2 0 1.3 0 1.2 0 1.3 0 1.2 0 1.3 0 1.2 0 1.3 0 1.2 0 1.3 0 1.2 0 1.3 0 1.2 0 1.3 0 1.2 0 1.3 0 1.2 0 1.3 0 1.2 0 1.3 0 1.2 0 1.3 0 1.2 0 1.3 0 1.2 0 1.3 -0.1 1.2 -0.1 1.3 -0.1 1.2 -0.3 1.3 -0.4 1.2 -0.7 1.3 -1.1 1.2 -1.6 1.3 -2.4 1.2 -3.1 1.3 -4 1.2 -4.9 1.3 -5.6 1.2 -6.1 1.3 -6.1 1.2 -5.7 1.3 -4.7 1.2 -3.2 1.3 -1.3 1.2 0.7 1.3 2.6 1.2 4.3 1.3 5.4 1.2 6 1.3 6.2 1.2 5.8 1.3 5.1 1.2 4.3 1.3 3.4 1.2 2.6 1.3 1.8 1.2 1.3 1.3 0.8 1.2 0.5 1.3 0.3 1.2 0.2 1.3 0.1 1.2 0 1.3 0.1 1.2 0 1.3 -0.1 1.2 0 1.3 -0.1 1.2 -0.2 1.3 -0.3 1.2 -0.6 1.3 -0.9 1.2 -1.3 1.3 -2.1 1.2 -2.9 1.3 -4.1 1.2 -5.4 1.3 -7 1.2 -8.6 1.3 -10.2 1.2 -11.4 1.3 -12.1 1.2 -12.3 1.3 -11.6 1.2 -10 1.3 -7.6 1.2 -4.5 1.3 -0.9 1.2 2.7 1.3 6 1.2 8.8 1.3 10.8 1.2 11.9 1.3 12.2 1.2 11.5 1.3 10.4 1.2 8.6 1.3 6.5 1.2 4.4 1.3 2.2 1.2 0.2 1.3 -1.7 1.2 -3.3 1.3 -4.4 1.2 -5.1 1.3 -5.2 1.2 -4.7 1.3 -3.6 1.2 -2.1 1.3 -0.3 1.2 1.5 1.3 3.3 1.2 4.6 1.3 5.4 1.2 5.8 1.3 5.7 1.2 5.2 1.3 4.5 1.2 3.6 1.3 2.8 1.2 2.1 1.3 1.5 1.2 0.9 1.3 0.6 1.2 0.4 1.3 0.2 1.2 0.2 1.3 0 1.2 0.1 1.3 0 1.2 0 1.3 -0.1 1.2 0 1.3 -0.1 1.2 -0.2 1.3 -0.3 1.2 -0.5 1.3 -0.9 1.2 -1.3 1.3 -2 1.2 -2.9 1.3 -4 1.2 -5.4 1.3 -7 1.2 -8.6 1.3 -10.1 1.2 -11.4 1.3 -12.2 1.2 -12.2 1.3 -11.4 1.2 -9.7 1.3 -7.2 1.2 -3.9 1.3 -0.4 1.2 3.2 1.3 6.6 1.2 9.3 1.3 11.1 1.2 12.1 1.3 12.3 1.2 11.6 1.3 10.4 1.2 8.9 1.3 7.3 1.2 5.7 1.3 4.3 1.2 3.1 1.3 2.2 1.2 1.4 1.3 0.9 1.2 0.6 1.3 0.4 1.2 0.2 1.3 0.1 1.2 0 1.3 0.1 1.2 0 1.3 0 1.2 0 1.3 0 1.2 0 1.3 0 1.2 0 1.3 0 1.2 0 1.3 0 1.2 0 1.3 0 1.2 0 1.3 0 1.2 0 1.3 0 1.2 0 1.3 0 1.2 0 1.3 0 1.2 0 1.3 0 1.2 0 1.3 0 1.2 0 1.3 0 1.2 0 1.3 0 1.2 0 1.3 0 1.2 0 1.3 0 1.2 0 1.3 0 1.2 0 1.3 0 1.2 0 1.3 0 1.2 0 1.3 0 1.2 0 1.3 0 1.2 0 1.3 0 1.2 0 1.3 0 1.2 0 1.3 0 1.2 0 1.3 0 1.2 0 1.3 0 1.2 0 1.3 0 1.2 0 1.3 0 1.2 0 1.3 0 1.2 0 1.3 0 1.2 0 1.3 0 1.2 0 1.3 0 1.2 0 1.3 0 1.2 0 1.3 0 1.2 0 1.3 0 1.2 0 1.3 0 1.2 0 1.3 0 1.2 0 1.3 0 1.2 0 1.3 0 1.2 0 1.3 0 1.2 0 1.3 0 1.2 0 1.3 0 1.2 0 1.3 0 1.2 0 1.3 0 1.2 0 1.3 0 1.2 0 1.3 0 1.2 0 1.3 0 1.2 0 1.3 0 1.2 0 1.3 0 1.2 0" fill="none" stroke="#35c435" stroke-width="2.5" stroke-linejoin="round"/>
<path d="M1461.8 813.3l1.2 0 1.3 0 1.2 0 1.3 0 1.2 0 1.3 0 1.2 0 1.3 0 1.2 0 1.3 0 1.2 0 1.3 0 1.2 -0.1 1.3 0 1.2 -0.1 1.3 -0.3 1.2 -0.4 1.3 -0.6 1.2 -1.1 1.3 -1.6 1.2 -2.4 1.3 -3.4 1.2 -4.5 1.3 -5.7 1.2 -6.9 1.3 -7.8 1.2 -8.3 1.3 -8.2 1.2 -7.4 1.3 -5.8 1.2 -3.8 1.3 -1.1 1.2 1.6 1.3 4.1 1.2 6.1 1.3 7.6 1.2 8.3 1.3 8.2 1.2 7.7 1.3 6.7 1.2 5.5 1.3 4.3 1.2 3.2 1.3 2.3 1.2 1.5 1.3 1 1.2 0.6 1.3 0.4 1.2 0.2 1.3 0.1 1.2 0 1.3 0.1 1.2 -0.1 1.3 0 1.2 -0.1 1.3 -0.1 1.2 -0.3 1.3 -0.5 1.2 -0.7 1.3 -1.2 1.2 -1.7 1.3 -2.5 1.2 -3.4 1.3 -4.4 1.2 -5.3 1.3 -6.2 1.2 -6.8 1.3 -6.8 1.2 -6.3 1.3 -5.3 1.2 -3.7 1.3 -1.6 1.2 0.5 1.3 2.8 1.2 4.6 1.3 5.9 1.2 6.6 1.3 6.9 1.2 6.5 1.3 5.7 1.2 4.9 1.3 3.8 1.2 3 1.3 2 1.2 1.5 1.3 0.9 1.2 0.6 1.3 0.4 1.2 0.2 1.3 0.1 1.2 0 1.3 0.1 1.2 0 1.3 0 1.2 0 1.3 0 1.2 0 1.3 0 1.2 0 1.3 0 1.2 0 1.3 0 1.2 0 1.3 0 1.2 0 1.3 0 1.2 0 1.3 0 1.2 0 1.3 0 1.2 0 1.3 0 1.2 0 1.3 0 1.2 0 1.3 0 1.2 0 1.3 0 1.2 0 1.3 -0.1 1.2 0 1.3 -0.1 1.2 -0.2 1.3 -0.4 1.2 -0.5 1.3 -0.8 1.2 -1.3 1.3 -1.8 1.2 -2.5 1.3 -3.2 1.2 -3.9 1.3 -4.6 1.2 -4.9 1.3 -5.1 1.2 -4.8 1.3 -4 1.2 -2.9 1.3 -1.3 1.2 0.3 1.3 1.9 1.2 3.3 1.3 4.3 1.2 5 1.3 5.1 1.2 4.8 1.3 4.4 1.2 3.7 1.3 2.9 1.2 2.2 1.3 1.6 1.2 1.1 1.3 0.7 1.2 0.5 1.3 0.3 1.2 0.1 1.3 0.1 1.2 0.1 1.3 0 1.2 0 1.3 0 1.2 0 1.3 0 1.2 0 1.3 0 1.2 0 1.3 0 1.2 0 1.3 0 1.2 0 1.3 0 1.2 0 1.3 0 1.2 0 1.3 0 1.2 0 1.3 0 1.2 0 1.3 0 1.2 0 1.3 0 1.2 0 1.3 0 1.2 0 1.3 0 1.2 0 1.3 0 1.2 0 1.3 0 1.2 0 1.3 0 1.2 0 1.3 0 1.2 0 1.3 0 1.2 0 1.3 0 1.2 0 1.3 0 1.2 0 1.3 0 1.2 0 1.3 0 1.2 0 1.3 0 1.2 0 1.3 0 1.2 0 1.3 0 1.2 0 1.3 0 1.2 0 1.3 0 1.2 0 1.3 0 1.2 0 1.3 0 1.2 0 1.3 0 1.2 0 1.3 0 1.2 0 1.3 0 1.2 0 1.3 0 1.2 0 1.3 0 1.2 0 1.3 0 1.2 0 1.3 0 1.2 0 1.3 0 1.2 0 1.3 0 1.2 0 1.3 0 1.2 0 1.3 0 1.2 0 1.3 0 1.2 0 1.3 0 1.2 0 1.3 0 1.2 0 1.3 0 1.2 0 1.3 0 1.2 0 1.3 0 1.2 0 1.3 0 1.2 0 1.3 0 1.2 0 1.3 0 1.2 0 1.3 0 1.2 0 1.3 0 1.2 0 1.3 0 1.2 0 1.3 0 1.2 0 1.3 0 1.2 0 1.3 0 1.2 0 1.3 0 1.2 0 1.3 0 1.2 0 1.3 0 1.2 0 1.3 -0.1 1.2 -0.1 1.3 -0.2 1.2 -0.3 1.3 -0.7 1.2 -1.1 1.3 -1.7 1.2 -2.4 1.3 -3.2 1.2 -3.7 1.3 -4.2 1.2 -4 1.3 -3.3 1.2 -2 1.3 -0.5 1.2 1.3 1.3 2.7 1.2 3.7 1.3 4.1 1.2 4 1.3 3.6 1.2 2.8 1.3 2 1.2 1.4 1.3 0.9 1.2 0.5 1.3 0.2 1.2 0.2 1.3 0.1 1.2 0 1.3 0 1.2 0 1.3 0 1.2 0 1.3 0 1.2 0 1.3 0 1.2 0 1.3 0 1.2 0 1.3 0 1.2 0 1.3 0 1.2 0 1.3 0 1.2 0 1.3 0 1.2 0 1.3 0 1.2 0 1.3 0 1.2 0 1.3 0 1.2 0 1.3 0 1.2 0 1.3 0 1.2 0 1.3 0 1.2 0 1.3 0 1.2 0 1.3 0 1.2 0 1.3 0 1.2 0 1.3 0 1.2 0 1.3 0 1.2 0 1.3 0 1.2 0 1.3 0 1.2 0 1.3 0 1.2 0 1.3 0 1.2 0 1.3 0 1.2 0 1.3 0 1.2 0 1.3 0 1.2 0 1.3 -0.1 1.2 0 1.3 -0.1 1.2 -0.2 1.3 -0.3 1.2 -0.5 1.3 -0.8 1.2 -1.2 1.3 -1.8 1.2 -2.4 1.3 -3.2 1.2 -3.9 1.3 -4.7 1.2 -5.2 1.3 -5.4 1.2 -5.1 1.3 -4.5 1.2 -3.3 1.3 -1.8 1.2 -0.1 1.3 1.6 1.2 3.2 1.3 4.3 1.2 5.1 1.3 5.4 1.2 5.2 1.3 4.7 1.2 4.1 1.3 3.2 1.2 2.6 1.3 1.8 1.2 1.3" fill="none" stroke="#4a6fd8" stroke-width="2.5" stroke-linejoin="round"/>
<path d="M1461.8 804.4l1.2 -4.3 1.3 -5.5 1.2 -6.9 1.3 -7.9 1.2 -8.8 1.3 -9 1.2 -8.5 1.3 -7.3 1.2 -5.2 1.3 -2.6 1.2 0.3 1.3 3.2 1.2 5.7 1.3 7.5 1.2 8.7 1.3 9 1.2 8.6 1.3 7.8 1.2 6.6 1.3 5.3 1.2 4 1.3 2.9 1.2 2 1.3 1.3 1.2 0.9 1.3 0.5 1.2 0.3 1.3 0.1 1.2 0.1 1.3 0.1 1.2 0 1.3 0 1.2 0 1.3 0 1.2 0 1.3 0 1.2 0 1.3 0 1.2 0 1.3 0 1.2 0 1.3 0 1.2 0 1.3 0 1.2 0 1.3 0 1.2 0 1.3 0 1.2 0 1.3 0 1.2 0 1.3 0 1.2 0 1.3 0 1.2 0 1.3 0 1.2 0 1.3 0 1.2 0 1.3 0 1.2 0 1.3 0 1.2 0 1.3 0 1.2 0 1.3 0 1.2 0 1.3 0 1.2 0 1.3 0 1.2 0 1.3 0 1.2 0 1.3 0 1.2 0 1.3 0 1.2 0 1.3 0 1.2 0 1.3 0 1.2 0 1.3 0 1.2 0 1.3 0 1.2 0 1.3 0 1.2 0 1.3 0 1.2 0 1.3 0 1.2 0 1.3 0 1.2 0 1.3 0 1.2 0 1.3 0 1.2 0 1.3 0 1.2 0 1.3 0 1.2 0 1.3 0 1.2 0 1.3 0 1.2 0 1.3 0 1.2 0 1.3 0 1.2 0 1.3 0 1.2 0 1.3 0 1.2 0 1.3 0 1.2 0 1.3 0 1.2 0 1.3 0 1.2 0 1.3 0 1.2 0 1.3 0 1.2 0 1.3 0 1.2 0 1.3 0 1.2 0 1.3 0 1.2 0 1.3 0 1.2 0 1.3 0 1.2 0 1.3 0 1.2 0 1.3 0 1.2 0 1.3 0 1.2 0 1.3 0 1.2 0 1.3 0 1.2 0 1.3 0 1.2 0 1.3 0 1.2 0 1.3 0 1.2 0 1.3 0 1.2 0 1.3 0 1.2 0 1.3 0 1.2 0 1.3 0 1.2 0 1.3 0 1.2 0 1.3 0 1.2 0 1.3 0 1.2 0 1.3 0 1.2 0 1.3 0 1.2 0 1.3 0 1.2 0 1.3 0 1.2 0 1.3 0 1.2 0 1.3 0 1.2 0 1.3 0 1.2 0 1.3 0 1.2 0 1.3 0 1.2 0 1.3 0 1.2 0 1.3 0 1.2 0 1.3 0 1.2 0 1.3 0 1.2 0 1.3 0 1.2 0 1.3 0 1.2 0 1.3 0 1.2 0 1.3 0 1.2 0 1.3 0 1.2 0 1.3 0 1.2 0 1.3 0 1.2 0 1.3 0 1.2 0 1.3 0 1.2 0 1.3 0 1.2 0 1.3 0 1.2 0 1.3 0 1.2 0 1.3 0 1.2 0 1.3 0 1.2 0 1.3 0 1.2 0 1.3 0 1.2 0 1.3 0 1.2 0 1.3 0 1.2 0 1.3 0 1.2 0 1.3 0 1.2 0 1.3 0 1.2 0 1.3 0 1.2 0 1.3 0 1.2 0 1.3 0 1.2 0 1.3 0 1.2 0 1.3 0 1.2 0 1.3 0 1.2 0 1.3 0 1.2 0 1.3 0 1.2 0 1.3 0 1.2 0 1.3 0 1.2 0 1.3 0 1.2 0 1.3 0 1.2 0 1.3 0 1.2 0 1.3 0 1.2 0 1.3 0 1.2 0 1.3 0 1.2 0 1.3 0 1.2 0 1.3 0 1.2 0 1.3 0 1.2 0 1.3 0 1.2 0 1.3 0 1.2 0 1.3 -0.1 1.2 0 1.3 -0.2 1.2 -0.3 1.3 -0.6 1.2 -0.9 1.3 -1.5 1.2 -2.1 1.3 -3.1 1.2 -3.9 1.3 -4.6 1.2 -5.2 1.3 -5.1 1.2 -4.6 1.3 -3.4 1.2 -1.7 1.3 0.3 1.2 2.2 1.3 3.8 1.2 4.8 1.3 5.2 1.2 5.1 1.3 4.4 1.2 3.7 1.3 2.7 1.2 2 1.3 1.3 1.2 0.8 1.3 0.5 1.2 0.2 1.3 0.2 1.2 0 1.3 0.1 1.2 0 1.3 0 1.2 0 1.3 0 1.2 0 1.3 0 1.2 0 1.3 0 1.2 0 1.3 0 1.2 0 1.3 0 1.2 0 1.3 0 1.2 0 1.3 0 1.2 0 1.3 0 1.2 0 1.3 0 1.2 0 1.3 0 1.2 0 1.3 0 1.2 0 1.3 0 1.2 0 1.3 0 1.2 0 1.3 0 1.2 0 1.3 0 1.2 0 1.3 0 1.2 0 1.3 0 1.2 0 1.3 0 1.2 0 1.3 0 1.2 0 1.3 0 1.2 0 1.3 0 1.2 0 1.3 0 1.2 0 1.3 0 1.2 0 1.3 0 1.2 0 1.3 0 1.2 0 1.3 0 1.2 0 1.3 0 1.2 0 1.3 0 1.2 0 1.3 0 1.2 0 1.3 0 1.2 0 1.3 0 1.2 0 1.3 0 1.2 0 1.3 0 1.2 0 1.3 0 1.2 0 1.3 0 1.2 0 1.3 0 1.2 0 1.3 0 1.2 0 1.3 0 1.2 0 1.3 0 1.2 0 1.3 0 1.2 0 1.3 0 1.2 0" fill="none" stroke="#e8453c" stroke-width="2.5" stroke-linejoin="round"/>
<path d="M1461.8 813.3l1.2 0 1.3 0 1.2 0 1.3 0 1.2 0 1.3 0 1.2 0 1.3 0 1.2 0 1.3 0 1.2 0 1.3 0 1.2 0 1.3 0 1.2 0 1.3 0 1.2 0 1.3 0 1.2 0 1.3 0 1.2 0 1.3 0 1.2 0 1.3 0 1.2 0 1.3 0 1.2 0 1.3 0 1.2 0 1.3 0 1.2 0 1.3 0 1.2 0 1.3 0 1.2 0 1.3 0 1.2 0 1.3 0 1.2 0 1.3 0 1.2 0 1.3 0 1.2 0 1.3 0 1.2 0 1.3 0 1.2 0 1.3 0 1.2 0 1.3 0 1.2 0 1.3 0 1.2 0 1.3 0 1.2 0 1.3 0 1.2 0 1.3 0 1.2 0 1.3 0 1.2 0 1.3 0 1.2 0 1.3 0 1.2 0 1.3 0 1.2 0 1.3 0 1.2 0 1.3 0 1.2 0 1.3 0 1.2 0 1.3 0 1.2 0 1.3 0 1.2 0 1.3 0 1.2 0 1.3 0 1.2 0 1.3 0 1.2 0 1.3 0 1.2 0 1.3 0 1.2 0 1.3 0 1.2 0 1.3 0 1.2 0 1.3 0 1.2 0 1.3 0 1.2 0 1.3 0 1.2 -0.1 1.3 0 1.2 -0.2 1.3 -0.2 1.2 -0.4 1.3 -0.6 1.2 -0.9 1.3 -1.3 1.2 -1.8 1.3 -2.4 1.2 -3.1 1.3 -3.7 1.2 -4.1 1.3 -4.4 1.2 -4.3 1.3 -3.8 1.2 -2.9 1.3 -1.8 1.2 -0.5 1.3 1 1.2 2.3 1.3 3.4 1.2 4 1.3 4.4 1.2 4.3 1.3 3.9 1.2 3.5 1.3 2.8 1.2 2.2 1.3 1.6 1.2 1.2 1.3 0.7 1.2 0.5 1.3 0.3 1.2 0.2 1.3 0.1 1.2 0 1.3 0.1 1.2 0 1.3 0 1.2 0 1.3 0 1.2 0 1.3 0 1.2 0 1.3 0 1.2 0 1.3 0 1.2 0 1.3 0 1.2 0 1.3 0 1.2 0 1.3 0 1.2 0 1.3 0 1.2 0 1.3 0 1.2 0 1.3 0 1.2 0 1.3 0 1.2 0 1.3 0 1.2 0 1.3 0 1.2 0 1.3 -0.1 1.2 0 1.3 -0.2 1.2 -0.2 1.3 -0.3 1.2 -0.6 1.3 -0.8 1.2 -1.2 1.3 -1.6 1.2 -2.1 1.3 -2.5 1.2 -3 1.3 -3.3 1.2 -3.4 1.3 -3.1 1.2 -2.7 1.3 -1.9 1.2 -0.9 1.3 0.1 1.2 1.2 1.3 2.2 1.2 2.8 1.3 3.3 1.2 3.3 1.3 3.2 1.2 2.9 1.3 2.5 1.2 1.9 1.3 1.5 1.2 1.1 1.3 0.7 1.2 0.5 1.3 0.3 1.2 0.2 1.3 0.1 1.2 0 1.3 0.1 1.2 0 1.3 0 1.2 0 1.3 0 1.2 0 1.3 0 1.2 0 1.3 0 1.2 0 1.3 0 1.2 0 1.3 0 1.2 0 1.3 0 1.2 0 1.3 0 1.2 0 1.3 0 1.2 0 1.3 0 1.2 0 1.3 0 1.2 0 1.3 0 1.2 0 1.3 0 1.2 0 1.3 0 1.2 -0.1 1.3 -0.1 1.2 -0.1 1.3 -0.3 1.2 -0.5 1.3 -0.7 1.2 -1.2 1.3 -1.6 1.2 -2.2 1.3 -3 1.2 -3.7 1.3 -4.3 1.2 -4.9 1.3 -5.1 1.2 -4.9 1.3 -4.4 1.2 -3.2 1.3 -1.9 1.2 -0.2 1.3 1.4 1.2 2.9 1.3 4.1 1.2 4.8 1.3 5.1 1.2 4.9 1.3 4.6 1.2 3.9 1.3 3.1 1.2 2.5 1.3 1.7 1.2 1.3 1.3 0.8 1.2 0.6 1.3 0.3 1.2 0.2 1.3 0.1 1.2 0 1.3 0.1 1.2 0 1.3 0 1.2 0 1.3 0 1.2 0 1.3 0 1.2 0 1.3 0 1.2 0 1.3 0 1.2 0 1.3 0 1.2 0 1.3 0 1.2 0 1.3 0 1.2 0 1.3 0 1.2 0 1.3 0 1.2 0 1.3 0 1.2 0 1.3 0 1.2 -0.1 1.3 0 1.2 -0.1 1.3 -0.2 1.2 -0.3 1.3 -0.5 1.2 -0.7 1.3 -1.2 1.2 -1.7 1.3 -2.3 1.2 -3.2 1.3 -4.1 1.2 -5.1 1.3 -6 1.2 -6.8 1.3 -7.1 1.2 -7.2 1.3 -6.6 1.2 -5.6 1.3 -4 1.2 -2 1.3 0.1 1.2 2.3 1.3 4.1 1.2 5.7 1.3 6.5 1.2 7 1.3 6.7 1.2 5.9 1.3 4.9 1.2 3.4 1.3 1.7 1.2 0 1.3 -1.8 1.2 -3.4 1.3 -5.1 1.2 -6.3 1.3 -7.2 1.2 -7.5 1.3 -7.3 1.2 -6.5 1.3 -5 1.2 -3.1 1.3 -0.8 1.2 1.6 1.3 3.7 1.2 5.6 1.3 6.8 1.2 7.6 1.3 7.6 1.2 7.2 1.3 6.2 1.2 5 1.3 3.5 1.2 2.1 1.3 0.5 1.2 -1 1.3 -2.3 1.2 -3.5 1.3 -4.5 1.2 -5 1.3 -5.3 1.2 -5 1.3 -4.4 1.2 -3.2 1.3 -1.9 1.2 -0.2 1.3 1.4 1.2 2.9 1.3 4.2 1.2 5 1.3 5.4 1.2 5.5 1.3 5.2 1.2 4.6 1.3 3.9 1.2 3.2 1.3 2.5 1.2 1.9 1.3 1.3 1.2 0.9 1.3 0.6 1.2 0.4 1.3 0.2 1.2 0.1 1.3 0.1 1.2 0.1 1.3 0 1.2 0 1.3 0 1.2 0 1.3 0 1.2 0 1.3 0 1.2 0 1.3 0 1.2 0 1.3 0 1.2 -0.1 1.3 -0.4 1.2 -1.3" fill="none" stroke="#262626" stroke-width="2.5" stroke-linejoin="round"/>
<path d="M1458 1071l0 -1.2 1.2 0 1.3 0 1.3 0 1.2 0 1.2 0 1.3 0 1.3 0 1.2 0 1.2 0 1.3 0 1.3 0 1.2 0 1.2 0 1.3 0 1.3 0 1.2 0 1.2 0 1.3 0 1.3 0 1.2 0 1.2 0 1.3 0 1.3 0 1.2 0 1.2 0 1.3 0 1.3 0 1.2 0 1.2 0 1.3 0 1.3 0 1.2 0 1.2 0 1.3 -0.1 1.3 -0.1 1.2 -0.1 1.2 -0.3 1.3 -0.4 1.3 -0.7 1.2 -1.1 1.2 -1.7 1.3 -2.4 1.3 -3.3 1.2 -4.2 1.2 -5.2 1.3 -6.1 1.3 -6.6 1.2 -6.8 1.2 -6.3 1.3 -5.3 1.3 -3.8 1.2 -1.8 1.2 0.4 1.3 2.5 1.3 4.4 1.2 5.8 1.2 6.6 1.3 6.7 1.3 6.5 1.2 5.7 1.2 4.9 1.3 3.9 1.3 2.9 1.2 2.2 1.2 1.4 1.3 1 1.3 0.6 1.2 0.4 1.2 0.2 1.3 0.1 1.3 0 1.2 0.1 1.2 0 1.3 0 1.3 -0.1 1.2 0 1.2 -0.1 1.3 -0.3 1.3 -0.3 1.2 -0.7 1.2 -1 1.3 -1.5 1.3 -2.2 1.2 -3 1.2 -4 1.3 -4.9 1.3 -5.8 1.2 -6.5 1.2 -6.8 1.3 -6.5 1.3 -5.7 1.2 -4.2 1.2 -2.4 1.3 -0.2 1.3 1.9 1.2 3.9 1.2 5.5 1.3 6.4 1.3 6.7 1.2 6.6 1.2 6 1.3 5.1 1.3 4.2 1.2 3.2 1.2 2.3 1.3 1.7 1.3 1.1 1.2 0.6 1.2 0.5 1.3 0.2 1.3 0.2 1.2 0 1.2 0.1 1.3 0 1.3 0 1.2 0 1.2 0 1.3 0 1.3 0 1.2 0 1.2 0 1.3 0 1.3 0 1.2 0 1.2 0 1.3 0 1.3 0 1.2 0 1.2 0 1.3 0 1.3 0 1.2 0 1.2 0 1.3 0 1.3 0 1.2 0 1.2 0 1.3 0 1.3 0 1.2 0 1.2 0 1.3 0 1.3 0 1.2 -0.1 1.2 0 1.3 -0.2 1.3 -0.2 1.2 -0.4 1.2 -0.7 1.3 -1 1.3 -1.6 1.2 -2.2 1.2 -3 1.3 -3.9 1.3 -4.8 1.2 -5.5 1.2 -6.1 1.3 -6.2 1.3 -5.9 1.2 -4.9 1.2 -3.5 1.3 -1.6 1.3 0.4 1.2 2.3 1.2 4 1.3 5.3 1.3 6.1 1.2 6.2 1.2 5.9 1.3 5.3 1.3 4.5 1.2 3.6 1.2 2.7 1.3 2 1.3 1.3 1.2 0.9 1.2 0.6 1.3 0.3 1.3 0.2 1.2 0.1 1.2 0 1.3 0.1 1.3 0 1.2 0 1.2 0 1.3 -0.1 1.3 -0.1 1.2 -0.1 1.2 -0.3 1.3 -0.4 1.3 -0.7 1.2 -1.1 1.2 -1.7 1.3 -2.5 1.3 -3.5 1.2 -4.7 1.2 -6.2 1.3 -7.8 1.3 -9.3 1.2 -10.7 1.2 -11.8 1.3 -12.1 1.3 -11.8 1.2 -10.7 1.2 -8.5 1.3 -5.8 1.3 -2.5 1.2 1 1.2 4.5 1.3 7.6 1.3 9.9 1.2 11.3 1.2 12 1.3 11.7 1.3 10.8 1.2 9.2 1.2 7.3 1.3 5.2 1.3 3.1 1.2 0.9 1.2 -0.9 1.3 -2.7 1.3 -4 1.2 -4.9 1.2 -5.1 1.3 -4.9 1.3 -4 1.2 -2.7 1.2 -1 1.3 0.9 1.3 2.7 1.2 4.1 1.2 5.1 1.3 5.7 1.3 5.7 1.2 5.4 1.2 4.7 1.3 3.9 1.3 3.1 1.2 2.3 1.2 1.6 1.3 1.1 1.3 0.8 1.2 0.4 1.2 0.3 1.3 0.1 1.3 0.1 1.2 0.1 1.2 0 1.3 0 1.3 0 1.2 0 1.2 -0.1 1.3 -0.1 1.3 -0.1 1.2 -0.3 1.2 -0.4 1.3 -0.7 1.3 -1.1 1.2 -1.7 1.2 -2.5 1.3 -3.6 1.3 -4.8 1.2 -6.2 1.2 -7.9 1.3 -9.3 1.3 -10.7 1.2 -11.7 1.2 -11.9 1.3 -11.4 1.3 -10 1.2 -7.8 1.2 -4.9 1.3 -1.5 1.3 2.1 1.2 5.3 1.2 8.3 1.3 10.3 1.3 11.5 1.2 11.9 1.2 11.5 1.3 10.6 1.3 9.1 1.2 7.6 1.2 6 1.3 4.6 1.3 3.3 1.2 2.4 1.2 1.6 1.3 1 1.3 0.7 1.2 0.4 1.2 0.2 1.3 0.2 1.3 0 1.2 0.1 1.2 0 1.3 0 1.3 0 1.2 0 1.2 0 1.3 0 1.3 0 1.2 0 1.2 0 1.3 0 1.3 0 1.2 0 1.2 0 1.3 0 1.3 0 1.2 0 1.2 0 1.3 0 1.3 0 1.2 0 1.2 0 1.3 0 1.3 0 1.2 0 1.2 0 1.3 0 1.3 0 1.2 0 1.2 0 1.3 0 1.3 0 1.2 0 1.2 0 1.3 0 1.3 0 1.2 0 1.2 0 1.3 0 1.3 0 1.2 0 1.2 0 1.3 0 1.3 0 1.2 0 1.2 0 1.3 0 1.3 0 1.2 0 1.2 0 1.3 0 1.3 0 1.2 0 1.2 0 1.3 0 1.3 0 1.2 0 1.2 0 1.3 0 1.3 0 1.2 0 1.2 0 1.3 0 1.3 0 1.2 0 1.2 0 1.3 0 1.3 0 1.2 0 1.2 0 1.3 0 1.3 0 1.2 0 1.2 0 1.3 0 1.3 0 1.2 0 1.2 0 1.3 0 1.3 0 1.2 0 1.2 0 1.3 0 1.3 0 1.2 0 1.2 0 1.3 0 1.3 0 1.2 0 1.2 0 1.3 0 1.3 0 1.2 0 1.2 0 1.3 0 1.3 0 1.2 0 1.2 0 1.3 0 1.3 0 1.2 0 1.2 0 1.3 0 1.3 0 0.8 1.2z" fill="#e0f6de" stroke="none" opacity="0.9"/>
<path d="M1458 1071l0 -1.2 1.2 0 1.3 0 1.3 0 1.2 0 1.2 0 1.3 0 1.3 0 1.2 0 1.2 0 1.3 0 1.3 0 1.2 0 1.2 -0.1 1.3 0 1.3 -0.1 1.2 -0.3 1.2 -0.4 1.3 -0.6 1.3 -1.1 1.2 -1.6 1.2 -2.4 1.3 -3.4 1.3 -4.5 1.2 -5.7 1.2 -6.8 1.3 -7.8 1.3 -8.3 1.2 -8.2 1.2 -7.4 1.3 -5.8 1.3 -3.8 1.2 -1.1 1.2 1.6 1.3 4.1 1.3 6.1 1.2 7.6 1.2 8.2 1.3 8.3 1.3 7.6 1.2 6.7 1.2 5.5 1.3 4.3 1.3 3.2 1.2 2.3 1.2 1.5 1.3 1 1.3 0.6 1.2 0.4 1.2 0.2 1.3 0.1 1.3 0 1.2 0.1 1.2 0 1.3 -0.1 1.3 0 1.2 -0.1 1.2 -0.2 1.3 -0.3 1.3 -0.6 1.2 -0.9 1.2 -1.3 1.3 -2 1.3 -2.9 1.2 -3.7 1.2 -4.8 1.3 -5.8 1.3 -6.6 1.2 -7 1.2 -7 1.3 -6.3 1.3 -5 1.2 -3.2 1.2 -1.1 1.3 1.2 1.3 3.4 1.2 5.2 1.2 6.4 1.3 7 1.3 7 1.2 6.5 1.2 5.7 1.3 4.7 1.3 3.7 1.2 2.8 1.2 1.9 1.3 1.3 1.3 0.9 1.2 0.5 1.2 0.3 1.3 0.2 1.3 0.1 1.2 0.1 1.2 0 1.3 0 1.3 0 1.2 0 1.2 0 1.3 0 1.3 0 1.2 0 1.2 0 1.3 0 1.3 0 1.2 0 1.2 0 1.3 0 1.3 0 1.2 0 1.2 0 1.3 0 1.3 0 1.2 0 1.2 0 1.3 0 1.3 0 1.2 0 1.2 0 1.3 0 1.3 0 1.2 0 1.2 0 1.3 -0.1 1.3 0 1.2 -0.2 1.2 -0.2 1.3 -0.4 1.3 -0.7 1.2 -1 1.2 -1.4 1.3 -2 1.3 -2.8 1.2 -3.4 1.2 -4.1 1.3 -4.7 1.3 -5 1.2 -5 1.2 -4.4 1.3 -3.6 1.3 -2.2 1.2 -0.7 1.2 1 1.3 2.4 1.3 3.7 1.2 4.6 1.2 5 1.3 5 1.3 4.6 1.2 4 1.2 3.3 1.3 2.6 1.3 2 1.2 1.3 1.2 1 1.3 0.6 1.3 0.3 1.2 0.2 1.2 0.2 1.3 0 1.3 0.1 1.2 0 1.2 0 1.3 0 1.3 0 1.2 0 1.2 0 1.3 0 1.3 0 1.2 0 1.2 0 1.3 0 1.3 0 1.2 0 1.2 0 1.3 0 1.3 0 1.2 0 1.2 0 1.3 0 1.3 0 1.2 0 1.2 0 1.3 0 1.3 0 1.2 0 1.2 0 1.3 0 1.3 0 1.2 0 1.2 0 1.3 0 1.3 0 1.2 0 1.2 0 1.3 0 1.3 0 1.2 0 1.2 0 1.3 0 1.3 0 1.2 0 1.2 0 1.3 0 1.3 0 1.2 0 1.2 0 1.3 0 1.3 0 1.2 0 1.2 0 1.3 0 1.3 0 1.2 0 1.2 0 1.3 0 1.3 0 1.2 0 1.2 0 1.3 0 1.3 0 1.2 0 1.2 0 1.3 0 1.3 0 1.2 0 1.2 0 1.3 0 1.3 0 1.2 0 1.2 0 1.3 0 1.3 0 1.2 0 1.2 0 1.3 0 1.3 0 1.2 0 1.2 0 1.3 0 1.3 0 1.2 0 1.2 0 1.3 0 1.3 0 1.2 0 1.2 0 1.3 0 1.3 0 1.2 0 1.2 0 1.3 0 1.3 0 1.2 0 1.2 0 1.3 0 1.3 0 1.2 0 1.2 0 1.3 0 1.3 0 1.2 0 1.2 0 1.3 0 1.3 0 1.2 0 1.2 0 1.3 0 1.3 0 1.2 0 1.2 0 1.3 0 1.3 0 1.2 0 1.2 0 1.3 0 1.3 -0.1 1.2 0 1.2 -0.2 1.3 -0.2 1.3 -0.4 1.2 -0.6 1.2 -1 1.3 -1.4 1.3 -2 1.2 -2.8 1.2 -3.6 1.3 -4.5 1.3 -5.3 1.2 -5.9 1.2 -6.3 1.3 -6.2 1.3 -5.7 1.2 -4.7 1.2 -3.1 1.3 -1.3 1.3 0.7 1.2 2.6 1.2 4.1 1.3 5.5 1.3 6.1 1.2 6.3 1.2 6.1 1.3 5.5 1.3 4.8 1.2 3.9 1.2 3 1.3 2.2 1.3 1.6 1.2 1.1 1.2 0.7 1.3 0.5 1.3 0.3 1.2 0.1 1.2 0.1 1.3 0.1 1.3 0 1.2 0 1.2 0 1.3 0 1.3 0 1.2 0 1.2 0 1.3 0 1.3 0 1.2 0 1.2 0 1.3 0 1.3 0 1.2 0 1.2 0 1.3 0 1.3 0 1.2 0 1.2 0 1.3 0 1.3 0 1.2 0 1.2 0 1.3 0 1.3 0 1.2 0 1.2 0 1.3 0 1.3 0 1.2 0 1.2 0 1.3 0 1.3 0 1.2 0 1.2 0 1.3 0 1.3 0 1.2 0 1.2 0 1.3 0 1.3 0 1.2 0 1.2 0 1.3 0 1.3 0 1.2 0 1.2 0 1.3 0 1.3 0 1.2 0 1.2 0 1.3 0 1.3 0 1.2 -0.1 1.2 -0.1 1.3 -0.1 1.3 -0.3 1.2 -0.5 1.2 -0.8 1.3 -1.1 1.3 -1.7 1.2 -2.3 1.2 -3 1.3 -3.8 1.3 -4.5 1.2 -5.1 1.2 -5.3 1.3 -5.1 1.3 -4.5 1.2 -3.4 1.2 -2 1.3 -0.3 1.3 1.4 1.2 2.9 1.2 4.2 1.3 5 1.3 5.2 1.2 5.2 1.2 4.7 1.3 4.1 1.3 3.3 1.2 2.6 1.2 1.9 1.3 1.3 1.3 0.9 0.8 2.5z" fill="#dfe5f8" stroke="none" opacity="0.9"/>
<path d="M1458 1071l0 -14.8 1.2 -5.7 1.3 -7.1 1.3 -8.3 1.2 -9.1 1.2 -9.4 1.3 -8.9 1.3 -7.6 1.2 -5.6 1.2 -2.8 1.3 0.2 1.3 3.2 1.2 5.8 1.2 7.8 1.3 9 1.3 9.4 1.2 9.1 1.2 8.1 1.3 7 1.3 5.5 1.2 4.3 1.2 3.1 1.3 2.1 1.3 1.4 1.2 0.9 1.2 0.5 1.3 0.3 1.3 0.2 1.2 0.1 1.2 0.1 1.3 0 1.3 0 1.2 0 1.2 0 1.3 0 1.3 0 1.2 0 1.2 0 1.3 0 1.3 0 1.2 0 1.2 0 1.3 0 1.3 0 1.2 0 1.2 0 1.3 0 1.3 0 1.2 0 1.2 0 1.3 0 1.3 0 1.2 0 1.2 0 1.3 0 1.3 0 1.2 0 1.2 0 1.3 0 1.3 0 1.2 0 1.2 0 1.3 0 1.3 0 1.2 0 1.2 0 1.3 0 1.3 0 1.2 0 1.2 0 1.3 0 1.3 0 1.2 0 1.2 0 1.3 0 1.3 0 1.2 0 1.2 0 1.3 0 1.3 0 1.2 0 1.2 0 1.3 0 1.3 0 1.2 0 1.2 0 1.3 0 1.3 0 1.2 0 1.2 0 1.3 0 1.3 0 1.2 0 1.2 0 1.3 0 1.3 0 1.2 0 1.2 0 1.3 0 1.3 0 1.2 0 1.2 0 1.3 0 1.3 0 1.2 0 1.2 0 1.3 0 1.3 0 1.2 0 1.2 0 1.3 0 1.3 0 1.2 0 1.2 0 1.3 0 1.3 0 1.2 0 1.2 0 1.3 0 1.3 0 1.2 0 1.2 0 1.3 0 1.3 0 1.2 0 1.2 0 1.3 0 1.3 0 1.2 0 1.2 0 1.3 0 1.3 0 1.2 0 1.2 0 1.3 0 1.3 0 1.2 0 1.2 0 1.3 0 1.3 0 1.2 0 1.2 0 1.3 0 1.3 0 1.2 0 1.2 0 1.3 0 1.3 0 1.2 0 1.2 0 1.3 0 1.3 0 1.2 0 1.2 0 1.3 0 1.3 0 1.2 0 1.2 0 1.3 0 1.3 0 1.2 0 1.2 0 1.3 0 1.3 0 1.2 0 1.2 0 1.3 0 1.3 0 1.2 0 1.2 0 1.3 0 1.3 0 1.2 0 1.2 0 1.3 0 1.3 0 1.2 0 1.2 0 1.3 0 1.3 0 1.2 0 1.2 0 1.3 0 1.3 0 1.2 0 1.2 0 1.3 0 1.3 0 1.2 0 1.2 0 1.3 0 1.3 0 1.2 0 1.2 0 1.3 0 1.3 0 1.2 0 1.2 0 1.3 0 1.3 0 1.2 0 1.2 0 1.3 0 1.3 0 1.2 0 1.2 0 1.3 0 1.3 0 1.2 0 1.2 0 1.3 0 1.3 0 1.2 0 1.2 0 1.3 0 1.3 0 1.2 0 1.2 0 1.3 0 1.3 0 1.2 0 1.2 0 1.3 0 1.3 0 1.2 0 1.2 0 1.3 0 1.3 0 1.2 0 1.2 0 1.3 0 1.3 0 1.2 0 1.2 0 1.3 0 1.3 0 1.2 0 1.2 0 1.3 0 1.3 0 1.2 0 1.2 0 1.3 0 1.3 0 1.2 0 1.2 0 1.3 0 1.3 0 1.2 0 1.2 0 1.3 0 1.3 0 1.2 0 1.2 0 1.3 0 1.3 0 1.2 0 1.2 0 1.3 0 1.3 0 1.2 0 1.2 0 1.3 0 1.3 0 1.2 0 1.2 0 1.3 0 1.3 0 1.2 0 1.2 0 1.3 0 1.3 0 1.2 0 1.2 0 1.3 0 1.3 0 1.2 0 1.2 0 1.3 0 1.3 0 1.2 0 1.2 0 1.3 0 1.3 0 1.2 0 1.2 0 1.3 0 1.3 0 1.2 0 1.2 0 1.3 0 1.3 0 1.2 0 1.2 0 1.3 0 1.3 0 1.2 0 1.2 0 1.3 0 1.3 0 1.2 0 1.2 0 1.3 0 1.3 0 1.2 0 1.2 0 1.3 0 1.3 0 1.2 0 1.2 0 1.3 0 1.3 0 1.2 0 1.2 0 1.3 0 1.3 0 1.2 0 1.2 0 1.3 0 1.3 0 1.2 0 1.2 0 1.3 0 1.3 0 1.2 0 1.2 0 1.3 0 1.3 0 1.2 0 1.2 0 1.3 0 1.3 0 1.2 0 1.2 0 1.3 0 1.3 0 1.2 0 1.2 0 1.3 0 1.3 0 1.2 0 1.2 0 1.3 0 1.3 0 1.2 0 1.2 0 1.3 0 1.3 0 1.2 0 1.2 0 1.3 0 1.3 0 1.2 0 1.2 0 1.3 0 1.3 0 1.2 0 1.2 0 1.3 0 1.3 0 1.2 0 1.2 0 1.3 0 1.3 0 1.2 0 1.2 0 1.3 0 1.3 0 1.2 0 1.2 0 1.3 0 1.3 0 1.2 0 1.2 0 1.3 0 1.3 0 1.2 0 1.2 0 1.3 0 1.3 0 1.2 0 1.2 0 1.3 0 1.3 0 1.2 0 1.2 0 1.3 0 1.3 0 1.2 0 1.2 0 1.3 0 1.3 0 1.2 0 1.2 0 1.3 0 1.3 0 1.2 0 1.2 0 1.3 0 1.3 0 0.8 1.2z" fill="#f9dcda" stroke="none" opacity="0.9"/>
<path d="M1458 1071l0 -1.2 1.2 0 1.3 0 1.3 0 1.2 0 1.2 0 1.3 0 1.3 0 1.2 0 1.2 0 1.3 0 1.3 0 1.2 0 1.2 0 1.3 0 1.3 0 1.2 0 1.2 0 1.3 0 1.3 0 1.2 0 1.2 0 1.3 0 1.3 0 1.2 0 1.2 0 1.3 0 1.3 0 1.2 0 1.2 0 1.3 0 1.3 0 1.2 0 1.2 0 1.3 0 1.3 0 1.2 0 1.2 0 1.3 0 1.3 0 1.2 0 1.2 0 1.3 0 1.3 0 1.2 0 1.2 0 1.3 0 1.3 0 1.2 0 1.2 0 1.3 0 1.3 0 1.2 0 1.2 0 1.3 0 1.3 0 1.2 0 1.2 0 1.3 0 1.3 0 1.2 0 1.2 0 1.3 0 1.3 0 1.2 0 1.2 0 1.3 0 1.3 0 1.2 0 1.2 0 1.3 0 1.3 0 1.2 0 1.2 0 1.3 0 1.3 0 1.2 0 1.2 0 1.3 0 1.3 0 1.2 0 1.2 0 1.3 0 1.3 0 1.2 0 1.2 0 1.3 0 1.3 0 1.2 0 1.2 0 1.3 0 1.3 0 1.2 0 1.2 0 1.3 0 1.3 0 1.2 0 1.2 0 1.3 -0.1 1.3 0 1.2 -0.1 1.2 -0.2 1.3 -0.4 1.3 -0.5 1.2 -0.8 1.2 -1.3 1.3 -1.7 1.3 -2.3 1.2 -3 1.2 -3.5 1.3 -4.1 1.3 -4.3 1.2 -4.3 1.2 -4 1.3 -3.1 1.3 -2.1 1.2 -0.7 1.2 0.7 1.3 2.1 1.3 3.1 1.2 4 1.2 4.3 1.3 4.3 1.3 4.1 1.2 3.5 1.2 3 1.3 2.3 1.3 1.7 1.2 1.3 1.2 0.8 1.3 0.5 1.3 0.4 1.2 0.2 1.2 0.1 1.3 0 1.3 0.1 1.2 0 1.2 0 1.3 0 1.3 0 1.2 0 1.2 0 1.3 0 1.3 0 1.2 0 1.2 0 1.3 0 1.3 0 1.2 0 1.2 0 1.3 0 1.3 0 1.2 0 1.2 0 1.3 0 1.3 0 1.2 0 1.2 0 1.3 0 1.3 0 1.2 0 1.2 0 1.3 0 1.3 0 1.2 0 1.2 0 1.3 -0.1 1.3 0 1.2 -0.1 1.2 -0.2 1.3 -0.2 1.3 -0.5 1.2 -0.7 1.2 -1 1.3 -1.3 1.3 -1.9 1.2 -2.3 1.2 -2.8 1.3 -3.2 1.3 -3.3 1.2 -3.3 1.2 -2.9 1.3 -2.3 1.3 -1.4 1.2 -0.4 1.2 0.7 1.3 1.7 1.3 2.6 1.2 3.1 1.2 3.3 1.3 3.3 1.3 3 1.2 2.7 1.2 2.2 1.3 1.6 1.3 1.3 1.2 0.9 1.2 0.6 1.3 0.4 1.3 0.2 1.2 0.1 1.2 0.1 1.3 0.1 1.3 0 1.2 0 1.2 0 1.3 0 1.3 0 1.2 0 1.2 0 1.3 0 1.3 0 1.2 0 1.2 0 1.3 0 1.3 0 1.2 0 1.2 0 1.3 0 1.3 0 1.2 0 1.2 0 1.3 0 1.3 0 1.2 0 1.2 0 1.3 0 1.3 0 1.2 0 1.2 0 1.3 0 1.3 0 1.2 -0.1 1.2 -0.1 1.3 -0.1 1.3 -0.2 1.2 -0.5 1.2 -0.6 1.3 -1 1.3 -1.5 1.2 -2.1 1.2 -2.7 1.3 -3.4 1.3 -4.2 1.2 -4.7 1.2 -4.9 1.3 -4.9 1.3 -4.3 1.2 -3.4 1.2 -2.1 1.3 -0.6 1.3 1.1 1.2 2.5 1.2 3.8 1.3 4.6 1.3 4.9 1.2 4.9 1.2 4.5 1.3 3.9 1.3 3.3 1.2 2.5 1.2 1.8 1.3 1.3 1.3 0.9 1.2 0.6 1.2 0.4 1.3 0.2 1.3 0.1 1.2 0 1.2 0.1 1.3 0 1.3 0 1.2 0 1.2 0 1.3 0 1.3 0 1.2 0 1.2 0 1.3 0 1.3 0 1.2 0 1.2 0 1.3 0 1.3 0 1.2 0 1.2 0 1.3 0 1.3 0 1.2 0 1.2 0 1.3 0 1.3 0 1.2 0 1.2 0 1.3 0 1.3 0 1.2 0 1.2 0 1.3 -0.1 1.3 -0.1 1.2 -0.1 1.2 -0.2 1.3 -0.4 1.3 -0.5 1.2 -0.8 1.2 -1.2 1.3 -1.7 1.3 -2.2 1.2 -2.8 1.2 -3.4 1.3 -3.9 1.3 -4.4 1.2 -4.5 1.2 -4.5 1.3 -4 1.3 -3.2 1.2 -2.1 1.2 -0.9 1.3 0.5 1.3 1.8 1.2 2.9 1.2 3.8 1.3 4.2 1.3 4.2 1.2 3.9 1.2 3.2 1.3 2.3 1.3 1.2 1.2 -0.2 1.2 -1.6 1.3 -3 1.3 -4.4 1.2 -5.7 1.2 -6.7 1.3 -7.3 1.3 -7.4 1.2 -7 1.2 -6 1.3 -4.4 1.3 -2.4 1.2 -0.2 1.2 2 1.3 4 1.3 5.7 1.2 6.9 1.2 7.4 1.3 7.4 1.3 6.9 1.2 6 1.2 4.7 1.3 3.5 1.3 1.9 1.2 0.6 1.2 -0.9 1.3 -2.1 1.3 -3.3 1.2 -4.2 1.2 -4.7 1.3 -5 1.3 -4.8 1.2 -4.3 1.2 -3.1 1.3 -1.9 1.3 -0.3 1.2 1.2 1.2 2.7 1.3 3.8 1.3 4.7 1.2 5.2 1.2 5.2 1.3 4.9 1.3 4.4 1.2 3.8 1.2 3.1 1.3 2.4 1.3 1.8 1.2 1.3 1.2 0.9 1.3 0.6 1.3 0.4 1.2 0.2 1.2 0.1 1.3 0.1 1.3 0.1 1.2 0 1.2 0 1.3 0 1.3 0 1.2 0 1.2 0 1.3 0 1.3 0 1.2 0 1.2 0 1.3 0 1.3 -0.4 1.2 -2.1 1.2 -6.7 1.3 -9.3 1.3 -1.7 0.8 21.4z" fill="#d9d9d9" stroke="none" opacity="0.9"/>
<path d="M1458 1069.8l1.2 0 1.3 0 1.3 0 1.2 0 1.2 0 1.3 0 1.3 0 1.2 0 1.2 0 1.3 0 1.3 0 1.2 0 1.2 0 1.3 0 1.3 0 1.2 0 1.2 0 1.3 0 1.3 0 1.2 0 1.2 0 1.3 0 1.3 0 1.2 0 1.2 0 1.3 0 1.3 0 1.2 0 1.2 0 1.3 0 1.3 0 1.2 0 1.2 0 1.3 -0.1 1.3 -0.1 1.2 -0.1 1.2 -0.3 1.3 -0.4 1.3 -0.7 1.2 -1.1 1.2 -1.7 1.3 -2.4 1.3 -3.3 1.2 -4.2 1.2 -5.2 1.3 -6.1 1.3 -6.6 1.2 -6.8 1.2 -6.3 1.3 -5.3 1.3 -3.8 1.2 -1.8 1.2 0.4 1.3 2.5 1.3 4.4 1.2 5.8 1.2 6.6 1.3 6.7 1.3 6.5 1.2 5.7 1.2 4.9 1.3 3.9 1.3 2.9 1.2 2.2 1.2 1.4 1.3 1 1.3 0.6 1.2 0.4 1.2 0.2 1.3 0.1 1.3 0 1.2 0.1 1.2 0 1.3 0 1.3 -0.1 1.2 0 1.2 -0.1 1.3 -0.3 1.3 -0.3 1.2 -0.7 1.2 -1 1.3 -1.5 1.3 -2.2 1.2 -3 1.2 -4 1.3 -4.9 1.3 -5.8 1.2 -6.5 1.2 -6.8 1.3 -6.5 1.3 -5.7 1.2 -4.2 1.2 -2.4 1.3 -0.2 1.3 1.9 1.2 3.9 1.2 5.5 1.3 6.4 1.3 6.7 1.2 6.6 1.2 6 1.3 5.1 1.3 4.2 1.2 3.2 1.2 2.3 1.3 1.7 1.3 1.1 1.2 0.6 1.2 0.5 1.3 0.2 1.3 0.2 1.2 0 1.2 0.1 1.3 0 1.3 0 1.2 0 1.2 0 1.3 0 1.3 0 1.2 0 1.2 0 1.3 0 1.3 0 1.2 0 1.2 0 1.3 0 1.3 0 1.2 0 1.2 0 1.3 0 1.3 0 1.2 0 1.2 0 1.3 0 1.3 0 1.2 0 1.2 0 1.3 0 1.3 0 1.2 0 1.2 0 1.3 0 1.3 0 1.2 -0.1 1.2 0 1.3 -0.2 1.3 -0.2 1.2 -0.4 1.2 -0.7 1.3 -1 1.3 -1.6 1.2 -2.2 1.2 -3 1.3 -3.9 1.3 -4.8 1.2 -5.5 1.2 -6.1 1.3 -6.2 1.3 -5.9 1.2 -4.9 1.2 -3.5 1.3 -1.6 1.3 0.4 1.2 2.3 1.2 4 1.3 5.3 1.3 6.1 1.2 6.2 1.2 5.9 1.3 5.3 1.3 4.5 1.2 3.6 1.2 2.7 1.3 2 1.3 1.3 1.2 0.9 1.2 0.6 1.3 0.3 1.3 0.2 1.2 0.1 1.2 0 1.3 0.1 1.3 0 1.2 0 1.2 0 1.3 -0.1 1.3 -0.1 1.2 -0.1 1.2 -0.3 1.3 -0.4 1.3 -0.7 1.2 -1.1 1.2 -1.7 1.3 -2.5 1.3 -3.5 1.2 -4.7 1.2 -6.2 1.3 -7.8 1.3 -9.3 1.2 -10.7 1.2 -11.8 1.3 -12.1 1.3 -11.8 1.2 -10.7 1.2 -8.5 1.3 -5.8 1.3 -2.5 1.2 1 1.2 4.5 1.3 7.6 1.3 9.9 1.2 11.3 1.2 12 1.3 11.7 1.3 10.8 1.2 9.2 1.2 7.3 1.3 5.2 1.3 3.1 1.2 0.9 1.2 -0.9 1.3 -2.7 1.3 -4 1.2 -4.9 1.2 -5.1 1.3 -4.9 1.3 -4 1.2 -2.7 1.2 -1 1.3 0.9 1.3 2.7 1.2 4.1 1.2 5.1 1.3 5.7 1.3 5.7 1.2 5.4 1.2 4.7 1.3 3.9 1.3 3.1 1.2 2.3 1.2 1.6 1.3 1.1 1.3 0.8 1.2 0.4 1.2 0.3 1.3 0.1 1.3 0.1 1.2 0.1 1.2 0 1.3 0 1.3 0 1.2 0 1.2 -0.1 1.3 -0.1 1.3 -0.1 1.2 -0.3 1.2 -0.4 1.3 -0.7 1.3 -1.1 1.2 -1.7 1.2 -2.5 1.3 -3.6 1.3 -4.8 1.2 -6.2 1.2 -7.9 1.3 -9.3 1.3 -10.7 1.2 -11.7 1.2 -11.9 1.3 -11.4 1.3 -10 1.2 -7.8 1.2 -4.9 1.3 -1.5 1.3 2.1 1.2 5.3 1.2 8.3 1.3 10.3 1.3 11.5 1.2 11.9 1.2 11.5 1.3 10.6 1.3 9.1 1.2 7.6 1.2 6 1.3 4.6 1.3 3.3 1.2 2.4 1.2 1.6 1.3 1 1.3 0.7 1.2 0.4 1.2 0.2 1.3 0.2 1.3 0 1.2 0.1 1.2 0 1.3 0 1.3 0 1.2 0 1.2 0 1.3 0 1.3 0 1.2 0 1.2 0 1.3 0 1.3 0 1.2 0 1.2 0 1.3 0 1.3 0 1.2 0 1.2 0 1.3 0 1.3 0 1.2 0 1.2 0 1.3 0 1.3 0 1.2 0 1.2 0 1.3 0 1.3 0 1.2 0 1.2 0 1.3 0 1.3 0 1.2 0 1.2 0 1.3 0 1.3 0 1.2 0 1.2 0 1.3 0 1.3 0 1.2 0 1.2 0 1.3 0 1.3 0 1.2 0 1.2 0 1.3 0 1.3 0 1.2 0 1.2 0 1.3 0 1.3 0 1.2 0 1.2 0 1.3 0 1.3 0 1.2 0 1.2 0 1.3 0 1.3 0 1.2 0 1.2 0 1.3 0 1.3 0 1.2 0 1.2 0 1.3 0 1.3 0 1.2 0 1.2 0 1.3 0 1.3 0 1.2 0 1.2 0 1.3 0 1.3 0 1.2 0 1.2 0 1.3 0 1.3 0 1.2 0 1.2 0 1.3 0 1.3 0 1.2 0 1.2 0 1.3 0 1.3 0 1.2 0 1.2 0 1.3 0 1.3 0 1.2 0 1.2 0 1.3 0 1.3 0 1.2 0 1.2 0 1.3 0 1.3 0 1.2 0 1.2 0 1.3 0 1.3 0" fill="none" stroke="#35c435" stroke-width="2.5" stroke-linejoin="round"/>
<path d="M1458 1069.8l1.2 0 1.3 0 1.3 0 1.2 0 1.2 0 1.3 0 1.3 0 1.2 0 1.2 0 1.3 0 1.3 0 1.2 0 1.2 -0.1 1.3 0 1.3 -0.1 1.2 -0.3 1.2 -0.4 1.3 -0.6 1.3 -1.1 1.2 -1.6 1.2 -2.4 1.3 -3.4 1.3 -4.5 1.2 -5.7 1.2 -6.8 1.3 -7.8 1.3 -8.3 1.2 -8.2 1.2 -7.4 1.3 -5.8 1.3 -3.8 1.2 -1.1 1.2 1.6 1.3 4.1 1.3 6.1 1.2 7.6 1.2 8.2 1.3 8.3 1.3 7.6 1.2 6.7 1.2 5.5 1.3 4.3 1.3 3.2 1.2 2.3 1.2 1.5 1.3 1 1.3 0.6 1.2 0.4 1.2 0.2 1.3 0.1 1.3 0 1.2 0.1 1.2 0 1.3 -0.1 1.3 0 1.2 -0.1 1.2 -0.2 1.3 -0.3 1.3 -0.6 1.2 -0.9 1.2 -1.3 1.3 -2 1.3 -2.9 1.2 -3.7 1.2 -4.8 1.3 -5.8 1.3 -6.6 1.2 -7 1.2 -7 1.3 -6.3 1.3 -5 1.2 -3.2 1.2 -1.1 1.3 1.2 1.3 3.4 1.2 5.2 1.2 6.4 1.3 7 1.3 7 1.2 6.5 1.2 5.7 1.3 4.7 1.3 3.7 1.2 2.8 1.2 1.9 1.3 1.3 1.3 0.9 1.2 0.5 1.2 0.3 1.3 0.2 1.3 0.1 1.2 0.1 1.2 0 1.3 0 1.3 0 1.2 0 1.2 0 1.3 0 1.3 0 1.2 0 1.2 0 1.3 0 1.3 0 1.2 0 1.2 0 1.3 0 1.3 0 1.2 0 1.2 0 1.3 0 1.3 0 1.2 0 1.2 0 1.3 0 1.3 0 1.2 0 1.2 0 1.3 0 1.3 0 1.2 0 1.2 0 1.3 -0.1 1.3 0 1.2 -0.2 1.2 -0.2 1.3 -0.4 1.3 -0.7 1.2 -1 1.2 -1.4 1.3 -2 1.3 -2.8 1.2 -3.4 1.2 -4.1 1.3 -4.7 1.3 -5 1.2 -5 1.2 -4.4 1.3 -3.6 1.3 -2.2 1.2 -0.7 1.2 1 1.3 2.4 1.3 3.7 1.2 4.6 1.2 5 1.3 5 1.3 4.6 1.2 4 1.2 3.3 1.3 2.6 1.3 2 1.2 1.3 1.2 1 1.3 0.6 1.3 0.3 1.2 0.2 1.2 0.2 1.3 0 1.3 0.1 1.2 0 1.2 0 1.3 0 1.3 0 1.2 0 1.2 0 1.3 0 1.3 0 1.2 0 1.2 0 1.3 0 1.3 0 1.2 0 1.2 0 1.3 0 1.3 0 1.2 0 1.2 0 1.3 0 1.3 0 1.2 0 1.2 0 1.3 0 1.3 0 1.2 0 1.2 0 1.3 0 1.3 0 1.2 0 1.2 0 1.3 0 1.3 0 1.2 0 1.2 0 1.3 0 1.3 0 1.2 0 1.2 0 1.3 0 1.3 0 1.2 0 1.2 0 1.3 0 1.3 0 1.2 0 1.2 0 1.3 0 1.3 0 1.2 0 1.2 0 1.3 0 1.3 0 1.2 0 1.2 0 1.3 0 1.3 0 1.2 0 1.2 0 1.3 0 1.3 0 1.2 0 1.2 0 1.3 0 1.3 0 1.2 0 1.2 0 1.3 0 1.3 0 1.2 0 1.2 0 1.3 0 1.3 0 1.2 0 1.2 0 1.3 0 1.3 0 1.2 0 1.2 0 1.3 0 1.3 0 1.2 0 1.2 0 1.3 0 1.3 0 1.2 0 1.2 0 1.3 0 1.3 0 1.2 0 1.2 0 1.3 0 1.3 0 1.2 0 1.2 0 1.3 0 1.3 0 1.2 0 1.2 0 1.3 0 1.3 0 1.2 0 1.2 0 1.3 0 1.3 0 1.2 0 1.2 0 1.3 0 1.3 0 1.2 0 1.2 0 1.3 0 1.3 0 1.2 0 1.2 0 1.3 0 1.3 -0.1 1.2 0 1.2 -0.2 1.3 -0.2 1.3 -0.4 1.2 -0.6 1.2 -1 1.3 -1.4 1.3 -2 1.2 -2.8 1.2 -3.6 1.3 -4.5 1.3 -5.3 1.2 -5.9 1.2 -6.3 1.3 -6.2 1.3 -5.7 1.2 -4.7 1.2 -3.1 1.3 -1.3 1.3 0.7 1.2 2.6 1.2 4.1 1.3 5.5 1.3 6.1 1.2 6.3 1.2 6.1 1.3 5.5 1.3 4.8 1.2 3.9 1.2 3 1.3 2.2 1.3 1.6 1.2 1.1 1.2 0.7 1.3 0.5 1.3 0.3 1.2 0.1 1.2 0.1 1.3 0.1 1.3 0 1.2 0 1.2 0 1.3 0 1.3 0 1.2 0 1.2 0 1.3 0 1.3 0 1.2 0 1.2 0 1.3 0 1.3 0 1.2 0 1.2 0 1.3 0 1.3 0 1.2 0 1.2 0 1.3 0 1.3 0 1.2 0 1.2 0 1.3 0 1.3 0 1.2 0 1.2 0 1.3 0 1.3 0 1.2 0 1.2 0 1.3 0 1.3 0 1.2 0 1.2 0 1.3 0 1.3 0 1.2 0 1.2 0 1.3 0 1.3 0 1.2 0 1.2 0 1.3 0 1.3 0 1.2 0 1.2 0 1.3 0 1.3 0 1.2 0 1.2 0 1.3 0 1.3 0 1.2 -0.1 1.2 -0.1 1.3 -0.1 1.3 -0.3 1.2 -0.5 1.2 -0.8 1.3 -1.1 1.3 -1.7 1.2 -2.3 1.2 -3 1.3 -3.8 1.3 -4.5 1.2 -5.1 1.2 -5.3 1.3 -5.1 1.3 -4.5 1.2 -3.4 1.2 -2 1.3 -0.3 1.3 1.4 1.2 2.9 1.2 4.2 1.3 5 1.3 5.2 1.2 5.2 1.2 4.7 1.3 4.1 1.3 3.3 1.2 2.6 1.2 1.9 1.3 1.3 1.3 0.9" fill="none" stroke="#4a6fd8" stroke-width="2.5" stroke-linejoin="round"/>
<path d="M1458 1056.2l1.2 -5.7 1.3 -7.1 1.3 -8.3 1.2 -9.1 1.2 -9.4 1.3 -8.9 1.3 -7.6 1.2 -5.6 1.2 -2.8 1.3 0.2 1.3 3.2 1.2 5.8 1.2 7.8 1.3 9 1.3 9.4 1.2 9.1 1.2 8.1 1.3 7 1.3 5.5 1.2 4.3 1.2 3.1 1.3 2.1 1.3 1.4 1.2 0.9 1.2 0.5 1.3 0.3 1.3 0.2 1.2 0.1 1.2 0.1 1.3 0 1.3 0 1.2 0 1.2 0 1.3 0 1.3 0 1.2 0 1.2 0 1.3 0 1.3 0 1.2 0 1.2 0 1.3 0 1.3 0 1.2 0 1.2 0 1.3 0 1.3 0 1.2 0 1.2 0 1.3 0 1.3 0 1.2 0 1.2 0 1.3 0 1.3 0 1.2 0 1.2 0 1.3 0 1.3 0 1.2 0 1.2 0 1.3 0 1.3 0 1.2 0 1.2 0 1.3 0 1.3 0 1.2 0 1.2 0 1.3 0 1.3 0 1.2 0 1.2 0 1.3 0 1.3 0 1.2 0 1.2 0 1.3 0 1.3 0 1.2 0 1.2 0 1.3 0 1.3 0 1.2 0 1.2 0 1.3 0 1.3 0 1.2 0 1.2 0 1.3 0 1.3 0 1.2 0 1.2 0 1.3 0 1.3 0 1.2 0 1.2 0 1.3 0 1.3 0 1.2 0 1.2 0 1.3 0 1.3 0 1.2 0 1.2 0 1.3 0 1.3 0 1.2 0 1.2 0 1.3 0 1.3 0 1.2 0 1.2 0 1.3 0 1.3 0 1.2 0 1.2 0 1.3 0 1.3 0 1.2 0 1.2 0 1.3 0 1.3 0 1.2 0 1.2 0 1.3 0 1.3 0 1.2 0 1.2 0 1.3 0 1.3 0 1.2 0 1.2 0 1.3 0 1.3 0 1.2 0 1.2 0 1.3 0 1.3 0 1.2 0 1.2 0 1.3 0 1.3 0 1.2 0 1.2 0 1.3 0 1.3 0 1.2 0 1.2 0 1.3 0 1.3 0 1.2 0 1.2 0 1.3 0 1.3 0 1.2 0 1.2 0 1.3 0 1.3 0 1.2 0 1.2 0 1.3 0 1.3 0 1.2 0 1.2 0 1.3 0 1.3 0 1.2 0 1.2 0 1.3 0 1.3 0 1.2 0 1.2 0 1.3 0 1.3 0 1.2 0 1.2 0 1.3 0 1.3 0 1.2 0 1.2 0 1.3 0 1.3 0 1.2 0 1.2 0 1.3 0 1.3 0 1.2 0 1.2 0 1.3 0 1.3 0 1.2 0 1.2 0 1.3 0 1.3 0 1.2 0 1.2 0 1.3 0 1.3 0 1.2 0 1.2 0 1.3 0 1.3 0 1.2 0 1.2 0 1.3 0 1.3 0 1.2 0 1.2 0 1.3 0 1.3 0 1.2 0 1.2 0 1.3 0 1.3 0 1.2 0 1.2 0 1.3 0 1.3 0 1.2 0 1.2 0 1.3 0 1.3 0 1.2 0 1.2 0 1.3 0 1.3 0 1.2 0 1.2 0 1.3 0 1.3 0 1.2 0 1.2 0 1.3 0 1.3 0 1.2 0 1.2 0 1.3 0 1.3 0 1.2 0 1.2 0 1.3 0 1.3 0 1.2 0 1.2 0 1.3 0 1.3 0 1.2 0 1.2 0 1.3 0 1.3 0 1.2 0 1.2 0 1.3 0 1.3 0 1.2 0 1.2 0 1.3 0 1.3 0 1.2 0 1.2 0 1.3 0 1.3 0 1.2 0 1.2 0 1.3 0 1.3 0 1.2 0 1.2 0 1.3 0 1.3 0 1.2 0 1.2 0 1.3 0 1.3 0 1.2 0 1.2 0 1.3 0 1.3 0 1.2 0 1.2 0 1.3 0 1.3 0 1.2 0 1.2 0 1.3 0 1.3 0 1.2 0 1.2 0 1.3 0 1.3 0 1.2 0 1.2 0 1.3 0 1.3 0 1.2 0 1.2 0 1.3 0 1.3 0 1.2 0 1.2 0 1.3 0 1.3 0 1.2 0 1.2 0 1.3 0 1.3 0 1.2 0 1.2 0 1.3 0 1.3 0 1.2 0 1.2 0 1.3 0 1.3 0 1.2 0 1.2 0 1.3 0 1.3 0 1.2 0 1.2 0 1.3 0 1.3 0 1.2 0 1.2 0 1.3 0 1.3 0 1.2 0 1.2 0 1.3 0 1.3 0 1.2 0 1.2 0 1.3 0 1.3 0 1.2 0 1.2 0 1.3 0 1.3 0 1.2 0 1.2 0 1.3 0 1.3 0 1.2 0 1.2 0 1.3 0 1.3 0 1.2 0 1.2 0 1.3 0 1.3 0 1.2 0 1.2 0 1.3 0 1.3 0 1.2 0 1.2 0 1.3 0 1.3 0 1.2 0 1.2 0 1.3 0 1.3 0 1.2 0 1.2 0 1.3 0 1.3 0 1.2 0 1.2 0 1.3 0 1.3 0 1.2 0 1.2 0 1.3 0 1.3 0 1.2 0 1.2 0 1.3 0 1.3 0 1.2 0 1.2 0 1.3 0 1.3 0 1.2 0 1.2 0 1.3 0 1.3 0 1.2 0 1.2 0 1.3 0 1.3 0 1.2 0 1.2 0 1.3 0 1.3 0 1.2 0 1.2 0 1.3 0 1.3 0" fill="none" stroke="#e8453c" stroke-width="2.5" stroke-linejoin="round"/>
<path d="M1458 1069.8l1.2 0 1.3 0 1.3 0 1.2 0 1.2 0 1.3 0 1.3 0 1.2 0 1.2 0 1.3 0 1.3 0 1.2 0 1.2 0 1.3 0 1.3 0 1.2 0 1.2 0 1.3 0 1.3 0 1.2 0 1.2 0 1.3 0 1.3 0 1.2 0 1.2 0 1.3 0 1.3 0 1.2 0 1.2 0 1.3 0 1.3 0 1.2 0 1.2 0 1.3 0 1.3 0 1.2 0 1.2 0 1.3 0 1.3 0 1.2 0 1.2 0 1.3 0 1.3 0 1.2 0 1.2 0 1.3 0 1.3 0 1.2 0 1.2 0 1.3 0 1.3 0 1.2 0 1.2 0 1.3 0 1.3 0 1.2 0 1.2 0 1.3 0 1.3 0 1.2 0 1.2 0 1.3 0 1.3 0 1.2 0 1.2 0 1.3 0 1.3 0 1.2 0 1.2 0 1.3 0 1.3 0 1.2 0 1.2 0 1.3 0 1.3 0 1.2 0 1.2 0 1.3 0 1.3 0 1.2 0 1.2 0 1.3 0 1.3 0 1.2 0 1.2 0 1.3 0 1.3 0 1.2 0 1.2 0 1.3 0 1.3 0 1.2 0 1.2 0 1.3 0 1.3 0 1.2 0 1.2 0 1.3 -0.1 1.3 0 1.2 -0.1 1.2 -0.2 1.3 -0.4 1.3 -0.5 1.2 -0.8 1.2 -1.3 1.3 -1.7 1.3 -2.3 1.2 -3 1.2 -3.5 1.3 -4.1 1.3 -4.3 1.2 -4.3 1.2 -4 1.3 -3.1 1.3 -2.1 1.2 -0.7 1.2 0.7 1.3 2.1 1.3 3.1 1.2 4 1.2 4.3 1.3 4.3 1.3 4.1 1.2 3.5 1.2 3 1.3 2.3 1.3 1.7 1.2 1.3 1.2 0.8 1.3 0.5 1.3 0.4 1.2 0.2 1.2 0.1 1.3 0 1.3 0.1 1.2 0 1.2 0 1.3 0 1.3 0 1.2 0 1.2 0 1.3 0 1.3 0 1.2 0 1.2 0 1.3 0 1.3 0 1.2 0 1.2 0 1.3 0 1.3 0 1.2 0 1.2 0 1.3 0 1.3 0 1.2 0 1.2 0 1.3 0 1.3 0 1.2 0 1.2 0 1.3 0 1.3 0 1.2 0 1.2 0 1.3 -0.1 1.3 0 1.2 -0.1 1.2 -0.2 1.3 -0.2 1.3 -0.5 1.2 -0.7 1.2 -1 1.3 -1.3 1.3 -1.9 1.2 -2.3 1.2 -2.8 1.3 -3.2 1.3 -3.3 1.2 -3.3 1.2 -2.9 1.3 -2.3 1.3 -1.4 1.2 -0.4 1.2 0.7 1.3 1.7 1.3 2.6 1.2 3.1 1.2 3.3 1.3 3.3 1.3 3 1.2 2.7 1.2 2.2 1.3 1.6 1.3 1.3 1.2 0.9 1.2 0.6 1.3 0.4 1.3 0.2 1.2 0.1 1.2 0.1 1.3 0.1 1.3 0 1.2 0 1.2 0 1.3 0 1.3 0 1.2 0 1.2 0 1.3 0 1.3 0 1.2 0 1.2 0 1.3 0 1.3 0 1.2 0 1.2 0 1.3 0 1.3 0 1.2 0 1.2 0 1.3 0 1.3 0 1.2 0 1.2 0 1.3 0 1.3 0 1.2 0 1.2 0 1.3 0 1.3 0 1.2 -0.1 1.2 -0.1 1.3 -0.1 1.3 -0.2 1.2 -0.5 1.2 -0.6 1.3 -1 1.3 -1.5 1.2 -2.1 1.2 -2.7 1.3 -3.4 1.3 -4.2 1.2 -4.7 1.2 -4.9 1.3 -4.9 1.3 -4.3 1.2 -3.4 1.2 -2.1 1.3 -0.6 1.3 1.1 1.2 2.5 1.2 3.8 1.3 4.6 1.3 4.9 1.2 4.9 1.2 4.5 1.3 3.9 1.3 3.3 1.2 2.5 1.2 1.8 1.3 1.3 1.3 0.9 1.2 0.6 1.2 0.4 1.3 0.2 1.3 0.1 1.2 0 1.2 0.1 1.3 0 1.3 0 1.2 0 1.2 0 1.3 0 1.3 0 1.2 0 1.2 0 1.3 0 1.3 0 1.2 0 1.2 0 1.3 0 1.3 0 1.2 0 1.2 0 1.3 0 1.3 0 1.2 0 1.2 0 1.3 0 1.3 0 1.2 0 1.2 0 1.3 0 1.3 0 1.2 0 1.2 0 1.3 -0.1 1.3 -0.1 1.2 -0.1 1.2 -0.2 1.3 -0.4 1.3 -0.5 1.2 -0.8 1.2 -1.2 1.3 -1.7 1.3 -2.2 1.2 -2.8 1.2 -3.4 1.3 -3.9 1.3 -4.4 1.2 -4.5 1.2 -4.5 1.3 -4 1.3 -3.2 1.2 -2.1 1.2 -0.9 1.3 0.5 1.3 1.8 1.2 2.9 1.2 3.8 1.3 4.2 1.3 4.2 1.2 3.9 1.2 3.2 1.3 2.3 1.3 1.2 1.2 -0.2 1.2 -1.6 1.3 -3 1.3 -4.4 1.2 -5.7 1.2 -6.7 1.3 -7.3 1.3 -7.4 1.2 -7 1.2 -6 1.3 -4.4 1.3 -2.4 1.2 -0.2 1.2 2 1.3 4 1.3 5.7 1.2 6.9 1.2 7.4 1.3 7.4 1.3 6.9 1.2 6 1.2 4.7 1.3 3.5 1.3 1.9 1.2 0.6 1.2 -0.9 1.3 -2.1 1.3 -3.3 1.2 -4.2 1.2 -4.7 1.3 -5 1.3 -4.8 1.2 -4.3 1.2 -3.1 1.3 -1.9 1.3 -0.3 1.2 1.2 1.2 2.7 1.3 3.8 1.3 4.7 1.2 5.2 1.2 5.2 1.3 4.9 1.3 4.4 1.2 3.8 1.2 3.1 1.3 2.4 1.3 1.8 1.2 1.3 1.2 0.9 1.3 0.6 1.3 0.4 1.2 0.2 1.2 0.1 1.3 0.1 1.3 0.1 1.2 0 1.2 0 1.3 0 1.3 0 1.2 0 1.2 0 1.3 0 1.3 0 1.2 0 1.2 0 1.3 0 1.3 -0.4 1.2 -2.1 1.2 -6.7 1.3 -9.3 1.3 -1.7" fill="none" stroke="#262626" stroke-width="2.5" stroke-linejoin="round"/>
<path d="M1461.8 814.3H1951.3" stroke="#2b2b2b" stroke-width="1.6" opacity="0.8"/>
<path d="M1481.8 815.4H1951.3" stroke="#d94a44" stroke-width="1.8" opacity="0.9"/>
<path d="M1458 1070.8H1957.6" stroke="#2b2b2b" stroke-width="1.6" opacity="0.8"/>
<path d="M1478 1071.9H1957.6" stroke="#d94a44" stroke-width="1.8" opacity="0.9"/>
<path d="M1573.4 672V812M1846.4 672V812M1544.3 925V1068M1820.1 925V1068" stroke="#c8c8c8" stroke-width="1.4" stroke-dasharray="3.2 4.6" fill="none"/>
<text x="1471.4" y="659.8" font-family='"Liberation Sans", sans-serif' font-size="22" font-weight="normal" fill="#e8564e" text-anchor="middle" stroke="#e8564e" stroke-width="0.7">T</text>
<text x="1498.8" y="659.8" font-family='"Liberation Sans", sans-serif' font-size="22" font-weight="normal" fill="#6f8fe6" text-anchor="middle" stroke="#6f8fe6" stroke-width="0.7">C</text>
<text x="1523.4" y="659.8" font-family='"Liberation Sans", sans-serif' font-size="22" font-weight="normal" fill="#48cf48" text-anchor="middle" stroke="#48cf48" stroke-width="0.7">A</text>
<text x="1551.5" y="659.8" font-family='"Liberation Sans", sans-serif' font-size="22" font-weight="normal" fill="#6f8fe6" text-anchor="middle" stroke="#6f8fe6" stroke-width="0.7">C</text>
<text x="1575" y="659.8" font-family='"Liberation Sans", sans-serif' font-size="22" font-weight="normal" fill="#48cf48" text-anchor="middle" stroke="#48cf48" stroke-width="0.7">A</text>
<text x="1603" y="659.8" font-family='"Liberation Sans", sans-serif' font-size="22" font-weight="normal" fill="#333" text-anchor="middle" stroke="#333" stroke-width="0.7">G</text>
<text x="1632.4" y="659.8" font-family='"Liberation Sans", sans-serif' font-size="22" font-weight="normal" fill="#6f8fe6" text-anchor="middle" stroke="#6f8fe6" stroke-width="0.7">C</text>
<text x="1659.1" y="659.8" font-family='"Liberation Sans", sans-serif' font-size="22" font-weight="normal" fill="#48cf48" text-anchor="middle" stroke="#48cf48" stroke-width="0.7">A</text>
<text x="1687.4" y="659.8" font-family='"Liberation Sans", sans-serif' font-size="22" font-weight="normal" fill="#333" text-anchor="middle" stroke="#333" stroke-width="0.7">G</text>
<text x="1715.2" y="659.8" font-family='"Liberation Sans", sans-serif' font-size="22" font-weight="normal" fill="#48cf48" text-anchor="middle" stroke="#48cf48" stroke-width="0.7">A</text>
<text x="1741.6" y="659.8" font-family='"Liberation Sans", sans-serif' font-size="22" font-weight="normal" fill="#48cf48" text-anchor="middle" stroke="#48cf48" stroke-width="0.7">A</text>
<text x="1769.7" y="659.8" font-family='"Liberation Sans", sans-serif' font-size="22" font-weight="normal" fill="#333" text-anchor="middle" stroke="#333" stroke-width="0.7">G</text>
<text x="1796.6" y="659.8" font-family='"Liberation Sans", sans-serif' font-size="22" font-weight="normal" fill="#48cf48" text-anchor="middle" stroke="#48cf48" stroke-width="0.7">A</text>
<text x="1821.9" y="659.8" font-family='"Liberation Sans", sans-serif' font-size="22" font-weight="normal" fill="#e8564e" text-anchor="middle" stroke="#e8564e" stroke-width="0.7">T</text>
<text x="1847.7" y="659.8" font-family='"Liberation Sans", sans-serif' font-size="22" font-weight="normal" fill="#333" text-anchor="middle" stroke="#333" stroke-width="0.7">G</text>
<text x="1878.9" y="659.8" font-family='"Liberation Sans", sans-serif' font-size="22" font-weight="normal" fill="#333" text-anchor="middle" stroke="#333" stroke-width="0.7">G</text>
<text x="1905.8" y="659.8" font-family='"Liberation Sans", sans-serif' font-size="22" font-weight="normal" fill="#333" text-anchor="middle" stroke="#333" stroke-width="0.7">G</text>
<text x="1932.3" y="659.8" font-family='"Liberation Sans", sans-serif' font-size="22" font-weight="normal" fill="#6f8fe6" text-anchor="middle" stroke="#6f8fe6" stroke-width="0.7">C</text>
<text x="1468" y="914.1" font-family='"Liberation Sans", sans-serif' font-size="22" font-weight="normal" fill="#e8564e" text-anchor="middle" stroke="#e8564e" stroke-width="0.7">T</text>
<text x="1495.4" y="914.1" font-family='"Liberation Sans", sans-serif' font-size="22" font-weight="normal" fill="#6f8fe6" text-anchor="middle" stroke="#6f8fe6" stroke-width="0.7">C</text>
<text x="1521.9" y="914.1" font-family='"Liberation Sans", sans-serif' font-size="22" font-weight="normal" fill="#48cf48" text-anchor="middle" stroke="#48cf48" stroke-width="0.7">A</text>
<text x="1545.4" y="914.1" font-family='"Liberation Sans", sans-serif' font-size="22" font-weight="normal" fill="#6f8fe6" text-anchor="middle" stroke="#6f8fe6" stroke-width="0.7">C</text>
<text x="1572.8" y="914.1" font-family='"Liberation Sans", sans-serif' font-size="22" font-weight="normal" fill="#48cf48" text-anchor="middle" stroke="#48cf48" stroke-width="0.7">A</text>
<text x="1599.7" y="914.1" font-family='"Liberation Sans", sans-serif' font-size="22" font-weight="normal" fill="#333" text-anchor="middle" stroke="#333" stroke-width="0.7">G</text>
<text x="1627.7" y="914.1" font-family='"Liberation Sans", sans-serif' font-size="22" font-weight="normal" fill="#6f8fe6" text-anchor="middle" stroke="#6f8fe6" stroke-width="0.7">C</text>
<text x="1656.9" y="914.1" font-family='"Liberation Sans", sans-serif' font-size="22" font-weight="normal" fill="#48cf48" text-anchor="middle" stroke="#48cf48" stroke-width="0.7">A</text>
<text x="1683.8" y="914.1" font-family='"Liberation Sans", sans-serif' font-size="22" font-weight="normal" fill="#333" text-anchor="middle" stroke="#333" stroke-width="0.7">G</text>
<text x="1715.4" y="914.1" font-family='"Liberation Sans", sans-serif' font-size="22" font-weight="normal" fill="#48cf48" text-anchor="middle" stroke="#48cf48" stroke-width="0.7">A</text>
<text x="1742.8" y="914.1" font-family='"Liberation Sans", sans-serif' font-size="22" font-weight="normal" fill="#48cf48" text-anchor="middle" stroke="#48cf48" stroke-width="0.7">A</text>
<text x="1769.2" y="914.1" font-family='"Liberation Sans", sans-serif' font-size="22" font-weight="normal" fill="#333" text-anchor="middle" stroke="#333" stroke-width="0.7">G</text>
<text x="1797.7" y="914.1" font-family='"Liberation Sans", sans-serif' font-size="22" font-weight="normal" fill="#48cf48" text-anchor="middle" stroke="#48cf48" stroke-width="0.7">A</text>
<text x="1821.9" y="914.1" font-family='"Liberation Sans", sans-serif' font-size="22" font-weight="normal" fill="#6f8fe6" text-anchor="middle" stroke="#6f8fe6" stroke-width="0.7">C</text>
<text x="1853.3" y="914.1" font-family='"Liberation Sans", sans-serif' font-size="22" font-weight="normal" fill="#333" text-anchor="middle" stroke="#333" stroke-width="0.7">G</text>
<text x="1880.7" y="914.1" font-family='"Liberation Sans", sans-serif' font-size="22" font-weight="normal" fill="#333" text-anchor="middle" stroke="#333" stroke-width="0.7">G</text>
<text x="1907.6" y="914.1" font-family='"Liberation Sans", sans-serif' font-size="22" font-weight="normal" fill="#333" text-anchor="middle" stroke="#333" stroke-width="0.7">G</text>
<text x="1937.9" y="914.1" font-family='"Liberation Sans", sans-serif' font-size="22" font-weight="normal" fill="#6f8fe6" text-anchor="middle" stroke="#6f8fe6" stroke-width="0.7">C</text>
<text transform="translate(1493.2,610.5) scale(1,1.03)" font-family='"Liberation Sans", sans-serif' font-size="33.5" font-weight="bold" fill="#000" text-anchor="middle" >S</text>
<text transform="translate(1573.9,610.5) scale(1,1.03)" font-family='"Liberation Sans", sans-serif' font-size="33.5" font-weight="bold" fill="#000" text-anchor="middle" >Q</text>
<text transform="translate(1656.9,610.5) scale(1,1.03)" font-family='"Liberation Sans", sans-serif' font-size="33.5" font-weight="bold" fill="#000" text-anchor="middle" >Q</text>
<text transform="translate(1736,610.5) scale(1,1.03)" font-family='"Liberation Sans", sans-serif' font-size="33.5" font-weight="bold" fill="#000" text-anchor="middle" >K</text>
<text transform="translate(1819.7,610.5) scale(1,1.03)" font-family='"Liberation Sans", sans-serif' font-size="33.5" font-weight="bold" fill="#f00" text-anchor="middle" >M</text>
<text transform="translate(1902.7,610.5) scale(1,1.03)" font-family='"Liberation Sans", sans-serif' font-size="33.5" font-weight="bold" fill="#000" text-anchor="middle" >G</text>
<text transform="translate(1493.2,865.4) scale(1,1.03)" font-family='"Liberation Sans", sans-serif' font-size="33.5" font-weight="bold" fill="#000" text-anchor="middle" >S</text>
<text transform="translate(1573.9,865.4) scale(1,1.03)" font-family='"Liberation Sans", sans-serif' font-size="33.5" font-weight="bold" fill="#000" text-anchor="middle" >Q</text>
<text transform="translate(1656.9,865.4) scale(1,1.03)" font-family='"Liberation Sans", sans-serif' font-size="33.5" font-weight="bold" fill="#000" text-anchor="middle" >Q</text>
<text transform="translate(1736,865.4) scale(1,1.03)" font-family='"Liberation Sans", sans-serif' font-size="33.5" font-weight="bold" fill="#000" text-anchor="middle" >K</text>
<text transform="translate(1815.6,865.4) scale(1,1.03)" font-family='"Liberation Sans", sans-serif' font-size="33.5" font-weight="bold" fill="#000" text-anchor="middle" >T</text>
<text transform="translate(1902.7,865.4) scale(1,1.03)" font-family='"Liberation Sans", sans-serif' font-size="33.5" font-weight="bold" fill="#000" text-anchor="middle" >G</text>
<path d="M1466 628.6V621.5q0 -3 3 -3H1520.7q3 0 3 3V628.6" fill="none" stroke="#000" stroke-width="4.2"/>
<path d="M1545.6 628.6V621.5q0 -3 3 -3H1600.5q3 0 3 3V628.6" fill="none" stroke="#000" stroke-width="4.2"/>
<path d="M1629.7 628.6V621.5q0 -3 3 -3H1684.4q3 0 3 3V628.6" fill="none" stroke="#000" stroke-width="4.2"/>
<path d="M1712.7 628.6V621.5q0 -3 3 -3H1767.4q3 0 3 3V628.6" fill="none" stroke="#000" stroke-width="4.2"/>
<path d="M1792.3 628.6V621.5q0 -3 3 -3H1847q3 0 3 3V628.6" fill="none" stroke="#000" stroke-width="4.2"/>
<path d="M1876 628.6V621.5q0 -3 3 -3H1930.6q3 0 3 3V628.6" fill="none" stroke="#000" stroke-width="4.2"/>
<path d="M1466 883.2V876q0 -3 3 -3H1520.7q3 0 3 3V883.2" fill="none" stroke="#000" stroke-width="4.2"/>
<path d="M1545.6 883.2V876q0 -3 3 -3H1600.5q3 0 3 3V883.2" fill="none" stroke="#000" stroke-width="4.2"/>
<path d="M1629.7 883.2V876q0 -3 3 -3H1684.4q3 0 3 3V883.2" fill="none" stroke="#000" stroke-width="4.2"/>
<path d="M1712.7 883.2V876q0 -3 3 -3H1767.4q3 0 3 3V883.2" fill="none" stroke="#000" stroke-width="4.2"/>
<path d="M1792.3 883.2V876q0 -3 3 -3H1847q3 0 3 3V883.2" fill="none" stroke="#000" stroke-width="4.2"/>
<path d="M1876 883.2V876q0 -3 3 -3H1930.6q3 0 3 3V883.2" fill="none" stroke="#000" stroke-width="4.2"/>
<text transform="translate(1440.2,696.5) rotate(-90)" font-family='"Liberation Sans", sans-serif' font-size="47.5" font-weight="bold" text-anchor="middle" opacity="0.996">Mother</text>
<text transform="translate(1440.2,956.2) rotate(-90)" font-family='"Liberation Sans", sans-serif' font-size="47.5" font-weight="bold" text-anchor="middle" opacity="0.996">Father</text>
</g>
<g id="panelE">
<path d="M2172 713H2340M2254.9 713V853" stroke="#000" stroke-width="4.2" fill="none"/>
<rect x="2121.1" y="687.5" width="50.4" height="50.4" fill="#fff" stroke="#000" stroke-width="4.8" rx="2"/>
<circle cx="2364.7" cy="713" r="27.8" fill="#000"/>
<rect x="2227.6" y="850.8" width="55.8" height="55.8" fill="#000" rx="2.5"/>
<text transform="translate(2147.2,781.9) scale(1,1.04)" font-family='"Liberation Sans", sans-serif' font-size="35.5" font-weight="bold" fill="#000" text-anchor="middle" >-/-</text>
<text transform="translate(2376,781.9) scale(1,1.04)" font-family='"Liberation Sans", sans-serif' font-size="35.5" font-weight="bold" fill="#000" text-anchor="middle" >T262M/-</text>
<text transform="translate(2270,956) scale(1,1.04)" font-family='"Liberation Sans", sans-serif' font-size="35.5" font-weight="bold" fill="#000" text-anchor="middle" >T262M/-</text>
<path d="M2146.8 942.2L2195 901.5" stroke="#000" stroke-width="5" fill="none"/>
<path d="M2206.8 891.8L2200.2 909.2L2188.4 895.2z" fill="#000"/>
</g>
<defs>
<linearGradient id="cylB" x1="0" y1="0" x2="1" y2="0"><stop offset="0" stop-color="#4b8fd6"/><stop offset="0.12" stop-color="#5397da"/><stop offset="0.5" stop-color="#4380c2"/><stop offset="0.85" stop-color="#356a9f"/><stop offset="1" stop-color="#2e5f90"/></linearGradient>
<linearGradient id="cylT" x1="0" y1="0" x2="1" y2="0.3"><stop offset="0" stop-color="#7fabd9"/><stop offset="0.55" stop-color="#a6c4e2"/><stop offset="1" stop-color="#86aed6"/></linearGradient>
<linearGradient id="hdT" x1="0.15" y1="0.1" x2="0.85" y2="0.9"><stop offset="0" stop-color="#bd580f"/><stop offset="0.55" stop-color="#e2711a"/><stop offset="1" stop-color="#f27f1f"/></linearGradient>
<linearGradient id="hdB" x1="0.15" y1="0.1" x2="0.85" y2="0.9"><stop offset="0" stop-color="#f27f1f"/><stop offset="0.45" stop-color="#e2711a"/><stop offset="1" stop-color="#bd580f"/></linearGradient>
<linearGradient id="ntail" gradientUnits="userSpaceOnUse" x1="0" y1="1348" x2="0" y2="1510"><stop offset="0" stop-color="#4a8ccf"/><stop offset="1" stop-color="#386fa8"/></linearGradient>
</defs>
<g id="panelF">
<path d="M121.6 1148C130.6 1168 127.6 1192 119.4 1213M117.1 1219.5C110.6 1240 115.1 1262 120.8 1283M131.8 1148C140.8 1168 137.8 1192 129.6 1213M127.3 1219.5C120.8 1240 125.3 1262 131 1283M162.7 1148C171.7 1168 168.7 1192 160.5 1213M158.2 1219.5C151.7 1240 156.2 1262 161.9 1283M172.9 1148C181.9 1168 178.9 1192 170.7 1213M168.4 1219.5C161.9 1240 166.4 1262 172.1 1283M203.8 1148C212.8 1168 209.8 1192 201.6 1213M199.3 1219.5C192.8 1240 197.3 1262 203 1283M214 1148C223 1168 220 1192 211.8 1213M209.5 1219.5C203 1240 207.5 1262 213.2 1283M244.9 1148C253.9 1168 250.9 1192 242.7 1213M240.4 1219.5C233.9 1240 238.4 1262 244.1 1283M255.1 1148C264.1 1168 261.1 1192 252.9 1213M250.6 1219.5C244.1 1240 248.6 1262 254.3 1283M286.3 1148C295.3 1168 292.3 1192 284.1 1213M281.8 1219.5C275.3 1240 279.8 1262 285.5 1283M296.5 1148C305.5 1168 302.5 1192 294.3 1213M292 1219.5C285.5 1240 290 1262 295.7 1283M327.4 1148C336.4 1168 333.4 1192 325.2 1213M322.9 1219.5C316.4 1240 320.9 1262 326.6 1283M337.6 1148C346.6 1168 343.6 1192 335.4 1213M333.1 1219.5C326.6 1240 331.1 1262 336.8 1283M368.5 1148C377.5 1168 374.5 1192 366.3 1213M364 1219.5C357.5 1240 362 1262 367.7 1283M378.7 1148C387.7 1168 384.7 1192 376.5 1213M374.2 1219.5C367.7 1240 372.2 1262 377.9 1283M409.7 1148C418.7 1168 415.7 1192 407.5 1213M405.2 1219.5C398.7 1240 403.2 1262 408.9 1283M419.9 1148C428.9 1168 425.9 1192 417.7 1213M415.4 1219.5C408.9 1240 413.4 1262 419.1 1283M450.7 1148C459.7 1168 456.7 1192 448.5 1213M446.2 1219.5C439.7 1240 444.2 1262 449.9 1283M460.9 1148C469.9 1168 466.9 1192 458.7 1213M456.4 1219.5C449.9 1240 454.4 1262 460.1 1283M491.2 1148C500.2 1168 497.2 1192 489 1213M486.7 1219.5C480.2 1240 484.7 1262 490.4 1283M501.4 1148C510.4 1168 507.4 1192 499.2 1213M496.9 1219.5C490.4 1240 494.9 1262 500.6 1283M532.3 1148C541.3 1168 538.3 1192 530.1 1213M527.8 1219.5C521.3 1240 525.8 1262 531.5 1283M542.5 1148C551.5 1168 548.5 1192 540.3 1213M538 1219.5C531.5 1240 536 1262 541.7 1283M573.4 1148C582.4 1168 579.4 1192 571.2 1213M568.9 1219.5C562.4 1240 566.9 1262 572.6 1283M583.6 1148C592.6 1168 589.6 1192 581.4 1213M579.1 1219.5C572.6 1240 577.1 1262 582.8 1283M614.5 1148C623.5 1168 620.5 1192 612.3 1213M610 1219.5C603.5 1240 608 1262 613.7 1283M624.7 1148C633.7 1168 630.7 1192 622.5 1213M620.2 1219.5C613.7 1240 618.2 1262 623.9 1283M655.6 1148C664.6 1168 661.6 1192 653.4 1213M651.1 1219.5C644.6 1240 649.1 1262 654.8 1283M665.8 1148C674.8 1168 671.8 1192 663.6 1213M661.3 1219.5C654.8 1240 659.3 1262 665 1283M694.3 1148C703.3 1168 700.3 1192 692.1 1213M689.8 1219.5C683.3 1240 687.8 1262 693.5 1283M704.5 1148C713.5 1168 710.5 1192 702.3 1213M700 1219.5C693.5 1240 698 1262 703.7 1283M735.9 1148C744.9 1168 741.9 1192 733.7 1213M731.4 1219.5C724.9 1240 729.4 1262 735.1 1283M746.1 1148C755.1 1168 752.1 1192 743.9 1213M741.6 1219.5C735.1 1240 739.6 1262 745.3 1283M777.3 1148C786.3 1168 783.3 1192 775.1 1213M772.8 1219.5C766.3 1240 770.8 1262 776.5 1283M787.5 1148C796.5 1168 793.5 1192 785.3 1213M783 1219.5C776.5 1240 781 1262 786.7 1283M818.8 1148C827.8 1168 824.8 1192 816.6 1213M814.3 1219.5C807.8 1240 812.3 1262 818 1283M829 1148C838 1168 835 1192 826.8 1213M824.5 1219.5C818 1240 822.5 1262 828.2 1283M859.5 1148C868.5 1168 865.5 1192 857.3 1213M855 1219.5C848.5 1240 853 1262 858.7 1283M869.7 1148C878.7 1168 875.7 1192 867.5 1213M865.2 1219.5C858.7 1240 863.2 1262 868.9 1283M899.3 1148C908.3 1168 905.3 1192 897.1 1213M894.8 1219.5C888.3 1240 892.8 1262 898.5 1283M909.5 1148C918.5 1168 915.5 1192 907.3 1213M905 1219.5C898.5 1240 903 1262 908.7 1283M941.4 1148C950.4 1168 947.4 1192 939.2 1213M936.9 1219.5C930.4 1240 934.9 1262 940.6 1283M951.6 1148C960.6 1168 957.6 1192 949.4 1213M947.1 1219.5C940.6 1240 945.1 1262 950.8 1283M983.4 1148C992.4 1168 989.4 1192 981.2 1213M978.9 1219.5C972.4 1240 976.9 1262 982.6 1283M993.6 1148C1002.6 1168 999.6 1192 991.4 1213M989.1 1219.5C982.6 1240 987.1 1262 992.8 1283M1025.5 1148C1034.5 1168 1031.5 1192 1023.3 1213M1021 1219.5C1014.5 1240 1019 1262 1024.7 1283M1035.7 1148C1044.7 1168 1041.7 1192 1033.5 1213M1031.2 1219.5C1024.7 1240 1029.2 1262 1034.9 1283M1067.5 1148C1076.5 1168 1073.5 1192 1065.3 1213M1063 1219.5C1056.5 1240 1061 1262 1066.7 1283M1077.7 1148C1086.7 1168 1083.7 1192 1075.5 1213M1073.2 1219.5C1066.7 1240 1071.2 1262 1076.9 1283" stroke="#f07d2c" stroke-width="3.8" fill="none" stroke-linecap="butt"/>
<circle cx="126.8" cy="1131.3" r="19.6" fill="url(#hdT)"/>
<circle cx="126.8" cy="1299.2" r="19.6" fill="url(#hdB)"/>
<circle cx="167.9" cy="1131.3" r="19.6" fill="url(#hdT)"/>
<circle cx="167.9" cy="1299.2" r="19.6" fill="url(#hdB)"/>
<circle cx="209" cy="1131.3" r="19.6" fill="url(#hdT)"/>
<circle cx="209" cy="1299.2" r="19.6" fill="url(#hdB)"/>
<circle cx="250.1" cy="1131.3" r="19.6" fill="url(#hdT)"/>
<circle cx="250.1" cy="1299.2" r="19.6" fill="url(#hdB)"/>
<circle cx="291.5" cy="1131.3" r="19.6" fill="url(#hdT)"/>
<circle cx="291.5" cy="1299.2" r="19.6" fill="url(#hdB)"/>
<circle cx="332.6" cy="1131.3" r="19.6" fill="url(#hdT)"/>
<circle cx="332.6" cy="1299.2" r="19.6" fill="url(#hdB)"/>
<circle cx="373.7" cy="1131.3" r="19.6" fill="url(#hdT)"/>
<circle cx="373.7" cy="1299.2" r="19.6" fill="url(#hdB)"/>
<circle cx="414.9" cy="1131.3" r="19.6" fill="url(#hdT)"/>
<circle cx="414.9" cy="1299.2" r="19.6" fill="url(#hdB)"/>
<circle cx="455.9" cy="1131.3" r="19.6" fill="url(#hdT)"/>
<circle cx="455.9" cy="1299.2" r="19.6" fill="url(#hdB)"/>
<circle cx="496.4" cy="1131.3" r="19.6" fill="url(#hdT)"/>
<circle cx="496.4" cy="1299.2" r="19.6" fill="url(#hdB)"/>
<circle cx="537.5" cy="1131.3" r="19.6" fill="url(#hdT)"/>
<circle cx="537.5" cy="1299.2" r="19.6" fill="url(#hdB)"/>
<circle cx="578.6" cy="1131.3" r="19.6" fill="url(#hdT)"/>
<circle cx="578.6" cy="1299.2" r="19.6" fill="url(#hdB)"/>
<circle cx="619.7" cy="1131.3" r="19.6" fill="url(#hdT)"/>
<circle cx="619.7" cy="1299.2" r="19.6" fill="url(#hdB)"/>
<circle cx="660.8" cy="1131.3" r="19.6" fill="url(#hdT)"/>
<circle cx="660.8" cy="1299.2" r="19.6" fill="url(#hdB)"/>
<circle cx="699.5" cy="1131.3" r="19.6" fill="url(#hdT)"/>
<circle cx="699.5" cy="1299.2" r="19.6" fill="url(#hdB)"/>
<circle cx="741.1" cy="1131.3" r="19.6" fill="url(#hdT)"/>
<circle cx="741.1" cy="1299.2" r="19.6" fill="url(#hdB)"/>
<circle cx="782.5" cy="1131.3" r="19.6" fill="url(#hdT)"/>
<circle cx="782.5" cy="1299.2" r="19.6" fill="url(#hdB)"/>
<circle cx="824" cy="1131.3" r="19.6" fill="url(#hdT)"/>
<circle cx="824" cy="1299.2" r="19.6" fill="url(#hdB)"/>
<circle cx="864.7" cy="1131.3" r="19.6" fill="url(#hdT)"/>
<circle cx="864.7" cy="1299.2" r="19.6" fill="url(#hdB)"/>
<circle cx="904.5" cy="1131.3" r="19.6" fill="url(#hdT)"/>
<circle cx="904.5" cy="1299.2" r="19.6" fill="url(#hdB)"/>
<circle cx="946.6" cy="1131.3" r="19.6" fill="url(#hdT)"/>
<circle cx="946.6" cy="1299.2" r="19.6" fill="url(#hdB)"/>
<circle cx="988.6" cy="1131.3" r="19.6" fill="url(#hdT)"/>
<circle cx="988.6" cy="1299.2" r="19.6" fill="url(#hdB)"/>
<circle cx="1030.7" cy="1131.3" r="19.6" fill="url(#hdT)"/>
<circle cx="1030.7" cy="1299.2" r="19.6" fill="url(#hdB)"/>
<circle cx="1072.7" cy="1131.3" r="19.6" fill="url(#hdT)"/>
<circle cx="1072.7" cy="1299.2" r="19.6" fill="url(#hdB)"/>
<path d="M270 1072C276 1056 296 1050.5 313 1050.5C332 1050.5 346 1058 350 1074" stroke="#4f93d8" stroke-width="4.2" fill="none"/>
<path d="M455 1073C462 1059 480 1052.5 498 1052.5C516 1052.5 530 1059 535.5 1074" stroke="#4f93d8" stroke-width="4.2" fill="none"/>
<path d="M355 1346C362 1360 376 1367 392 1367C408 1367 424 1360 433 1346" stroke="#4f93d8" stroke-width="4.2" fill="none"/>
<path d="M552 1346C558 1361 572 1369.5 589 1369.5C606 1369.5 620 1362 629 1346" stroke="#4f93d8" stroke-width="4.2" fill="none"/>
<path d="M633 1074C636 1020 640 966 655.5 966C674 966 716 1168 743 1168C766 1168 772 1007 796 1007C814 1007 832 1045 842 1074" stroke="#2f6ca8" stroke-width="4.2" fill="none" stroke-linejoin="round"/>
<path d="M268 1340C268 1362 300 1370 297 1391C294 1410 262 1424 241 1442" stroke="url(#ntail)" stroke-width="4" fill="none"/>
<path d="M241 1448C262 1466 295 1474 291 1487C287 1497 250 1502 222.5 1506" stroke="#3f78b0" stroke-width="4" fill="none"/>
<path d="M848.3 1340C848.5 1380 851 1451 876 1451C898 1451 938 1405.5 958 1406.5C981 1408 1002 1470 1000.5 1494C999 1516 981 1531 965 1540.5" stroke="#3a73ad" stroke-width="4" fill="none"/>
<path d="M229.1 1078.6V1338.2A37.3 9.6 0 0 0 303.6 1338.2V1078.6z" fill="url(#cylB)" stroke="#2e6298" stroke-width="0.9"/>
<ellipse cx="266.4" cy="1078.6" rx="37.3" ry="9.6" fill="url(#cylT)" stroke="#386da3" stroke-width="1.1"/>
<text transform="translate(259.3,1221) scale(1,1.04)" font-family='"Liberation Sans", sans-serif' font-size="47" font-weight="bold" fill="#fff" text-anchor="middle" >S1</text>
<path d="M319.2 1080.1V1339.9A37.2 9.6 0 0 0 393.7 1339.9V1080.1z" fill="url(#cylB)" stroke="#2e6298" stroke-width="0.9"/>
<ellipse cx="356.4" cy="1080.1" rx="37.2" ry="9.6" fill="url(#cylT)" stroke="#386da3" stroke-width="1.1"/>
<text transform="translate(349.8,1221) scale(1,1.04)" font-family='"Liberation Sans", sans-serif' font-size="47" font-weight="bold" fill="#fff" text-anchor="middle" >S2</text>
<path d="M412 1081.2V1341.4A37.3 9.6 0 0 0 486.7 1341.4V1081.2z" fill="url(#cylB)" stroke="#2e6298" stroke-width="0.9"/>
<ellipse cx="449.4" cy="1081.2" rx="37.3" ry="9.6" fill="url(#cylT)" stroke="#386da3" stroke-width="1.1"/>
<text transform="translate(446.9,1221) scale(1,1.04)" font-family='"Liberation Sans", sans-serif' font-size="47" font-weight="bold" fill="#fff" text-anchor="middle" >S3</text>
<path d="M508.3 1081.2V1340.9A37.3 9.6 0 0 0 583 1340.9V1081.2z" fill="url(#cylB)" stroke="#2e6298" stroke-width="0.9"/>
<ellipse cx="545.6" cy="1081.2" rx="37.3" ry="9.6" fill="url(#cylT)" stroke="#386da3" stroke-width="1.1"/>
<text transform="translate(542.6,1221) scale(1,1.04)" font-family='"Liberation Sans", sans-serif' font-size="47" font-weight="bold" fill="#fff" text-anchor="middle" >S4</text>
<path d="M603.9 1081.1V1340.9A37.4 9.6 0 0 0 678.6 1340.9V1081.1z" fill="url(#cylB)" stroke="#2e6298" stroke-width="0.9"/>
<ellipse cx="641.2" cy="1081.1" rx="37.4" ry="9.6" fill="url(#cylT)" stroke="#386da3" stroke-width="1.1"/>
<text transform="translate(639.9,1221) scale(1,1.04)" font-family='"Liberation Sans", sans-serif' font-size="47" font-weight="bold" fill="#fff" text-anchor="middle" >S5</text>
<path d="M805.9 1081.1V1341.4A37.3 9.6 0 0 0 880.5 1341.4V1081.1z" fill="url(#cylB)" stroke="#2e6298" stroke-width="0.9"/>
<ellipse cx="843.2" cy="1081.1" rx="37.3" ry="9.6" fill="url(#cylT)" stroke="#386da3" stroke-width="1.1"/>
<text transform="translate(841.8,1221) scale(1,1.04)" font-family='"Liberation Sans", sans-serif' font-size="47" font-weight="bold" fill="#fff" text-anchor="middle" >S6</text>
<circle cx="240.2" cy="1442.6" r="15.2" fill="#ff0000"/>
<text transform="translate(55.5,1457.9) scale(1,1.04)" font-family='"Liberation Sans", sans-serif' font-size="52" font-weight="bold" fill="#ff0000" text-anchor="start" textLength="162" lengthAdjust="spacingAndGlyphs">T262M</text>
<text transform="translate(136.5,1524.6) scale(1,1.04)" font-family='"Liberation Sans", sans-serif' font-size="46.5" font-weight="bold" fill="#002060">NH<tspan font-size="30" dy="11.3">2</tspan></text>
<text transform="translate(815.3,1557.6) scale(1,1.035)" font-family='"Liberation Sans", sans-serif' font-size="47" font-weight="bold" fill="#002060" text-anchor="start" >COOH</text>
</g>
<g id="panelG">
<text x="2141" y="1150.2" font-family='"Liberation Sans", sans-serif' font-size="51" font-weight="bold" fill="#ff0000" text-anchor="middle" textLength="85.5" lengthAdjust="spacingAndGlyphs">262</text>
<text transform="translate(1785.3,1231.3) scale(1.1743,1)" font-family='"Liberation Mono", monospace' font-size="52.4" font-weight="bold" font-style="italic" text-anchor="end" stroke="#fff" stroke-width="0.4">Homo sapiens</text>
<text transform="translate(1822.3,1231.3) scale(1.1743,1)" font-family='"Liberation Mono", monospace' font-size="52.4" font-weight="bold" stroke="#fff" stroke-width="0.8">ESYISQQK<tspan fill="#ff0000">T</tspan>GVGGTGID</text>
<text transform="translate(1785.3,1304.8) scale(1.1743,1)" font-family='"Liberation Mono", monospace' font-size="52.4" font-weight="bold" font-style="italic" text-anchor="end" stroke="#fff" stroke-width="0.4">Mus musculus</text>
<text transform="translate(1822.3,1304.8) scale(1.1743,1)" font-family='"Liberation Mono", monospace' font-size="52.4" font-weight="bold" stroke="#fff" stroke-width="0.8">ESYVAQQK<tspan fill="#ff0000">T</tspan>GVGGTGID</text>
<text transform="translate(1785.3,1378.3) scale(1.1743,1)" font-family='"Liberation Mono", monospace' font-size="52.4" font-weight="bold" font-style="italic" text-anchor="end" stroke="#fff" stroke-width="0.4">Rattus norveglcus</text>
<text transform="translate(1822.3,1378.3) scale(1.1743,1)" font-family='"Liberation Mono", monospace' font-size="52.4" font-weight="bold" stroke="#fff" stroke-width="0.8">ESYVAQQK<tspan fill="#ff0000">T</tspan>GVGGTGID</text>
<text transform="translate(1785.3,1451.8) scale(1.1743,1)" font-family='"Liberation Mono", monospace' font-size="52.4" font-weight="bold" font-style="italic" text-anchor="end" stroke="#fff" stroke-width="0.4">Macaca mulatta</text>
<text transform="translate(1822.3,1451.8) scale(1.1743,1)" font-family='"Liberation Mono", monospace' font-size="52.4" font-weight="bold" stroke="#fff" stroke-width="0.8">ESYISQQK<tspan fill="#ff0000">T</tspan>GVGGTGID</text>
<text transform="translate(1785.3,1525.3) scale(1.1743,1)" font-family='"Liberation Mono", monospace' font-size="52.4" font-weight="bold" font-style="italic" text-anchor="end" stroke="#fff" stroke-width="0.4">Pan troglodytes</text>
<text transform="translate(1822.3,1525.3) scale(1.1743,1)" font-family='"Liberation Mono", monospace' font-size="52.4" font-weight="bold" stroke="#fff" stroke-width="0.8">ESYISQQK<tspan fill="#ff0000">T</tspan>GVGGTGID</text>
</g>
<g id="labels">
<text transform="translate(52.3,86) scale(1,1.02)" font-family='"Liberation Sans", sans-serif' font-size="53.5" font-weight="bold" fill="#000" text-anchor="start" >A</text>
<text transform="translate(1147,86) scale(1,1.02)" font-family='"Liberation Sans", sans-serif' font-size="53.5" font-weight="bold" fill="#000" text-anchor="start" >B</text>
<text transform="translate(53.5,606) scale(1,1.02)" font-family='"Liberation Sans", sans-serif' font-size="53.5" font-weight="bold" fill="#000" text-anchor="start" >C</text>
<text transform="translate(1323.5,606) scale(1,1.02)" font-family='"Liberation Sans", sans-serif' font-size="53.5" font-weight="bold" fill="#000" text-anchor="start" >D</text>
<text transform="translate(2027,605.6) scale(1,1.02)" font-family='"Liberation Sans", sans-serif' font-size="53.5" font-weight="bold" fill="#000" text-anchor="start" >E</text>
<text transform="translate(56,1069.7) scale(1,1.02)" font-family='"Liberation Sans", sans-serif' font-size="53.5" font-weight="bold" fill="#000" text-anchor="start" >F</text>
<text transform="translate(1194.5,1141.6) scale(1,1.02)" font-family='"Liberation Sans", sans-serif' font-size="53.5" font-weight="bold" fill="#000" text-anchor="start" >G</text>
</g>
</g>
</svg>
</body></html>
